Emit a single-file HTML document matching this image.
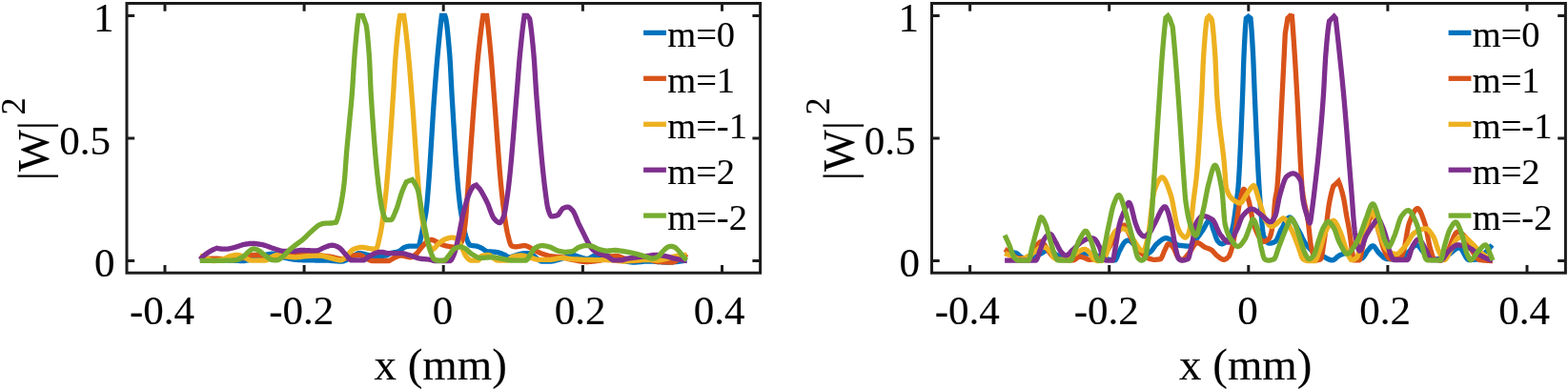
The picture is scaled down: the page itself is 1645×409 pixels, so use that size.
<!DOCTYPE html>
<html lang="en"><head><meta charset="utf-8"><title>|W|^2 vs x (mm)</title>
<style>html,body{margin:0;padding:0;background:#fff;overflow:hidden}svg{display:block}text{font-family:"Liberation Serif",serif}</style>
</head><body>
<svg width="1645" height="409" viewBox="0 0 1645 409">
<rect width="1645" height="409" fill="#fff"/>
<g fill="none" stroke-width="5.3" stroke-linejoin="miter" stroke-miterlimit="4" stroke-linecap="butt">
<path d="M209.8,272.0 L210.3,272.0 L210.8,272.0 L211.3,272.0 L211.8,272.0 L212.3,272.0 L212.8,272.1 L213.3,272.1 L213.8,272.1 L214.3,272.1 L214.8,272.1 L215.3,272.1 L215.8,272.1 L216.3,272.1 L216.8,272.1 L217.3,272.2 L217.8,272.2 L218.3,272.2 L218.8,272.2 L219.3,272.2 L219.8,272.2 L220.3,272.2 L220.8,272.2 L221.3,272.3 L221.8,272.3 L222.3,272.3 L222.8,272.3 L223.3,272.3 L223.8,272.3 L224.3,272.3 L224.8,272.3 L225.3,272.4 L225.8,272.4 L226.3,272.4 L226.8,272.4 L227.3,272.4 L227.8,272.4 L228.3,272.4 L228.8,272.5 L229.3,272.5 L229.8,272.5 L230.0,272.5 L230.3,272.5 L230.8,272.5 L231.3,272.5 L231.8,272.6 L232.3,272.6 L232.8,272.6 L233.3,272.6 L233.8,272.6 L234.3,272.7 L234.8,272.7 L235.3,272.7 L235.8,272.7 L236.3,272.8 L236.8,272.8 L237.3,272.8 L237.8,272.8 L238.3,272.9 L238.8,272.9 L239.3,272.9 L239.8,273.0 L240.3,273.0 L240.8,273.0 L241.3,273.0 L241.8,273.1 L242.3,273.1 L242.8,273.1 L243.3,273.1 L243.8,273.2 L244.3,273.2 L244.8,273.2 L245.3,273.2 L245.8,273.3 L246.3,273.3 L246.8,273.3 L247.3,273.3 L247.8,273.3 L248.3,273.4 L248.8,273.4 L249.3,273.4 L249.8,273.4 L250.3,273.4 L250.8,273.4 L251.3,273.5 L251.8,273.5 L252.3,273.5 L252.8,273.5 L253.3,273.5 L253.8,273.5 L254.3,273.5 L254.8,273.5 L255.0,273.5 L255.3,273.5 L255.8,273.5 L256.3,273.5 L256.8,273.4 L257.3,273.3 L257.8,273.3 L258.3,273.2 L258.8,273.1 L259.3,273.0 L259.8,272.9 L260.3,272.8 L260.8,272.7 L261.3,272.5 L261.8,272.4 L262.3,272.3 L262.8,272.1 L263.3,272.0 L263.8,271.8 L264.3,271.7 L264.8,271.5 L265.3,271.3 L265.8,271.2 L266.3,271.0 L266.8,270.9 L267.3,270.7 L267.8,270.6 L268.3,270.4 L268.8,270.3 L269.3,270.2 L269.8,270.0 L270.0,270.0 L270.3,269.9 L270.8,269.8 L271.3,269.7 L271.8,269.5 L272.3,269.4 L272.8,269.2 L273.3,269.1 L273.8,268.9 L274.3,268.8 L274.8,268.6 L275.3,268.4 L275.8,268.3 L276.3,268.1 L276.8,267.9 L277.3,267.8 L277.8,267.6 L278.3,267.5 L278.8,267.3 L279.3,267.2 L279.8,267.1 L280.3,266.9 L280.8,266.8 L281.3,266.7 L281.8,266.6 L282.3,266.5 L282.8,266.4 L283.3,266.4 L283.8,266.3 L284.3,266.3 L284.8,266.2 L285.3,266.2 L285.6,266.2 L285.8,266.2 L286.3,266.2 L286.8,266.3 L287.3,266.3 L287.8,266.4 L288.3,266.6 L288.8,266.7 L289.3,266.8 L289.8,267.0 L290.3,267.2 L290.8,267.3 L291.3,267.5 L291.8,267.7 L292.3,267.9 L292.8,268.1 L293.3,268.3 L293.8,268.6 L294.3,268.8 L294.8,269.0 L295.3,269.1 L295.8,269.3 L296.3,269.5 L296.8,269.7 L297.3,269.8 L297.8,270.0 L298.0,270.0 L298.3,270.1 L298.8,270.2 L299.3,270.3 L299.8,270.4 L300.3,270.5 L300.8,270.7 L301.3,270.8 L301.8,270.9 L302.3,271.0 L302.8,271.1 L303.3,271.2 L303.8,271.3 L304.3,271.4 L304.8,271.5 L305.3,271.6 L305.8,271.7 L306.3,271.8 L306.8,271.9 L307.3,272.0 L307.8,272.1 L308.3,272.1 L308.8,272.2 L309.3,272.2 L309.8,272.3 L310.0,272.3 L310.3,272.3 L310.8,272.4 L311.3,272.4 L311.8,272.4 L312.3,272.5 L312.8,272.5 L313.3,272.5 L313.8,272.6 L314.3,272.6 L314.8,272.6 L315.3,272.7 L315.8,272.7 L316.3,272.7 L316.8,272.7 L317.3,272.8 L317.8,272.8 L318.3,272.8 L318.8,272.8 L319.3,272.8 L319.8,272.9 L320.3,272.9 L320.8,272.9 L321.3,272.9 L321.8,272.9 L322.2,272.9 L322.3,272.9 L322.8,272.9 L323.3,272.9 L323.8,272.9 L324.3,272.9 L324.8,272.9 L325.3,272.9 L325.8,272.9 L326.3,272.9 L326.8,272.9 L327.3,272.9 L327.8,272.9 L328.3,272.9 L328.8,272.9 L329.3,272.9 L329.8,272.9 L330.3,272.9 L330.8,273.0 L331.3,273.0 L331.8,273.0 L332.3,273.0 L332.8,273.0 L333.3,273.0 L333.8,273.0 L334.3,273.0 L334.8,273.0 L335.3,273.0 L335.8,273.0 L336.3,273.0 L336.8,273.0 L337.3,273.0 L337.8,273.0 L338.3,273.0 L338.8,273.0 L339.3,273.0 L339.8,273.0 L340.0,273.0 L340.3,273.0 L340.8,273.0 L341.3,273.0 L341.8,273.0 L342.3,273.1 L342.8,273.1 L343.3,273.1 L343.8,273.1 L344.3,273.2 L344.8,273.2 L345.3,273.2 L345.8,273.3 L346.3,273.3 L346.8,273.4 L347.3,273.4 L347.8,273.4 L348.3,273.5 L348.8,273.5 L349.3,273.6 L349.8,273.6 L350.3,273.6 L350.8,273.7 L351.3,273.7 L351.8,273.8 L352.3,273.8 L352.8,273.8 L353.3,273.9 L353.8,273.9 L354.3,273.9 L354.8,274.0 L355.3,274.0 L355.8,274.0 L356.3,274.0 L356.8,274.1 L357.3,274.1 L357.8,274.1 L358.3,274.1 L358.8,274.1 L358.9,274.1 L359.3,274.1 L359.8,274.0 L360.3,273.9 L360.8,273.8 L361.3,273.6 L361.8,273.4 L362.3,273.2 L362.8,272.9 L363.3,272.7 L363.8,272.4 L364.3,272.1 L364.8,271.8 L365.3,271.5 L365.8,271.2 L366.3,270.9 L366.8,270.6 L367.3,270.3 L367.8,270.1 L368.0,270.0 L368.3,269.9 L368.8,269.6 L369.3,269.3 L369.8,269.0 L370.3,268.7 L370.8,268.4 L371.3,268.1 L371.8,267.8 L372.3,267.5 L372.8,267.2 L373.3,266.9 L373.8,266.6 L374.3,266.4 L374.8,266.2 L375.3,266.0 L375.8,265.8 L376.3,265.7 L376.8,265.6 L377.3,265.6 L377.8,265.6 L378.3,265.6 L378.8,265.7 L379.3,265.8 L379.8,265.9 L380.3,266.0 L380.8,266.1 L381.3,266.2 L381.8,266.3 L382.3,266.5 L382.8,266.6 L383.3,266.8 L383.8,266.9 L384.3,267.1 L384.8,267.2 L385.3,267.3 L385.8,267.5 L386.0,267.5 L386.3,267.6 L386.8,267.7 L387.3,267.8 L387.8,268.0 L388.3,268.1 L388.8,268.3 L389.3,268.5 L389.8,268.6 L390.3,268.8 L390.8,268.9 L391.3,269.1 L391.8,269.2 L392.3,269.3 L392.8,269.5 L393.3,269.6 L393.8,269.7 L394.3,269.7 L394.8,269.8 L395.3,269.8 L395.6,269.8 L395.8,269.8 L396.3,269.7 L396.8,269.6 L397.3,269.5 L397.8,269.3 L398.3,269.1 L398.8,268.9 L399.3,268.8 L399.8,268.6 L400.0,268.6 L400.3,268.6 L400.8,268.5 L401.3,268.4 L401.8,268.4 L402.3,268.3 L402.8,268.3 L403.3,268.2 L403.8,268.2 L404.3,268.1 L404.8,268.0 L404.9,268.0 L405.3,267.9 L405.8,267.7 L406.3,267.5 L406.8,267.2 L407.3,266.9 L407.8,266.6 L408.3,266.3 L408.8,266.0 L409.3,265.8 L409.8,265.6 L410.3,265.5 L410.8,265.3 L411.3,265.2 L411.8,265.1 L412.3,265.0 L412.8,264.9 L413.3,264.8 L413.8,264.7 L414.3,264.6 L414.8,264.6 L415.3,264.5 L415.8,264.4 L416.3,264.3 L416.8,264.1 L417.3,264.0 L417.8,263.9 L418.3,263.7 L418.8,263.5 L419.3,263.2 L419.8,262.8 L420.3,262.5 L420.8,262.0 L421.3,261.6 L421.8,261.2 L422.3,260.7 L422.8,260.3 L423.3,260.0 L423.8,259.7 L424.3,259.4 L424.4,259.4 L424.8,259.3 L425.3,259.1 L425.8,258.9 L426.3,258.7 L426.8,258.6 L427.3,258.5 L427.8,258.4 L428.3,258.3 L428.8,258.2 L429.3,258.2 L429.8,258.2 L430.3,258.2 L430.8,258.2 L431.3,258.2 L431.8,258.2 L432.3,258.2 L432.8,258.2 L433.3,258.2 L433.8,258.2 L434.3,258.2 L434.8,258.2 L435.3,258.2 L435.8,258.2 L436.3,258.2 L436.8,258.2 L437.3,258.2 L437.8,258.2 L438.3,258.2 L438.8,258.2 L439.1,258.2 L439.3,258.1 L439.8,257.1 L440.3,255.3 L440.8,252.9 L441.3,250.4 L441.8,247.9 L442.0,247.0 L442.3,245.7 L442.8,243.4 L443.3,241.0 L443.8,238.5 L444.3,236.0 L444.5,235.0 L444.8,233.5 L445.3,231.2 L445.8,228.9 L446.3,226.3 L446.8,223.4 L447.0,222.0 L447.3,219.7 L447.8,215.0 L448.3,209.5 L448.8,203.6 L449.1,200.0 L449.3,197.6 L449.8,191.0 L450.3,184.0 L450.8,176.6 L451.3,168.9 L451.8,161.0 L452.3,152.8 L452.8,144.6 L453.3,136.5 L453.8,128.4 L454.3,120.5 L454.8,112.8 L455.3,105.5 L455.7,100.0 L455.8,98.7 L456.3,92.0 L456.8,85.5 L457.3,79.2 L457.8,73.0 L458.3,67.0 L458.8,61.3 L459.1,58.0 L459.3,55.8 L459.8,50.5 L460.3,45.3 L460.8,40.2 L461.3,35.3 L461.8,30.5 L462.3,25.9 L462.8,21.5 L463.3,17.3 L463.4,16.5 L463.9,16.5 L464.4,16.5 L464.9,16.5 L465.4,16.5 L465.9,16.5 L466.4,16.5 L466.8,16.5 L467.3,17.7 L467.8,19.8 L468.3,22.8 L468.8,26.4 L469.3,30.7 L469.8,35.5 L470.3,40.7 L470.8,46.3 L471.3,52.1 L471.8,58.0 L472.3,65.3 L472.8,74.7 L473.3,84.8 L473.8,94.7 L474.1,100.0 L474.3,103.3 L474.8,111.6 L475.3,119.9 L475.8,128.2 L476.3,136.4 L476.8,144.4 L477.3,152.2 L477.8,159.9 L478.3,167.3 L478.8,174.4 L479.3,181.1 L479.8,187.5 L480.3,193.5 L480.8,199.0 L480.9,200.0 L481.3,204.0 L481.8,208.7 L482.3,213.1 L482.8,217.1 L483.3,220.7 L483.5,222.0 L483.8,223.9 L484.3,226.7 L484.8,229.2 L485.3,231.6 L485.8,234.0 L486.0,235.0 L486.3,236.5 L486.8,239.2 L487.3,241.8 L487.8,244.3 L488.3,246.3 L488.5,247.0 L488.8,247.9 L489.3,249.5 L489.8,251.0 L490.3,252.4 L490.8,253.7 L491.3,254.8 L491.8,255.8 L492.3,256.5 L492.8,256.9 L493.0,257.0 L493.3,257.1 L493.8,257.2 L494.3,257.3 L494.8,257.4 L495.3,257.5 L495.8,257.6 L496.3,257.7 L496.8,257.7 L497.3,257.8 L497.8,257.8 L498.3,257.9 L498.8,257.9 L499.3,258.0 L499.8,258.1 L500.2,258.2 L500.3,258.2 L500.8,258.4 L501.3,258.5 L501.8,258.7 L502.3,258.9 L502.8,259.1 L503.3,259.3 L503.8,259.5 L504.3,259.7 L504.8,260.0 L505.1,260.1 L505.3,260.2 L505.8,260.5 L506.3,260.8 L506.8,261.1 L507.3,261.5 L507.8,261.9 L508.3,262.3 L508.8,262.6 L509.3,262.9 L509.8,263.2 L510.3,263.5 L510.8,263.6 L511.2,263.7 L511.3,263.7 L511.8,263.8 L512.3,263.8 L512.8,263.9 L513.3,263.9 L513.8,263.9 L514.3,264.0 L514.8,264.0 L515.3,264.0 L515.8,264.0 L516.3,264.1 L516.8,264.1 L517.3,264.1 L517.8,264.1 L518.3,264.2 L518.8,264.2 L519.3,264.2 L519.8,264.3 L520.3,264.4 L520.8,264.4 L521.3,264.5 L521.8,264.6 L522.3,264.8 L522.8,264.9 L523.3,265.0 L523.8,265.2 L524.3,265.3 L524.8,265.5 L525.3,265.7 L525.8,265.8 L526.3,266.0 L526.8,266.2 L527.3,266.4 L527.8,266.6 L528.3,266.8 L528.4,266.8 L528.8,267.0 L529.3,267.2 L529.8,267.5 L530.3,267.8 L530.8,268.2 L531.3,268.5 L531.8,268.8 L532.3,269.1 L532.8,269.4 L533.3,269.6 L533.8,269.7 L534.3,269.8 L534.5,269.8 L534.8,269.8 L535.3,269.7 L535.8,269.7 L536.3,269.5 L536.8,269.4 L537.3,269.2 L537.8,269.0 L538.3,268.8 L538.8,268.6 L539.3,268.4 L539.8,268.3 L540.3,268.1 L540.6,268.0 L540.8,267.9 L541.3,267.8 L541.8,267.6 L542.3,267.4 L542.8,267.3 L543.3,267.1 L543.8,266.9 L544.3,266.8 L544.8,266.6 L545.3,266.5 L545.8,266.4 L546.3,266.3 L546.7,266.2 L546.8,266.2 L547.3,266.1 L547.8,266.0 L548.3,266.0 L548.8,265.9 L549.3,265.8 L549.8,265.8 L550.3,265.7 L550.8,265.7 L551.3,265.6 L551.8,265.6 L552.3,265.6 L552.8,265.6 L553.3,265.6 L553.8,265.7 L554.3,265.7 L554.8,265.9 L555.3,266.0 L555.8,266.1 L556.3,266.3 L556.8,266.5 L557.3,266.7 L557.8,266.9 L558.3,267.1 L558.8,267.4 L558.9,267.4 L559.3,267.6 L559.8,268.0 L560.3,268.4 L560.8,268.9 L561.3,269.4 L561.8,269.9 L562.3,270.4 L562.8,270.9 L563.3,271.3 L563.8,271.7 L564.3,272.0 L564.8,272.4 L565.3,272.7 L565.8,273.0 L566.3,273.3 L566.8,273.6 L567.3,273.8 L567.8,274.0 L568.3,274.1 L568.7,274.1 L568.8,274.1 L569.3,274.1 L569.8,274.1 L570.3,274.1 L570.8,274.1 L571.3,274.1 L571.8,274.1 L572.3,274.1 L572.8,274.1 L573.3,274.1 L573.8,274.1 L574.3,274.1 L574.8,274.1 L575.3,274.1 L575.8,274.1 L576.3,274.1 L576.8,274.1 L577.3,274.1 L577.8,274.1 L578.3,274.1 L578.8,274.0 L579.3,273.9 L579.8,273.9 L580.3,273.8 L580.8,273.7 L581.3,273.5 L581.8,273.4 L582.3,273.3 L582.8,273.1 L583.3,273.0 L583.8,272.8 L584.3,272.7 L584.8,272.6 L585.3,272.4 L585.8,272.3 L586.3,272.2 L586.8,272.0 L587.3,271.9 L587.8,271.7 L588.3,271.6 L588.8,271.4 L589.3,271.3 L589.8,271.1 L590.3,270.9 L590.8,270.8 L591.3,270.6 L591.8,270.5 L592.3,270.3 L592.8,270.1 L593.2,270.0 L593.3,270.0 L593.8,269.8 L594.3,269.6 L594.8,269.4 L595.3,269.2 L595.8,269.0 L596.3,268.8 L596.8,268.6 L597.3,268.4 L597.8,268.2 L598.3,268.0 L598.8,267.8 L599.3,267.7 L599.8,267.6 L600.3,267.5 L600.8,267.5 L601.0,267.5 L601.3,267.5 L601.8,267.6 L602.3,267.6 L602.8,267.7 L603.3,267.9 L603.8,268.0 L604.3,268.2 L604.8,268.4 L605.3,268.6 L605.8,268.7 L606.3,268.9 L606.8,269.1 L607.3,269.3 L607.8,269.4 L608.0,269.5 L608.3,269.6 L608.8,269.7 L609.3,269.9 L609.8,270.1 L610.3,270.2 L610.8,270.4 L611.3,270.6 L611.8,270.7 L612.3,270.9 L612.8,271.0 L613.3,271.2 L613.8,271.3 L614.3,271.4 L614.8,271.4 L615.3,271.5 L615.7,271.5 L615.8,271.5 L616.3,271.5 L616.8,271.4 L617.3,271.2 L617.8,271.1 L618.3,270.9 L618.8,270.6 L619.3,270.4 L619.8,270.1 L620.3,269.8 L620.8,269.5 L621.3,269.2 L621.8,269.0 L622.3,268.7 L622.8,268.4 L623.3,268.2 L623.8,268.0 L624.3,267.8 L624.8,267.7 L625.3,267.6 L625.8,267.5 L626.0,267.5 L626.3,267.5 L626.8,267.5 L627.3,267.5 L627.8,267.5 L628.3,267.5 L628.8,267.5 L629.3,267.6 L629.8,267.6 L630.3,267.6 L630.8,267.6 L631.3,267.7 L631.8,267.7 L632.3,267.7 L632.8,267.8 L633.3,267.8 L633.8,267.8 L634.3,267.9 L634.8,267.9 L635.3,267.9 L635.8,268.0 L636.0,268.0 L636.3,268.0 L636.8,268.1 L637.3,268.2 L637.8,268.3 L638.3,268.4 L638.8,268.6 L639.3,268.7 L639.8,268.9 L640.3,269.1 L640.8,269.3 L641.3,269.5 L641.8,269.7 L642.3,269.9 L642.8,270.1 L643.3,270.3 L643.8,270.5 L644.3,270.7 L644.8,270.9 L645.3,271.1 L645.8,271.3 L646.3,271.5 L646.8,271.7 L647.3,271.8 L647.8,272.0 L648.0,272.0 L648.3,272.1 L648.8,272.2 L649.3,272.3 L649.8,272.4 L650.3,272.6 L650.8,272.7 L651.3,272.8 L651.8,272.9 L652.3,273.0 L652.8,273.2 L653.3,273.3 L653.8,273.4 L654.3,273.5 L654.8,273.6 L655.3,273.7 L655.8,273.9 L656.3,274.0 L656.8,274.1 L657.3,274.2 L657.8,274.3 L658.3,274.3 L658.8,274.4 L659.3,274.5 L659.8,274.6 L660.3,274.7 L660.8,274.7 L661.3,274.8 L661.8,274.8 L662.3,274.9 L662.8,274.9 L663.3,275.0 L663.8,275.0 L664.3,275.0 L664.8,275.0 L665.0,275.0 L665.3,275.0 L665.8,275.0 L666.3,275.0 L666.8,275.0 L667.3,274.9 L667.8,274.9 L668.3,274.9 L668.8,274.8 L669.3,274.8 L669.8,274.8 L670.3,274.7 L670.8,274.7 L671.3,274.6 L671.8,274.6 L672.3,274.5 L672.8,274.5 L673.3,274.4 L673.8,274.4 L674.3,274.3 L674.8,274.3 L675.3,274.2 L675.8,274.2 L676.3,274.2 L676.8,274.1 L677.3,274.1 L677.8,274.1 L678.3,274.0 L678.8,274.0 L679.3,274.0 L679.8,274.0 L680.0,274.0 L680.3,274.0 L680.8,274.0 L681.3,274.0 L681.8,274.0 L682.3,274.0 L682.8,274.1 L683.3,274.1 L683.8,274.1 L684.3,274.1 L684.8,274.1 L685.3,274.2 L685.8,274.2 L686.3,274.2 L686.8,274.3 L687.3,274.3 L687.8,274.3 L688.3,274.4 L688.8,274.4 L689.3,274.4 L689.8,274.5 L690.3,274.5 L690.8,274.6 L691.3,274.6 L691.8,274.6 L692.3,274.7 L692.8,274.7 L693.3,274.7 L693.8,274.8 L694.3,274.8 L694.8,274.8 L695.3,274.9 L695.8,274.9 L696.3,274.9 L696.8,274.9 L697.3,275.0 L697.8,275.0 L698.3,275.0 L698.8,275.0 L699.3,275.0 L699.8,275.0 L700.0,275.0 L700.3,275.0 L700.8,275.0 L701.3,275.0 L701.8,275.0 L702.3,275.0 L702.8,275.0 L703.3,274.9 L703.8,274.9 L704.3,274.9 L704.8,274.9 L705.3,274.8 L705.8,274.8 L706.3,274.8 L706.8,274.7 L707.3,274.7 L707.8,274.7 L708.3,274.6 L708.8,274.6 L709.3,274.5 L709.8,274.5 L710.3,274.4 L710.8,274.4 L711.3,274.3 L711.8,274.3 L712.3,274.2 L712.8,274.1 L713.3,274.1 L713.8,274.0 L714.3,273.9 L714.8,273.9 L715.3,273.8 L715.8,273.7 L716.3,273.7 L716.8,273.6 L717.3,273.5 L717.8,273.4 L718.3,273.4 L718.8,273.3 L719.3,273.2 L719.8,273.1 L720.3,273.0 L720.4,273.0" stroke="#0072BD"/>
<path d="M209.8,271.1 L210.3,271.1 L210.8,271.1 L211.3,271.1 L211.8,271.1 L212.3,271.1 L212.8,271.1 L213.3,271.1 L213.8,271.1 L214.3,271.1 L214.8,271.1 L215.3,271.1 L215.8,271.1 L216.3,271.1 L216.8,271.1 L217.3,271.1 L217.8,271.1 L218.3,271.1 L218.8,271.1 L219.3,271.1 L219.8,271.1 L220.3,271.1 L220.8,271.1 L221.3,271.1 L221.8,271.1 L222.3,271.1 L222.8,271.1 L223.3,271.1 L223.8,271.1 L224.3,271.1 L224.4,271.1 L224.8,271.1 L225.3,271.1 L225.8,271.1 L226.3,271.1 L226.8,271.2 L227.3,271.2 L227.8,271.2 L228.3,271.2 L228.8,271.3 L229.3,271.3 L229.8,271.3 L230.3,271.4 L230.8,271.4 L231.3,271.5 L231.8,271.5 L232.3,271.5 L232.8,271.6 L233.3,271.6 L233.8,271.6 L234.3,271.6 L234.8,271.7 L235.3,271.7 L235.8,271.7 L236.3,271.7 L236.7,271.7 L236.8,271.7 L237.3,271.7 L237.8,271.7 L238.3,271.7 L238.8,271.7 L239.3,271.7 L239.8,271.7 L240.3,271.6 L240.8,271.6 L241.3,271.6 L241.8,271.6 L242.3,271.6 L242.8,271.5 L243.3,271.5 L243.8,271.5 L244.3,271.5 L244.8,271.4 L245.3,271.4 L245.8,271.4 L246.3,271.3 L246.8,271.3 L247.3,271.2 L247.8,271.2 L248.3,271.2 L248.8,271.1 L249.3,271.1 L249.8,271.0 L250.3,271.0 L250.8,270.9 L251.3,270.9 L251.8,270.8 L252.3,270.8 L252.8,270.7 L253.3,270.7 L253.8,270.6 L254.3,270.6 L254.8,270.5 L255.0,270.5 L255.3,270.5 L255.8,270.4 L256.3,270.3 L256.8,270.1 L257.3,270.0 L257.8,269.8 L258.3,269.6 L258.8,269.5 L259.3,269.3 L259.8,269.1 L260.3,268.9 L260.8,268.7 L261.3,268.5 L261.8,268.3 L262.3,268.1 L262.8,268.0 L263.3,267.8 L263.8,267.7 L264.3,267.6 L264.8,267.5 L265.3,267.4 L265.8,267.4 L266.0,267.4 L266.3,267.4 L266.8,267.4 L267.3,267.4 L267.8,267.5 L268.3,267.5 L268.8,267.5 L269.3,267.6 L269.8,267.6 L270.3,267.7 L270.8,267.7 L271.3,267.8 L271.8,267.8 L272.3,267.9 L272.8,267.9 L273.3,268.0 L273.8,268.1 L274.3,268.1 L274.8,268.2 L275.3,268.3 L275.8,268.4 L276.3,268.6 L276.8,268.7 L277.3,268.8 L277.8,269.0 L278.3,269.1 L278.8,269.2 L279.3,269.4 L279.8,269.5 L280.3,269.7 L280.8,269.8 L281.3,269.9 L281.8,270.0 L282.3,270.1 L282.8,270.2 L283.3,270.3 L283.8,270.4 L284.3,270.4 L284.8,270.5 L285.3,270.5 L285.6,270.5 L285.8,270.5 L286.3,270.5 L286.8,270.5 L287.3,270.5 L287.8,270.4 L288.3,270.4 L288.8,270.4 L289.3,270.3 L289.8,270.3 L290.3,270.2 L290.8,270.2 L291.3,270.1 L291.8,270.1 L292.3,270.0 L292.8,269.9 L293.3,269.9 L293.8,269.8 L294.3,269.7 L294.8,269.6 L295.3,269.5 L295.8,269.4 L296.3,269.4 L296.8,269.3 L297.3,269.2 L297.8,269.1 L298.3,269.0 L298.8,268.9 L299.3,268.8 L299.8,268.7 L300.3,268.7 L300.8,268.6 L301.3,268.5 L301.8,268.4 L302.3,268.3 L302.8,268.2 L303.3,268.1 L303.8,268.1 L304.3,268.0 L304.8,267.9 L305.3,267.9 L305.8,267.8 L306.3,267.7 L306.8,267.7 L307.3,267.6 L307.8,267.6 L308.3,267.5 L308.8,267.5 L309.3,267.4 L309.8,267.4 L310.0,267.4 L310.3,267.4 L310.8,267.4 L311.3,267.3 L311.8,267.3 L312.3,267.3 L312.8,267.3 L313.3,267.2 L313.8,267.2 L314.3,267.2 L314.8,267.2 L315.3,267.2 L315.8,267.1 L316.3,267.1 L316.8,267.1 L317.3,267.1 L317.8,267.1 L318.3,267.1 L318.8,267.0 L319.3,267.0 L319.8,267.0 L320.3,267.0 L320.8,267.0 L321.3,267.0 L321.8,267.0 L322.2,267.0 L322.3,267.0 L322.8,267.0 L323.3,267.0 L323.8,267.0 L324.3,267.0 L324.8,267.0 L325.3,267.1 L325.8,267.1 L326.3,267.1 L326.8,267.1 L327.3,267.1 L327.8,267.2 L328.3,267.2 L328.8,267.2 L329.3,267.3 L329.8,267.3 L330.3,267.3 L330.8,267.4 L331.3,267.4 L331.8,267.4 L332.3,267.5 L332.8,267.5 L333.3,267.6 L333.8,267.6 L334.3,267.7 L334.8,267.7 L335.3,267.8 L335.8,267.8 L336.3,267.9 L336.8,268.0 L337.3,268.0 L337.8,268.1 L338.3,268.1 L338.8,268.2 L339.3,268.2 L339.8,268.3 L340.3,268.4 L340.8,268.4 L341.3,268.5 L341.8,268.6 L342.3,268.6 L342.8,268.7 L343.3,268.8 L343.8,268.8 L344.3,268.9 L344.8,269.0 L345.3,269.0 L345.8,269.1 L346.3,269.1 L346.7,269.2 L346.8,269.2 L347.3,269.3 L347.8,269.4 L348.3,269.5 L348.8,269.6 L349.3,269.7 L349.8,269.8 L350.3,270.0 L350.8,270.1 L351.3,270.2 L351.8,270.4 L352.3,270.5 L352.8,270.6 L353.3,270.8 L353.8,270.9 L354.3,271.0 L354.8,271.2 L355.3,271.3 L355.8,271.4 L356.3,271.5 L356.8,271.5 L357.3,271.6 L357.8,271.7 L358.3,271.7 L358.8,271.7 L358.9,271.7 L359.3,271.7 L359.8,271.7 L360.3,271.6 L360.8,271.5 L361.3,271.4 L361.8,271.2 L362.3,271.1 L362.8,270.9 L363.3,270.7 L363.8,270.6 L364.3,270.4 L364.8,270.1 L365.3,269.9 L365.8,269.7 L366.3,269.5 L366.8,269.3 L367.3,269.1 L367.8,268.9 L368.3,268.7 L368.8,268.6 L369.3,268.4 L369.8,268.3 L370.3,268.1 L370.8,268.0 L371.1,268.0 L371.3,268.0 L371.8,267.9 L372.3,267.8 L372.8,267.8 L373.3,267.7 L373.8,267.6 L374.3,267.6 L374.8,267.5 L375.3,267.5 L375.8,267.5 L376.3,267.4 L376.8,267.4 L377.3,267.4 L377.8,267.4 L378.3,267.6 L378.8,267.7 L379.3,268.0 L379.8,268.3 L380.3,268.6 L380.8,268.9 L381.3,269.2 L381.8,269.6 L382.3,269.9 L382.8,270.2 L383.3,270.5 L383.4,270.5 L383.8,270.7 L384.3,270.9 L384.8,271.2 L385.3,271.5 L385.8,271.8 L386.3,272.0 L386.8,272.3 L387.3,272.5 L387.8,272.8 L388.3,273.0 L388.8,273.2 L389.3,273.3 L389.8,273.4 L390.3,273.5 L390.7,273.5 L390.8,273.5 L391.3,273.5 L391.8,273.5 L392.3,273.5 L392.8,273.5 L393.3,273.5 L393.8,273.5 L394.3,273.5 L394.8,273.5 L395.3,273.5 L395.8,273.5 L396.3,273.5 L396.8,273.5 L397.3,273.5 L397.8,273.5 L398.3,273.5 L398.8,273.5 L399.3,273.5 L399.8,273.5 L400.0,273.5 L400.3,273.5 L400.8,273.5 L401.3,273.5 L401.8,273.5 L402.3,273.5 L402.8,273.5 L403.3,273.5 L403.8,273.5 L404.3,273.5 L404.8,273.5 L405.3,273.5 L405.8,273.5 L406.3,273.5 L406.8,273.5 L407.3,273.5 L407.8,273.5 L408.3,273.3 L408.8,273.2 L409.3,272.9 L409.8,272.6 L410.3,272.3 L410.8,272.0 L411.3,271.7 L411.8,271.4 L412.3,271.1 L412.8,270.8 L413.3,270.5 L413.4,270.5 L413.8,270.3 L414.3,270.1 L414.8,269.9 L415.3,269.7 L415.8,269.4 L416.3,269.2 L416.8,269.0 L417.3,268.8 L417.8,268.6 L418.3,268.4 L418.8,268.3 L419.3,268.2 L419.8,268.1 L420.3,268.0 L420.8,268.0 L421.3,268.0 L421.8,268.1 L422.3,268.1 L422.8,268.2 L423.3,268.3 L423.8,268.4 L424.3,268.5 L424.8,268.7 L425.3,268.8 L425.8,268.9 L426.3,269.1 L426.8,269.2 L427.3,269.3 L427.8,269.4 L428.3,269.5 L428.8,269.6 L429.3,269.7 L429.8,269.8 L430.3,269.8 L430.6,269.8 L430.8,269.8 L431.3,269.7 L431.8,269.6 L432.3,269.4 L432.8,269.1 L433.3,268.8 L433.8,268.5 L434.3,268.1 L434.8,267.7 L435.3,267.3 L435.8,266.9 L436.3,266.5 L436.7,266.2 L436.8,266.1 L437.3,265.7 L437.8,265.2 L438.3,264.6 L438.8,264.0 L439.3,263.3 L439.8,262.7 L440.3,262.0 L440.8,261.3 L441.3,260.6 L441.8,260.0 L442.3,259.4 L442.8,258.8 L443.3,258.2 L443.8,257.7 L444.3,257.1 L444.8,256.5 L445.3,255.9 L445.8,255.3 L446.3,254.8 L446.8,254.3 L447.3,253.8 L447.8,253.4 L448.3,253.0 L448.8,252.7 L448.9,252.7 L449.3,252.5 L449.8,252.3 L450.3,252.1 L450.8,251.9 L451.3,251.7 L451.8,251.6 L452.3,251.5 L452.6,251.5 L452.8,251.5 L453.3,251.6 L453.8,251.7 L454.3,251.8 L454.8,252.0 L455.3,252.3 L455.8,252.5 L456.3,252.7 L456.8,253.0 L457.3,253.2 L457.5,253.3 L457.8,253.4 L458.3,253.7 L458.8,253.9 L459.3,254.2 L459.8,254.5 L460.3,254.8 L460.8,255.1 L461.3,255.3 L461.8,255.6 L462.3,255.9 L462.8,256.2 L463.3,256.4 L463.8,256.6 L464.3,256.8 L464.8,257.0 L465.3,257.1 L465.8,257.3 L466.3,257.4 L466.8,257.6 L467.3,257.7 L467.8,257.8 L468.3,257.9 L468.8,258.0 L469.3,258.1 L469.8,258.2 L470.3,258.3 L470.8,258.4 L471.3,258.5 L471.8,258.6 L472.3,258.7 L472.8,258.7 L473.3,258.8 L473.8,258.9 L474.3,258.9 L474.8,259.0 L475.3,259.1 L475.8,259.1 L476.3,259.2 L476.8,259.2 L477.3,259.3 L477.8,259.3 L478.3,259.4 L478.8,259.4 L479.3,259.4 L479.5,259.4 L479.8,259.4 L480.3,259.2 L480.8,258.9 L481.3,258.4 L481.8,257.8 L482.3,257.1 L482.8,256.3 L483.3,255.4 L483.8,254.5 L484.3,253.5 L484.4,253.3 L484.8,252.3 L485.3,250.7 L485.8,248.6 L486.3,246.0 L486.8,243.2 L487.3,240.0 L487.8,236.5 L488.0,235.0 L488.3,232.4 L488.8,226.9 L489.3,220.2 L489.8,212.9 L490.3,205.6 L490.7,200.0 L490.8,198.7 L491.3,191.9 L491.8,185.1 L492.3,178.1 L492.8,171.1 L493.3,164.0 L493.8,156.9 L494.3,149.8 L494.8,142.8 L495.3,135.7 L495.8,128.8 L496.3,122.0 L496.8,115.3 L497.3,108.8 L497.8,102.5 L498.0,100.0 L498.3,96.3 L498.8,90.2 L499.3,84.2 L499.8,78.3 L500.3,72.6 L500.8,67.1 L501.3,61.9 L501.7,58.0 L501.8,57.0 L502.3,52.3 L502.8,47.7 L503.3,43.3 L503.8,38.9 L504.3,34.7 L504.8,30.7 L505.3,26.9 L505.8,23.2 L506.3,19.7 L506.8,16.5 L507.3,16.5 L507.8,16.5 L508.3,16.5 L508.8,16.5 L509.3,16.5 L509.8,16.5 L510.3,16.5 L510.7,16.5 L511.2,20.6 L511.7,24.9 L512.2,29.4 L512.7,34.1 L513.2,39.0 L513.7,44.1 L514.2,49.3 L514.7,54.7 L515.0,58.0 L515.2,60.2 L515.7,66.2 L516.2,72.5 L516.7,79.0 L517.2,85.6 L517.7,92.2 L518.2,98.7 L518.3,100.0 L518.7,105.1 L519.2,111.7 L519.7,118.4 L520.2,125.2 L520.7,132.0 L521.2,138.8 L521.7,145.7 L522.2,152.4 L522.7,159.1 L523.2,165.6 L523.7,172.0 L524.2,178.2 L524.7,184.1 L525.2,189.7 L525.7,195.0 L526.2,200.0 L526.7,204.7 L527.2,209.2 L527.7,213.6 L528.2,217.8 L528.7,221.8 L529.2,225.6 L529.7,229.1 L530.2,232.5 L530.6,235.0 L530.7,235.6 L531.2,238.5 L531.7,241.3 L532.2,243.8 L532.7,246.0 L533.0,247.2 L533.2,248.0 L533.7,249.9 L534.2,251.9 L534.7,253.7 L535.2,255.2 L535.7,256.5 L536.2,257.3 L536.5,257.6 L536.7,257.7 L537.2,258.0 L537.7,258.2 L538.2,258.4 L538.7,258.5 L539.2,258.6 L539.7,258.7 L540.2,258.8 L540.6,258.8 L540.7,258.8 L541.2,258.8 L541.7,258.8 L542.2,258.7 L542.7,258.7 L543.2,258.6 L543.7,258.5 L544.2,258.4 L544.7,258.3 L545.2,258.3 L545.7,258.2 L546.2,258.1 L546.7,258.0 L547.2,257.9 L547.7,257.8 L548.2,257.8 L548.7,257.7 L549.2,257.6 L549.7,257.6 L550.2,257.6 L550.4,257.6 L550.7,257.6 L551.2,257.7 L551.7,257.8 L552.2,257.9 L552.7,258.1 L553.2,258.3 L553.7,258.5 L554.2,258.7 L554.7,259.0 L555.2,259.3 L555.7,259.5 L556.2,259.8 L556.7,260.1 L557.2,260.4 L557.7,260.7 L558.2,261.0 L558.7,261.2 L558.9,261.3 L559.2,261.4 L559.7,261.7 L560.2,261.9 L560.7,262.2 L561.2,262.5 L561.7,262.7 L562.2,263.0 L562.7,263.3 L563.2,263.5 L563.7,263.8 L564.2,264.1 L564.7,264.3 L565.2,264.6 L565.7,264.8 L566.2,265.1 L566.7,265.3 L567.2,265.5 L567.5,265.6 L567.7,265.7 L568.2,265.9 L568.7,266.1 L569.2,266.2 L569.7,266.4 L570.2,266.6 L570.7,266.8 L571.2,267.0 L571.7,267.1 L572.2,267.3 L572.7,267.5 L573.2,267.6 L573.7,267.8 L574.2,267.9 L574.7,268.1 L575.2,268.2 L575.7,268.3 L576.2,268.4 L576.7,268.5 L577.2,268.6 L577.3,268.6 L577.7,268.7 L578.2,268.7 L578.7,268.8 L579.2,268.8 L579.7,268.9 L580.2,269.0 L580.7,269.0 L581.2,269.0 L581.7,269.1 L582.2,269.1 L582.7,269.2 L583.2,269.2 L583.7,269.2 L584.2,269.3 L584.7,269.3 L585.2,269.4 L585.7,269.4 L586.2,269.4 L586.7,269.5 L587.2,269.5 L587.7,269.6 L588.2,269.6 L588.7,269.7 L589.2,269.8 L589.5,269.8 L589.7,269.8 L590.2,269.9 L590.7,270.0 L591.2,270.1 L591.7,270.2 L592.2,270.3 L592.7,270.4 L593.2,270.6 L593.7,270.7 L594.2,270.8 L594.7,271.0 L595.2,271.1 L595.7,271.3 L596.2,271.4 L596.7,271.5 L597.2,271.7 L597.7,271.8 L598.2,271.9 L598.7,272.0 L599.2,272.1 L599.7,272.2 L600.0,272.3 L600.2,272.3 L600.7,272.4 L601.2,272.5 L601.7,272.6 L602.2,272.7 L602.7,272.8 L603.2,272.9 L603.7,273.0 L604.2,273.1 L604.7,273.2 L605.2,273.3 L605.7,273.4 L606.2,273.5 L606.7,273.6 L607.2,273.7 L607.7,273.8 L608.2,273.9 L608.7,273.9 L609.2,274.0 L609.7,274.1 L610.2,274.2 L610.7,274.2 L611.2,274.3 L611.7,274.3 L612.2,274.4 L612.7,274.4 L613.2,274.4 L613.7,274.5 L614.2,274.5 L614.7,274.5 L615.0,274.5 L615.2,274.5 L615.7,274.5 L616.2,274.5 L616.7,274.5 L617.2,274.5 L617.7,274.4 L618.2,274.4 L618.7,274.4 L619.2,274.4 L619.7,274.3 L620.2,274.3 L620.7,274.2 L621.2,274.2 L621.7,274.1 L622.2,274.1 L622.7,274.0 L623.2,274.0 L623.7,273.9 L624.2,273.9 L624.7,273.8 L625.2,273.7 L625.7,273.7 L626.2,273.6 L626.7,273.5 L627.2,273.4 L627.7,273.4 L628.2,273.3 L628.7,273.2 L629.2,273.1 L629.7,273.0 L630.0,273.0 L630.2,273.0 L630.7,272.8 L631.2,272.7 L631.7,272.5 L632.2,272.3 L632.7,272.1 L633.2,271.9 L633.7,271.6 L634.2,271.4 L634.7,271.1 L635.2,270.8 L635.7,270.6 L636.2,270.3 L636.7,270.1 L637.2,269.8 L637.7,269.6 L638.2,269.4 L638.7,269.3 L639.2,269.1 L639.7,269.0 L640.0,269.0 L640.2,269.0 L640.7,268.9 L641.2,268.9 L641.7,268.8 L642.2,268.8 L642.7,268.7 L643.2,268.7 L643.7,268.6 L644.2,268.6 L644.7,268.6 L645.2,268.5 L645.7,268.5 L646.2,268.5 L646.7,268.5 L647.0,268.5 L647.2,268.5 L647.7,268.5 L648.2,268.6 L648.7,268.7 L649.2,268.8 L649.7,269.0 L650.2,269.2 L650.7,269.4 L651.2,269.6 L651.7,269.8 L652.2,270.0 L652.7,270.2 L653.2,270.4 L653.7,270.6 L654.2,270.7 L654.7,270.9 L655.0,271.0 L655.2,271.1 L655.7,271.2 L656.2,271.4 L656.7,271.5 L657.2,271.7 L657.7,271.8 L658.2,272.0 L658.7,272.2 L659.2,272.3 L659.7,272.5 L660.2,272.7 L660.7,272.8 L661.2,272.9 L661.7,273.1 L662.2,273.2 L662.7,273.3 L663.2,273.4 L663.7,273.4 L664.2,273.5 L664.7,273.5 L665.0,273.5 L665.2,273.5 L665.7,273.5 L666.2,273.5 L666.7,273.4 L667.2,273.4 L667.7,273.4 L668.2,273.3 L668.7,273.3 L669.2,273.2 L669.7,273.2 L670.2,273.1 L670.7,273.0 L671.2,272.9 L671.7,272.9 L672.2,272.8 L672.7,272.7 L673.2,272.6 L673.7,272.6 L674.2,272.5 L674.7,272.4 L675.2,272.4 L675.7,272.3 L676.2,272.2 L676.7,272.2 L677.2,272.1 L677.7,272.1 L678.2,272.1 L678.7,272.0 L679.2,272.0 L679.7,272.0 L680.0,272.0 L680.2,272.0 L680.7,272.0 L681.2,272.1 L681.7,272.2 L682.2,272.3 L682.7,272.4 L683.2,272.6 L683.7,272.7 L684.2,272.9 L684.7,273.1 L685.2,273.2 L685.7,273.4 L686.2,273.6 L686.7,273.8 L687.2,273.9 L687.7,274.1 L688.2,274.2 L688.7,274.3 L689.2,274.4 L689.7,274.5 L690.0,274.5 L690.2,274.5 L690.7,274.5 L691.2,274.6 L691.7,274.6 L692.2,274.6 L692.7,274.7 L693.2,274.7 L693.7,274.7 L694.2,274.7 L694.7,274.8 L695.2,274.8 L695.7,274.8 L696.2,274.8 L696.7,274.8 L697.2,274.9 L697.7,274.9 L698.2,274.9 L698.7,274.9 L699.2,274.9 L699.7,274.9 L700.2,274.9 L700.7,275.0 L701.2,275.0 L701.7,275.0 L702.2,275.0 L702.7,275.0 L703.2,275.0 L703.7,275.0 L704.2,275.0 L704.7,275.0 L705.0,275.0 L705.2,275.0 L705.7,275.0 L706.2,274.9 L706.7,274.8 L707.2,274.6 L707.7,274.4 L708.2,274.2 L708.7,274.0 L709.2,273.8 L709.7,273.5 L710.2,273.2 L710.7,272.9 L711.2,272.7 L711.7,272.4 L712.2,272.1 L712.7,271.8 L713.2,271.5 L713.7,271.2 L714.0,271.0 L714.2,270.9 L714.7,270.6 L715.2,270.3 L715.7,270.0 L716.2,269.7 L716.7,269.3 L717.2,269.0 L717.7,268.6 L718.2,268.2 L718.7,267.8 L719.2,267.5 L719.7,267.1 L720.2,266.7 L720.4,266.5" stroke="#D95319"/>
<path d="M209.8,268.0 L210.3,268.2 L210.8,268.4 L211.3,268.6 L211.8,268.9 L212.3,269.1 L212.8,269.3 L213.3,269.5 L213.8,269.7 L214.3,269.9 L214.8,270.1 L215.3,270.3 L215.8,270.5 L215.9,270.5 L216.3,270.7 L216.8,270.9 L217.3,271.1 L217.8,271.3 L218.3,271.6 L218.8,271.8 L219.3,272.0 L219.8,272.3 L220.3,272.5 L220.8,272.7 L221.3,272.9 L221.8,273.0 L222.3,273.2 L222.8,273.3 L223.3,273.4 L223.8,273.5 L224.3,273.5 L224.4,273.5 L224.8,273.5 L225.3,273.5 L225.8,273.4 L226.3,273.4 L226.8,273.3 L227.3,273.3 L227.8,273.2 L228.3,273.1 L228.8,273.0 L229.3,272.9 L229.8,272.8 L230.3,272.7 L230.8,272.6 L231.3,272.5 L231.8,272.3 L232.3,272.2 L232.8,272.1 L233.3,271.9 L233.8,271.8 L234.2,271.7 L234.3,271.7 L234.8,271.5 L235.3,271.3 L235.8,271.1 L236.3,270.9 L236.8,270.7 L237.3,270.4 L237.8,270.2 L238.3,269.9 L238.8,269.7 L239.3,269.4 L239.8,269.2 L240.3,269.0 L240.8,268.8 L241.3,268.7 L241.6,268.6 L241.8,268.6 L242.3,268.4 L242.8,268.3 L243.3,268.2 L243.8,268.1 L244.3,268.0 L244.8,267.9 L245.3,267.8 L245.8,267.7 L246.3,267.6 L246.8,267.5 L247.3,267.5 L247.8,267.4 L248.3,267.4 L248.8,267.4 L248.9,267.4 L249.3,267.4 L249.8,267.5 L250.3,267.6 L250.8,267.7 L251.3,267.8 L251.8,268.0 L252.3,268.2 L252.8,268.3 L253.3,268.5 L253.8,268.7 L254.3,268.9 L254.8,269.1 L255.0,269.2 L255.3,269.3 L255.8,269.5 L256.3,269.8 L256.8,270.0 L257.3,270.3 L257.8,270.6 L258.3,270.9 L258.8,271.2 L259.3,271.5 L259.8,271.8 L260.3,272.1 L260.8,272.3 L261.3,272.6 L261.8,272.8 L262.3,272.9 L262.8,273.0 L263.3,273.1 L263.6,273.1 L263.8,273.1 L264.3,273.1 L264.8,273.1 L265.3,273.1 L265.8,273.1 L266.3,273.1 L266.8,273.1 L267.3,273.1 L267.8,273.1 L268.3,273.1 L268.8,273.1 L269.3,273.1 L269.8,273.1 L270.3,273.1 L270.8,273.1 L271.3,273.1 L271.8,273.1 L272.3,273.1 L272.8,273.1 L273.3,273.1 L273.8,273.1 L274.3,273.1 L274.8,273.1 L275.3,273.1 L275.8,273.1 L276.3,273.1 L276.8,273.1 L277.3,273.1 L277.8,273.1 L278.2,273.1 L278.3,273.1 L278.8,273.0 L279.3,272.9 L279.8,272.7 L280.3,272.5 L280.8,272.2 L281.3,271.9 L281.8,271.6 L282.3,271.3 L282.8,270.9 L283.3,270.6 L283.8,270.2 L284.3,269.9 L284.8,269.6 L285.3,269.3 L285.6,269.2 L285.8,269.1 L286.3,268.9 L286.8,268.6 L287.3,268.4 L287.8,268.2 L288.3,267.9 L288.8,267.7 L289.3,267.6 L289.8,267.5 L290.3,267.4 L290.5,267.4 L290.8,267.4 L291.3,267.4 L291.8,267.5 L292.3,267.5 L292.8,267.6 L293.3,267.7 L293.8,267.8 L294.3,267.9 L294.8,268.0 L295.3,268.1 L295.8,268.2 L296.3,268.3 L296.8,268.4 L297.3,268.5 L297.8,268.6 L298.3,268.7 L298.8,268.7 L299.3,268.8 L299.8,268.9 L300.3,268.9 L300.8,269.0 L301.3,269.1 L301.8,269.1 L302.3,269.2 L302.8,269.3 L303.3,269.3 L303.8,269.4 L304.3,269.4 L304.8,269.5 L305.3,269.5 L305.8,269.6 L306.3,269.6 L306.8,269.7 L307.3,269.7 L307.8,269.7 L308.3,269.8 L308.8,269.8 L309.3,269.8 L309.8,269.8 L310.0,269.8 L310.3,269.8 L310.8,269.8 L311.3,269.8 L311.8,269.7 L312.3,269.7 L312.8,269.7 L313.3,269.6 L313.8,269.6 L314.3,269.5 L314.8,269.5 L315.3,269.4 L315.8,269.3 L316.3,269.3 L316.8,269.2 L317.3,269.1 L317.8,269.1 L318.3,269.0 L318.8,268.9 L319.3,268.9 L319.8,268.8 L320.3,268.8 L320.8,268.7 L321.3,268.7 L321.8,268.6 L322.2,268.6 L322.3,268.6 L322.8,268.6 L323.3,268.5 L323.8,268.5 L324.3,268.5 L324.8,268.4 L325.3,268.4 L325.8,268.4 L326.3,268.3 L326.8,268.3 L327.3,268.3 L327.8,268.2 L328.3,268.2 L328.8,268.2 L329.3,268.1 L329.8,268.1 L330.3,268.1 L330.8,268.1 L331.3,268.1 L331.8,268.0 L332.3,268.0 L332.8,268.0 L333.3,268.0 L333.8,268.0 L334.3,268.0 L334.5,268.0 L334.8,268.0 L335.3,268.0 L335.8,268.1 L336.3,268.1 L336.8,268.2 L337.3,268.2 L337.8,268.3 L338.3,268.4 L338.8,268.5 L339.3,268.6 L339.8,268.7 L340.3,268.9 L340.8,269.0 L341.3,269.1 L341.8,269.2 L342.3,269.4 L342.8,269.5 L343.3,269.7 L343.8,269.8 L344.3,269.9 L344.8,270.1 L345.3,270.2 L345.8,270.3 L346.3,270.4 L346.7,270.5 L346.8,270.5 L347.3,270.6 L347.8,270.8 L348.3,270.9 L348.8,271.0 L349.3,271.2 L349.8,271.3 L350.3,271.4 L350.8,271.6 L351.3,271.7 L351.8,271.9 L352.3,272.0 L352.8,272.2 L353.3,272.3 L353.8,272.4 L354.3,272.5 L354.8,272.6 L355.3,272.7 L355.8,272.8 L356.3,272.8 L356.8,272.9 L357.3,272.9 L357.7,272.9 L357.8,272.9 L358.3,272.8 L358.8,272.6 L359.3,272.3 L359.8,272.0 L360.3,271.5 L360.8,271.1 L361.3,270.5 L361.8,270.0 L362.3,269.5 L362.8,268.9 L363.3,268.5 L363.8,268.0 L364.3,267.6 L364.8,267.1 L365.3,266.5 L365.8,266.0 L366.3,265.5 L366.8,264.9 L367.3,264.4 L367.8,263.8 L368.3,263.3 L368.8,262.8 L369.3,262.4 L369.8,262.0 L370.3,261.7 L370.8,261.4 L371.1,261.3 L371.3,261.2 L371.8,261.1 L372.3,260.9 L372.8,260.7 L373.3,260.5 L373.8,260.4 L374.3,260.2 L374.8,260.1 L375.3,260.0 L375.8,259.9 L376.3,259.8 L376.8,259.7 L377.3,259.6 L377.8,259.5 L378.3,259.5 L378.8,259.4 L379.3,259.4 L379.7,259.4 L379.8,259.4 L380.3,259.4 L380.8,259.4 L381.3,259.5 L381.8,259.5 L382.3,259.6 L382.8,259.7 L383.3,259.8 L383.8,259.9 L384.3,260.0 L384.8,260.1 L385.3,260.2 L385.8,260.3 L386.3,260.4 L386.8,260.5 L387.3,260.6 L387.8,260.6 L388.3,260.7 L388.8,260.8 L389.3,260.8 L389.8,260.9 L390.3,261.0 L390.8,261.0 L391.3,261.1 L391.8,261.1 L392.3,261.2 L392.8,261.2 L393.3,261.3 L393.8,261.3 L394.3,261.3 L394.4,261.3 L394.8,261.1 L395.3,260.3 L395.8,259.0 L396.3,257.3 L396.8,255.3 L397.3,253.1 L397.8,250.8 L398.3,248.5 L398.6,247.2 L398.8,246.3 L399.3,243.9 L399.8,241.1 L400.3,238.2 L400.8,235.0 L401.3,231.5 L401.8,227.6 L402.2,224.4 L402.3,223.6 L402.8,219.7 L403.3,215.8 L403.8,211.7 L404.3,207.5 L404.8,202.9 L405.1,200.0 L405.3,198.0 L405.8,192.6 L406.3,186.9 L406.8,181.0 L407.3,174.7 L407.8,168.2 L408.3,161.5 L408.8,154.5 L409.3,147.4 L409.8,140.2 L410.3,132.9 L410.8,125.4 L411.3,118.0 L411.8,110.5 L412.3,103.0 L412.5,100.0 L412.8,95.3 L413.3,86.8 L413.8,78.0 L414.3,69.5 L414.8,61.9 L415.1,58.0 L415.3,55.6 L415.8,49.8 L416.3,44.2 L416.8,38.9 L417.3,33.9 L417.8,29.3 L418.3,25.2 L418.8,21.6 L419.3,18.5 L419.7,16.5 L420.2,16.5 L420.7,16.5 L421.2,16.5 L421.7,16.5 L422.2,16.5 L422.7,16.5 L423.2,16.5 L423.7,16.5 L424.2,20.0 L424.7,23.7 L425.2,27.6 L425.7,31.7 L426.2,36.1 L426.7,40.6 L427.2,45.2 L427.7,50.0 L428.2,55.0 L428.5,58.0 L428.7,60.1 L429.2,65.5 L429.7,71.3 L430.2,77.3 L430.7,83.5 L431.2,89.8 L431.7,96.2 L432.0,100.0 L432.2,102.5 L432.7,109.1 L433.2,115.9 L433.7,122.9 L434.2,130.0 L434.7,137.2 L435.2,144.4 L435.7,151.7 L436.2,158.8 L436.7,165.9 L437.2,172.8 L437.7,179.5 L438.2,185.9 L438.7,192.0 L439.2,197.8 L439.4,200.0 L439.7,203.2 L440.2,208.4 L440.7,213.3 L441.2,217.6 L441.5,220.0 L441.7,221.5 L442.2,224.9 L442.7,228.2 L443.2,231.2 L443.7,233.9 L444.2,236.5 L444.5,238.0 L444.7,239.0 L445.2,241.3 L445.7,243.6 L446.2,245.7 L446.7,247.7 L447.2,249.5 L447.7,251.1 L448.0,252.0 L448.2,252.6 L448.7,253.9 L449.2,255.1 L449.7,256.2 L450.2,257.2 L450.7,258.1 L451.0,258.5 L451.2,258.8 L451.7,259.5 L452.2,260.1 L452.7,260.7 L453.2,261.1 L453.7,261.3 L453.8,261.3 L454.2,261.3 L454.7,261.1 L455.2,260.8 L455.7,260.4 L456.2,260.0 L456.7,259.5 L457.2,258.9 L457.7,258.3 L458.2,257.7 L458.7,257.1 L459.2,256.5 L459.7,255.9 L460.2,255.4 L460.7,254.9 L461.1,254.6 L461.2,254.5 L461.7,254.2 L462.2,253.8 L462.7,253.5 L463.2,253.1 L463.7,252.8 L464.2,252.4 L464.7,252.1 L465.2,251.8 L465.7,251.5 L466.2,251.3 L466.7,251.0 L467.2,250.8 L467.7,250.6 L468.2,250.4 L468.5,250.3 L468.7,250.2 L469.2,250.1 L469.7,250.0 L470.2,249.8 L470.7,249.7 L471.2,249.6 L471.7,249.4 L472.2,249.3 L472.7,249.3 L473.2,249.2 L473.7,249.1 L474.2,249.1 L474.6,249.1 L474.7,249.1 L475.2,249.1 L475.7,249.2 L476.2,249.3 L476.7,249.5 L477.2,249.7 L477.7,249.9 L478.2,250.2 L478.7,250.4 L479.2,250.7 L479.5,250.9 L479.7,251.0 L480.2,251.5 L480.7,252.2 L481.2,253.0 L481.7,253.9 L482.2,254.9 L482.7,255.9 L483.2,257.0 L483.7,258.0 L484.2,259.0 L484.4,259.4 L484.7,260.0 L485.2,261.0 L485.7,262.2 L486.2,263.3 L486.7,264.5 L487.2,265.6 L487.7,266.7 L488.2,267.7 L488.7,268.5 L489.2,269.2 L489.7,269.8 L490.2,270.3 L490.7,270.9 L491.2,271.4 L491.7,271.9 L492.2,272.3 L492.7,272.7 L493.2,272.9 L493.7,273.1 L494.1,273.1 L494.2,273.1 L494.7,273.1 L495.2,273.1 L495.7,273.1 L496.2,273.1 L496.7,273.1 L497.2,273.1 L497.7,273.1 L498.2,273.1 L498.7,273.1 L499.2,273.1 L499.7,273.1 L500.2,273.1 L500.7,273.1 L501.2,273.1 L501.5,273.1 L501.7,273.1 L502.2,272.7 L502.7,272.0 L503.2,271.2 L503.7,270.3 L504.2,269.5 L504.7,268.9 L505.1,268.6 L505.2,268.6 L505.7,268.4 L506.2,268.3 L506.7,268.1 L507.2,268.0 L507.7,267.9 L508.2,267.8 L508.7,267.7 L509.2,267.6 L509.7,267.6 L510.2,267.5 L510.7,267.5 L511.2,267.4 L511.7,267.4 L512.2,267.4 L512.5,267.4 L512.7,267.4 L513.2,267.5 L513.7,267.7 L514.2,268.0 L514.7,268.4 L515.2,268.8 L515.7,269.2 L516.2,269.6 L516.7,270.0 L517.2,270.4 L517.4,270.5 L517.7,270.7 L518.2,271.0 L518.7,271.4 L519.2,271.7 L519.7,272.1 L520.2,272.4 L520.7,272.7 L521.2,272.9 L521.7,273.0 L522.2,273.1 L522.7,273.1 L523.2,273.1 L523.7,273.1 L524.2,273.1 L524.7,273.1 L525.2,273.1 L525.7,273.1 L526.2,273.1 L526.7,273.1 L527.2,273.1 L527.7,273.1 L528.2,273.1 L528.7,273.1 L529.2,273.1 L529.7,273.1 L530.2,273.1 L530.7,273.1 L531.2,273.1 L531.7,273.1 L532.0,273.1 L532.2,273.1 L532.7,273.0 L533.2,272.8 L533.7,272.4 L534.2,272.1 L534.7,271.6 L535.2,271.2 L535.7,270.7 L536.2,270.3 L536.7,269.9 L537.2,269.6 L537.7,269.3 L538.1,269.2 L538.2,269.2 L538.7,269.1 L539.2,268.9 L539.7,268.8 L540.2,268.7 L540.7,268.6 L541.2,268.5 L541.7,268.5 L542.2,268.4 L542.7,268.3 L543.2,268.2 L543.7,268.2 L544.2,268.1 L544.7,268.1 L545.2,268.0 L545.7,268.0 L546.2,268.0 L546.7,268.0 L547.2,268.0 L547.7,268.0 L548.2,268.1 L548.7,268.2 L549.2,268.2 L549.7,268.3 L550.2,268.5 L550.7,268.6 L551.2,268.7 L551.7,268.8 L552.2,269.0 L552.7,269.1 L553.2,269.3 L553.7,269.4 L554.2,269.5 L554.7,269.7 L555.2,269.8 L555.3,269.8 L555.7,269.9 L556.2,270.0 L556.7,270.2 L557.2,270.3 L557.7,270.5 L558.2,270.7 L558.7,270.8 L559.2,271.0 L559.7,271.2 L560.2,271.3 L560.7,271.5 L561.2,271.7 L561.7,271.8 L562.2,271.9 L562.7,272.0 L563.2,272.1 L563.7,272.2 L564.2,272.3 L564.7,272.3 L565.0,272.3 L565.2,272.3 L565.7,272.3 L566.2,272.3 L566.7,272.3 L567.2,272.3 L567.7,272.3 L568.2,272.3 L568.7,272.3 L569.2,272.3 L569.7,272.3 L570.2,272.3 L570.7,272.3 L571.2,272.3 L571.7,272.3 L572.2,272.3 L572.7,272.3 L573.2,272.3 L573.7,272.3 L574.2,272.3 L574.7,272.3 L575.2,272.3 L575.7,272.3 L576.2,272.3 L576.7,272.3 L577.2,272.3 L577.3,272.3 L577.7,272.3 L578.2,272.3 L578.7,272.2 L579.2,272.2 L579.7,272.1 L580.2,272.0 L580.7,272.0 L581.2,271.9 L581.7,271.8 L582.2,271.7 L582.7,271.6 L583.2,271.4 L583.7,271.3 L584.2,271.2 L584.7,271.1 L585.2,271.0 L585.7,270.9 L586.2,270.8 L586.7,270.7 L587.2,270.7 L587.7,270.6 L588.2,270.6 L588.7,270.5 L589.2,270.5 L589.5,270.5 L589.7,270.5 L590.2,270.5 L590.7,270.5 L591.2,270.6 L591.7,270.6 L592.2,270.7 L592.7,270.7 L593.2,270.8 L593.7,270.9 L594.2,270.9 L594.7,271.0 L595.2,271.1 L595.7,271.2 L596.2,271.2 L596.7,271.3 L597.2,271.4 L597.7,271.5 L598.2,271.5 L598.7,271.6 L599.2,271.6 L599.7,271.7 L600.0,271.7 L600.2,271.7 L600.7,271.7 L601.2,271.8 L601.7,271.8 L602.2,271.8 L602.7,271.9 L603.2,271.9 L603.7,271.9 L604.2,271.9 L604.7,272.0 L605.2,272.0 L605.7,272.0 L606.2,272.0 L606.7,272.1 L607.2,272.1 L607.7,272.1 L608.2,272.1 L608.7,272.1 L609.2,272.2 L609.7,272.2 L610.2,272.2 L610.7,272.2 L611.2,272.2 L611.7,272.3 L612.2,272.3 L612.7,272.3 L613.2,272.3 L613.7,272.3 L614.2,272.3 L614.7,272.4 L615.2,272.4 L615.7,272.4 L616.2,272.4 L616.7,272.4 L617.2,272.4 L617.7,272.4 L618.2,272.5 L618.7,272.5 L619.2,272.5 L619.7,272.5 L620.0,272.5 L620.2,272.5 L620.7,272.5 L621.2,272.5 L621.7,272.5 L622.2,272.5 L622.7,272.6 L623.2,272.6 L623.7,272.6 L624.2,272.6 L624.7,272.6 L625.2,272.6 L625.7,272.6 L626.2,272.6 L626.7,272.6 L627.2,272.6 L627.7,272.6 L628.2,272.6 L628.7,272.6 L629.2,272.6 L629.7,272.6 L630.2,272.6 L630.7,272.6 L631.2,272.7 L631.7,272.7 L632.2,272.7 L632.7,272.7 L633.2,272.7 L633.7,272.7 L634.2,272.7 L634.7,272.7 L635.2,272.7 L635.7,272.7 L636.2,272.7 L636.7,272.7 L637.2,272.7 L637.7,272.7 L638.2,272.8 L638.7,272.8 L639.2,272.8 L639.7,272.8 L640.0,272.8 L640.2,272.8 L640.7,272.8 L641.2,272.8 L641.7,272.9 L642.2,272.9 L642.7,273.0 L643.2,273.0 L643.7,273.0 L644.2,273.1 L644.7,273.1 L645.2,273.2 L645.7,273.2 L646.2,273.3 L646.7,273.4 L647.2,273.4 L647.7,273.5 L648.2,273.5 L648.7,273.6 L649.2,273.6 L649.7,273.7 L650.2,273.7 L650.7,273.8 L651.2,273.8 L651.7,273.9 L652.2,273.9 L652.7,273.9 L653.2,274.0 L653.7,274.0 L654.2,274.0 L654.7,274.0 L655.0,274.0 L655.2,274.0 L655.7,274.0 L656.2,274.0 L656.7,274.0 L657.2,273.9 L657.7,273.9 L658.2,273.9 L658.7,273.8 L659.2,273.8 L659.7,273.8 L660.2,273.7 L660.7,273.7 L661.2,273.6 L661.7,273.6 L662.2,273.5 L662.7,273.5 L663.2,273.4 L663.7,273.4 L664.2,273.3 L664.7,273.3 L665.2,273.2 L665.7,273.2 L666.2,273.1 L666.7,273.1 L667.2,273.0 L667.7,273.0 L668.0,273.0 L668.2,273.0 L668.7,273.0 L669.2,272.9 L669.7,272.9 L670.2,272.9 L670.7,272.8 L671.2,272.8 L671.7,272.8 L672.2,272.8 L672.7,272.7 L673.2,272.7 L673.7,272.7 L674.2,272.7 L674.7,272.6 L675.2,272.6 L675.7,272.6 L676.2,272.6 L676.7,272.6 L677.2,272.5 L677.7,272.5 L678.2,272.5 L678.7,272.5 L679.2,272.5 L679.7,272.5 L680.0,272.5 L680.2,272.5 L680.7,272.5 L681.2,272.5 L681.7,272.5 L682.2,272.6 L682.7,272.6 L683.2,272.6 L683.7,272.7 L684.2,272.7 L684.7,272.7 L685.2,272.8 L685.7,272.8 L686.2,272.8 L686.7,272.9 L687.2,272.9 L687.7,272.9 L688.2,273.0 L688.7,273.0 L689.2,273.0 L689.7,273.0 L690.0,273.0 L690.2,273.0 L690.7,273.0 L691.2,272.9 L691.7,272.9 L692.2,272.8 L692.7,272.8 L693.2,272.7 L693.7,272.6 L694.2,272.5 L694.7,272.4 L695.2,272.2 L695.7,272.1 L696.2,272.0 L696.7,271.8 L697.2,271.7 L697.7,271.6 L698.2,271.4 L698.7,271.3 L699.2,271.2 L699.7,271.1 L700.0,271.0 L700.2,271.0 L700.7,270.8 L701.2,270.7 L701.7,270.6 L702.2,270.4 L702.7,270.3 L703.2,270.2 L703.7,270.0 L704.2,269.9 L704.7,269.7 L705.2,269.6 L705.7,269.4 L706.2,269.3 L706.7,269.2 L707.2,269.1 L707.7,268.9 L708.2,268.8 L708.7,268.7 L709.2,268.6 L709.7,268.5 L710.0,268.5 L710.2,268.5 L710.7,268.4 L711.2,268.3 L711.7,268.3 L712.2,268.2 L712.7,268.1 L713.2,268.1 L713.7,268.0 L714.2,268.0 L714.7,267.9 L715.2,267.8 L715.7,267.8 L716.2,267.7 L716.7,267.7 L717.2,267.7 L717.7,267.6 L718.2,267.6 L718.7,267.6 L719.2,267.5 L719.7,267.5 L720.2,267.5 L720.4,267.5" stroke="#EDB120"/>
<path d="M209.8,272.0 L210.3,271.5 L210.8,271.0 L211.3,270.5 L211.8,270.0 L212.3,269.5 L212.8,269.1 L213.3,268.6 L213.8,268.2 L214.3,267.8 L214.8,267.4 L215.0,267.2 L215.3,267.0 L215.8,266.6 L216.3,266.2 L216.8,265.9 L217.3,265.5 L217.8,265.2 L218.3,264.8 L218.8,264.5 L219.3,264.2 L219.8,263.9 L220.3,263.6 L220.8,263.3 L221.0,263.2 L221.3,263.0 L221.8,262.8 L222.3,262.5 L222.8,262.3 L223.3,262.0 L223.8,261.8 L224.3,261.6 L224.8,261.3 L225.3,261.1 L225.8,260.9 L226.3,260.7 L226.8,260.5 L227.3,260.4 L227.5,260.3 L228.0,260.4 L228.5,260.5 L229.0,260.6 L229.5,260.7 L230.0,260.8 L230.5,260.8 L231.0,260.9 L231.5,261.0 L232.0,261.0 L232.5,261.1 L233.0,261.1 L233.5,261.1 L234.0,261.1 L234.5,261.2 L235.0,261.2 L235.5,261.2 L236.0,261.2 L236.5,261.2 L237.0,261.2 L237.5,261.2 L238.0,261.2 L238.5,261.1 L239.0,261.1 L239.5,261.0 L240.0,260.9 L240.5,260.8 L241.0,260.7 L241.5,260.6 L242.0,260.5 L242.5,260.4 L243.0,260.2 L243.5,260.1 L244.0,260.0 L244.5,259.9 L245.0,259.7 L245.5,259.6 L246.0,259.5 L246.5,259.3 L247.0,259.2 L247.5,259.1 L248.0,258.9 L248.5,258.8 L249.0,258.6 L249.5,258.5 L250.0,258.3 L250.5,258.1 L251.0,257.9 L251.5,257.8 L252.0,257.6 L252.5,257.4 L253.0,257.2 L253.5,257.1 L254.0,256.9 L254.5,256.8 L255.0,256.6 L255.5,256.5 L256.0,256.4 L256.5,256.3 L257.0,256.2 L257.5,256.1 L258.0,256.0 L258.5,256.0 L259.0,255.9 L259.5,255.8 L260.0,255.8 L260.5,255.7 L261.0,255.6 L261.5,255.6 L262.0,255.5 L262.5,255.5 L263.0,255.4 L263.5,255.4 L264.0,255.4 L264.5,255.4 L265.0,255.4 L265.5,255.4 L266.0,255.4 L266.5,255.5 L267.0,255.5 L267.5,255.5 L268.0,255.6 L268.5,255.6 L269.0,255.7 L269.5,255.7 L270.0,255.8 L270.5,255.9 L271.0,256.0 L271.5,256.0 L272.0,256.1 L272.5,256.2 L273.0,256.3 L273.5,256.3 L274.0,256.4 L274.5,256.5 L275.0,256.6 L275.5,256.7 L276.0,256.8 L276.5,256.9 L277.0,257.1 L277.5,257.2 L278.0,257.4 L278.5,257.5 L279.0,257.7 L279.5,257.9 L280.0,258.1 L280.5,258.3 L281.0,258.4 L281.5,258.6 L282.0,258.8 L282.5,259.0 L283.0,259.2 L283.5,259.4 L284.0,259.6 L284.5,259.7 L285.0,259.9 L285.5,260.1 L285.6,260.1 L286.0,260.2 L286.5,260.4 L287.0,260.5 L287.5,260.7 L288.0,260.9 L288.5,261.1 L289.0,261.3 L289.5,261.4 L290.0,261.6 L290.5,261.8 L291.0,262.0 L291.5,262.1 L292.0,262.3 L292.5,262.5 L293.0,262.6 L293.5,262.8 L294.0,262.9 L294.5,263.0 L295.0,263.1 L295.5,263.2 L296.0,263.3 L296.5,263.3 L297.0,263.4 L297.5,263.4 L297.8,263.4 L298.0,263.4 L298.5,263.4 L299.0,263.4 L299.5,263.4 L300.0,263.4 L300.5,263.4 L301.0,263.4 L301.5,263.4 L302.0,263.4 L302.5,263.4 L303.0,263.4 L303.5,263.4 L304.0,263.4 L304.5,263.4 L305.0,263.4 L305.5,263.4 L306.0,263.4 L306.5,263.4 L307.0,263.4 L307.5,263.4 L307.6,263.4 L308.0,263.4 L308.5,263.4 L309.0,263.3 L309.5,263.3 L310.0,263.2 L310.5,263.2 L311.0,263.1 L311.5,263.0 L312.0,262.9 L312.5,262.8 L313.0,262.8 L313.5,262.7 L314.0,262.6 L314.5,262.6 L315.0,262.5 L315.5,262.5 L316.0,262.5 L316.1,262.5 L316.5,262.5 L317.0,262.5 L317.5,262.5 L318.0,262.5 L318.5,262.5 L319.0,262.5 L319.5,262.5 L320.0,262.6 L320.5,262.6 L321.0,262.6 L321.5,262.6 L322.0,262.6 L322.5,262.6 L323.0,262.7 L323.5,262.7 L324.0,262.7 L324.5,262.7 L325.0,262.7 L325.5,262.8 L326.0,262.8 L326.5,262.8 L327.0,262.8 L327.5,262.8 L328.0,262.8 L328.5,262.9 L329.0,262.9 L329.5,262.9 L330.0,262.9 L330.5,262.9 L331.0,262.9 L331.5,262.9 L332.0,262.9 L332.5,262.9 L333.0,262.8 L333.5,262.7 L334.0,262.5 L334.5,262.4 L335.0,262.1 L335.5,261.9 L336.0,261.7 L336.5,261.4 L337.0,261.1 L337.5,260.9 L338.0,260.6 L338.5,260.3 L339.0,260.1 L339.5,259.8 L340.0,259.6 L340.5,259.4 L340.6,259.4 L341.0,259.3 L341.5,259.1 L342.0,258.9 L342.5,258.7 L343.0,258.5 L343.5,258.3 L344.0,258.2 L344.5,258.0 L345.0,257.8 L345.5,257.7 L346.0,257.5 L346.5,257.4 L347.0,257.3 L347.5,257.3 L348.0,257.2 L348.5,257.2 L349.0,257.2 L349.5,257.3 L350.0,257.3 L350.5,257.5 L351.0,257.6 L351.5,257.7 L352.0,257.9 L352.5,258.1 L353.0,258.3 L353.5,258.5 L354.0,258.8 L354.5,259.0 L355.0,259.3 L355.3,259.4 L355.5,259.5 L356.0,259.8 L356.5,260.2 L357.0,260.6 L357.5,261.1 L358.0,261.6 L358.5,262.1 L359.0,262.7 L359.5,263.3 L360.0,263.9 L360.5,264.5 L361.0,265.0 L361.5,265.6 L362.0,266.2 L362.5,266.7 L362.6,266.8 L363.0,267.2 L363.5,267.8 L364.0,268.5 L364.5,269.1 L365.0,269.8 L365.5,270.4 L366.0,271.0 L366.5,271.6 L367.0,272.1 L367.5,272.5 L368.0,272.7 L368.5,272.9 L368.7,272.9 L369.0,272.9 L369.5,272.9 L370.0,272.9 L370.5,272.9 L371.0,272.9 L371.5,272.9 L372.0,272.9 L372.5,272.9 L373.0,272.9 L373.5,272.9 L374.0,272.9 L374.5,272.9 L375.0,272.9 L375.5,272.9 L376.0,272.9 L376.5,272.9 L377.0,272.9 L377.5,272.9 L378.0,272.9 L378.5,272.9 L379.0,272.9 L379.5,272.9 L380.0,272.9 L380.5,272.9 L380.9,272.9 L381.0,272.9 L381.5,272.8 L382.0,272.7 L382.5,272.4 L383.0,272.1 L383.5,271.8 L384.0,271.4 L384.5,271.0 L385.0,270.6 L385.5,270.2 L386.0,269.9 L386.5,269.5 L387.0,269.2 L387.5,268.9 L388.0,268.6 L388.5,268.3 L389.0,268.0 L389.5,267.7 L390.0,267.4 L390.5,267.1 L391.0,266.8 L391.5,266.6 L392.0,266.3 L392.5,266.0 L393.0,265.8 L393.5,265.6 L394.0,265.4 L394.5,265.2 L395.0,265.0 L395.5,264.9 L395.6,264.9 L396.0,264.8 L396.5,264.7 L397.0,264.6 L397.5,264.5 L398.0,264.5 L398.5,264.4 L399.0,264.3 L399.5,264.3 L400.0,264.3 L400.5,264.3 L401.0,264.4 L401.5,264.4 L402.0,264.5 L402.5,264.7 L403.0,264.8 L403.5,264.9 L404.0,265.0 L404.5,265.2 L405.0,265.3 L405.5,265.4 L406.0,265.5 L406.5,265.6 L407.0,265.6 L407.3,265.6 L407.5,265.6 L408.0,265.6 L408.5,265.6 L409.0,265.6 L409.5,265.6 L410.0,265.6 L410.5,265.6 L411.0,265.6 L411.5,265.6 L412.0,265.6 L412.5,265.6 L413.0,265.6 L413.5,265.6 L414.0,265.6 L414.5,265.6 L415.0,265.6 L415.5,265.6 L416.0,265.6 L416.5,265.6 L417.0,265.6 L417.5,265.6 L418.0,265.6 L418.5,265.6 L419.0,265.6 L419.5,265.6 L420.0,265.6 L420.5,265.6 L420.8,265.6 L421.0,265.6 L421.5,265.6 L422.0,265.7 L422.5,265.7 L423.0,265.8 L423.5,265.9 L424.0,266.0 L424.5,266.1 L425.0,266.3 L425.5,266.4 L426.0,266.6 L426.5,266.7 L427.0,266.9 L427.5,267.0 L428.0,267.2 L428.5,267.4 L429.0,267.5 L429.5,267.7 L430.0,267.8 L430.5,268.0 L430.6,268.0 L431.0,268.1 L431.5,268.3 L432.0,268.4 L432.5,268.6 L433.0,268.8 L433.5,269.0 L434.0,269.1 L434.5,269.3 L435.0,269.5 L435.5,269.7 L436.0,269.9 L436.5,270.1 L437.0,270.2 L437.5,270.4 L438.0,270.6 L438.5,270.7 L439.0,270.8 L439.5,270.9 L440.0,271.0 L440.3,271.1 L440.5,271.1 L441.0,271.2 L441.5,271.3 L442.0,271.3 L442.5,271.4 L443.0,271.5 L443.5,271.5 L444.0,271.6 L444.5,271.6 L445.0,271.6 L445.5,271.7 L446.0,271.7 L446.5,271.8 L447.0,271.8 L447.5,271.9 L448.0,271.9 L448.5,271.9 L449.0,272.0 L449.5,272.1 L450.0,272.1 L450.5,272.2 L451.0,272.3 L451.3,272.3 L451.5,272.3 L452.0,272.4 L452.5,272.6 L453.0,272.7 L453.5,272.9 L454.0,273.1 L454.5,273.2 L455.0,273.4 L455.5,273.4 L456.0,273.5 L456.2,273.5 L456.5,273.5 L457.0,273.5 L457.5,273.5 L458.0,273.5 L458.5,273.5 L459.0,273.5 L459.5,273.5 L460.0,273.5 L460.5,273.5 L461.0,273.5 L461.5,273.5 L462.0,273.5 L462.5,273.5 L463.0,273.5 L463.5,273.5 L464.0,273.5 L464.5,273.5 L465.0,273.5 L465.5,273.5 L466.0,273.5 L466.5,273.5 L467.0,273.5 L467.5,273.5 L468.0,273.5 L468.5,273.5 L469.0,273.5 L469.5,273.5 L470.0,273.5 L470.5,273.5 L471.0,273.5 L471.5,273.5 L472.0,273.5 L472.1,273.5 L472.5,273.4 L473.0,273.0 L473.5,272.5 L474.0,271.7 L474.5,270.8 L475.0,269.7 L475.5,268.6 L476.0,267.5 L476.3,266.8 L476.5,266.3 L477.0,265.0 L477.5,263.3 L478.0,261.5 L478.5,259.6 L479.0,257.5 L479.5,255.4 L480.0,253.3 L480.5,251.1 L481.0,248.8 L481.5,246.3 L482.0,243.8 L482.5,241.2 L483.0,238.6 L483.5,236.0 L483.7,235.0 L484.0,233.5 L484.5,230.8 L485.0,228.1 L485.5,225.7 L485.8,224.4 L486.0,223.6 L486.5,221.6 L487.0,219.7 L487.5,217.8 L488.0,216.0 L488.5,214.2 L489.0,212.5 L489.5,210.9 L490.0,209.3 L490.5,207.8 L491.0,206.4 L491.5,205.0 L492.0,203.8 L492.5,202.6 L493.0,201.4 L493.2,201.0 L493.5,200.4 L494.0,199.4 L494.5,198.5 L495.0,197.6 L495.5,196.8 L496.0,196.1 L496.5,195.4 L496.6,195.3 L497.1,195.1 L497.6,194.9 L498.1,194.7 L498.6,194.5 L499.1,194.3 L499.6,194.1 L500.1,194.7 L500.6,195.2 L501.1,195.8 L501.6,196.3 L502.1,196.8 L502.6,197.4 L503.1,197.9 L503.6,198.5 L504.1,199.3 L504.6,200.1 L505.1,201.0 L505.6,201.8 L506.1,202.7 L506.6,203.6 L507.1,204.5 L507.6,205.4 L508.1,206.4 L508.6,207.3 L509.1,208.3 L509.6,209.3 L510.1,210.3 L510.6,211.3 L511.1,212.3 L511.6,213.4 L512.1,214.6 L512.6,215.8 L513.1,217.2 L513.6,218.5 L514.1,219.9 L514.6,221.3 L515.1,222.6 L515.6,223.9 L516.1,225.2 L516.6,226.3 L517.1,227.4 L517.6,228.3 L518.1,229.0 L518.5,229.5 L518.6,229.6 L519.1,230.1 L519.6,230.7 L520.1,231.2 L520.6,231.6 L521.1,232.1 L521.6,232.5 L522.1,232.8 L522.6,233.1 L523.1,233.4 L523.6,233.5 L524.1,233.6 L524.3,233.6 L524.6,233.6 L525.1,233.3 L525.6,232.7 L526.1,232.0 L526.6,231.1 L527.1,230.0 L527.6,228.9 L528.1,227.6 L528.6,226.3 L528.7,226.0 L529.1,224.7 L529.6,222.4 L530.1,219.7 L530.6,216.6 L531.1,213.4 L531.6,210.1 L531.7,209.4 L532.1,206.7 L532.6,203.1 L533.1,199.3 L533.6,195.2 L534.1,190.9 L534.2,190.0 L534.6,186.3 L535.1,181.5 L535.6,176.4 L536.1,171.0 L536.6,165.5 L537.1,159.8 L537.6,153.9 L538.1,147.9 L538.6,141.9 L539.1,135.7 L539.6,129.5 L540.1,123.3 L540.6,117.1 L541.1,110.9 L541.6,104.8 L542.0,100.0 L542.1,98.8 L542.6,92.6 L543.1,86.1 L543.6,79.6 L544.1,73.2 L544.6,67.0 L545.1,61.2 L545.4,58.0 L545.6,55.9 L546.1,50.8 L546.6,45.9 L547.1,41.1 L547.6,36.5 L548.1,32.0 L548.6,27.8 L549.1,23.8 L549.6,20.0 L550.1,16.5 L550.6,16.5 L551.1,16.4 L551.6,16.4 L552.1,16.4 L552.6,16.3 L553.1,16.3 L553.6,16.9 L554.1,17.6 L554.6,18.2 L555.1,18.9 L555.6,19.5 L556.1,22.2 L556.6,25.5 L557.1,29.3 L557.6,33.5 L558.1,38.0 L558.6,42.9 L559.1,48.1 L559.6,53.5 L560.0,58.0 L560.1,59.2 L560.6,65.8 L561.1,73.5 L561.6,81.7 L562.1,89.8 L562.6,97.3 L562.8,100.0 L563.1,103.9 L563.6,110.3 L564.1,116.7 L564.6,122.9 L565.1,129.1 L565.6,135.2 L566.1,141.2 L566.6,147.0 L567.1,152.7 L567.6,158.3 L568.1,163.8 L568.6,169.0 L569.1,174.2 L569.6,179.1 L570.1,183.8 L570.6,188.4 L571.1,192.7 L571.6,196.9 L572.0,200.0 L572.1,200.8 L572.6,204.6 L573.1,208.4 L573.6,211.9 L574.1,215.0 L574.6,217.7 L575.1,219.6 L575.6,221.1 L576.1,222.6 L576.6,223.9 L577.1,225.1 L577.6,226.0 L578.1,226.6 L578.6,226.9 L578.7,226.9 L579.1,226.9 L579.6,226.9 L580.1,226.8 L580.6,226.8 L581.1,226.7 L581.6,226.6 L582.1,226.5 L582.6,226.4 L583.1,226.2 L583.6,226.1 L584.1,225.9 L584.6,225.8 L584.8,225.7 L585.1,225.6 L585.6,225.2 L586.1,224.7 L586.6,224.0 L587.1,223.3 L587.6,222.5 L588.1,221.7 L588.6,220.9 L589.1,220.2 L589.6,219.5 L590.1,218.9 L590.6,218.5 L591.0,218.3 L591.1,218.3 L591.6,218.1 L592.1,217.9 L592.6,217.7 L593.1,217.5 L593.6,217.4 L594.1,217.3 L594.6,217.2 L595.1,217.1 L595.6,217.1 L595.8,217.1 L596.1,217.1 L596.6,217.2 L597.1,217.5 L597.6,217.8 L598.1,218.2 L598.6,218.6 L599.1,219.1 L599.6,219.6 L600.1,220.1 L600.6,220.7 L600.7,220.8 L601.1,221.3 L601.6,222.0 L602.1,222.9 L602.6,223.9 L603.1,225.0 L603.6,226.1 L604.1,227.3 L604.6,228.6 L605.1,229.8 L605.6,231.1 L606.1,232.3 L606.6,233.5 L607.1,234.6 L607.3,235.0 L607.6,235.6 L608.1,236.6 L608.6,237.6 L609.1,238.6 L609.6,239.6 L610.1,240.6 L610.6,241.6 L611.1,242.6 L611.6,243.6 L612.1,244.6 L612.2,244.8 L612.6,245.6 L613.1,246.6 L613.6,247.7 L614.1,248.7 L614.6,249.8 L615.1,250.8 L615.6,251.8 L616.1,252.8 L616.6,253.7 L617.1,254.6 L617.6,255.5 L618.1,256.3 L618.6,257.2 L619.1,258.0 L619.6,258.8 L620.1,259.6 L620.6,260.3 L621.1,261.0 L621.6,261.5 L622.0,261.9 L622.1,262.0 L622.6,262.4 L623.1,262.8 L623.6,263.2 L624.1,263.5 L624.6,263.8 L625.1,264.1 L625.6,264.4 L626.1,264.7 L626.6,265.0 L627.1,265.2 L627.6,265.5 L628.1,265.7 L628.6,265.9 L629.1,266.1 L629.3,266.2 L629.6,266.3 L630.1,266.5 L630.6,266.7 L631.1,266.8 L631.6,267.0 L632.1,267.1 L632.6,267.3 L633.1,267.4 L633.6,267.6 L634.1,267.7 L634.6,267.9 L635.1,268.0 L635.6,268.2 L636.1,268.4 L636.6,268.6 L636.7,268.6 L637.1,268.8 L637.6,269.1 L638.1,269.4 L638.6,269.8 L639.1,270.1 L639.6,270.5 L640.1,270.9 L640.6,271.3 L641.1,271.7 L641.6,272.0 L642.1,272.3 L642.6,272.6 L643.1,272.8 L643.6,272.9 L644.0,272.9 L644.1,272.9 L644.6,272.9 L645.1,272.9 L645.6,272.9 L646.1,272.9 L646.6,272.9 L647.1,272.9 L647.6,272.9 L648.1,272.9 L648.6,272.9 L649.1,272.9 L649.6,272.9 L650.1,272.9 L650.6,272.9 L651.1,272.9 L651.3,272.9 L651.6,272.9 L652.1,272.9 L652.6,272.8 L653.1,272.7 L653.6,272.6 L654.1,272.4 L654.6,272.3 L655.1,272.1 L655.6,272.0 L656.1,271.8 L656.6,271.6 L657.1,271.5 L657.6,271.3 L658.1,271.2 L658.6,271.1 L658.7,271.1 L659.1,271.0 L659.6,270.9 L660.1,270.9 L660.6,270.8 L661.1,270.7 L661.6,270.7 L662.1,270.6 L662.6,270.5 L663.1,270.5 L663.6,270.4 L664.1,270.3 L664.6,270.3 L665.1,270.2 L665.6,270.2 L666.1,270.1 L666.6,270.0 L667.1,270.0 L667.6,269.9 L668.1,269.9 L668.5,269.8 L668.6,269.8 L669.1,269.7 L669.6,269.7 L670.1,269.6 L670.6,269.5 L671.1,269.5 L671.6,269.4 L672.1,269.3 L672.6,269.3 L673.1,269.2 L673.6,269.2 L674.1,269.1 L674.6,269.0 L675.1,269.0 L675.6,268.9 L676.1,268.9 L676.6,268.8 L677.1,268.7 L677.6,268.7 L678.1,268.6 L678.2,268.6 L678.6,268.5 L679.1,268.5 L679.6,268.4 L680.1,268.3 L680.6,268.3 L681.1,268.2 L681.6,268.1 L682.1,268.0 L682.6,267.9 L683.1,267.8 L683.6,267.8 L684.1,267.7 L684.6,267.6 L685.1,267.6 L685.6,267.5 L686.1,267.5 L686.6,267.4 L687.1,267.4 L687.6,267.4 L688.0,267.4 L688.1,267.4 L688.6,267.4 L689.1,267.4 L689.6,267.4 L690.1,267.5 L690.6,267.5 L691.1,267.6 L691.6,267.6 L692.1,267.7 L692.6,267.8 L693.1,267.8 L693.6,267.9 L694.1,268.0 L694.6,268.1 L695.1,268.1 L695.6,268.2 L696.1,268.3 L696.6,268.4 L697.1,268.5 L697.6,268.6 L697.8,268.6 L698.1,268.7 L698.6,268.7 L699.1,268.8 L699.6,269.0 L700.1,269.1 L700.6,269.2 L701.1,269.3 L701.6,269.5 L702.1,269.6 L702.6,269.8 L703.1,269.9 L703.6,270.0 L704.1,270.2 L704.6,270.3 L705.1,270.5 L705.6,270.6 L706.1,270.7 L706.6,270.9 L707.1,271.0 L707.6,271.1 L708.1,271.2 L708.6,271.3 L709.1,271.4 L709.6,271.5 L710.1,271.6 L710.6,271.7 L711.1,271.8 L711.6,271.9 L712.1,272.0 L712.6,272.1 L713.1,272.2 L713.6,272.3 L714.1,272.4 L714.6,272.5 L715.1,272.6 L715.6,272.7 L716.1,272.8 L716.6,272.9 L717.1,273.0 L717.6,273.1 L718.1,273.1 L718.6,273.2 L719.1,273.3 L719.6,273.4 L720.1,273.5 L720.4,273.5" stroke="#7E2F8E"/>
<path d="M209.8,273.3 L210.3,273.3 L210.8,273.3 L211.3,273.3 L211.8,273.3 L212.3,273.3 L212.8,273.3 L213.3,273.3 L213.8,273.3 L214.3,273.3 L214.8,273.3 L215.3,273.3 L215.8,273.3 L216.3,273.3 L216.8,273.3 L217.3,273.3 L217.8,273.3 L218.3,273.3 L218.8,273.3 L219.3,273.3 L219.8,273.3 L220.3,273.3 L220.8,273.3 L221.3,273.3 L221.8,273.3 L222.3,273.3 L222.8,273.3 L223.3,273.3 L223.8,273.3 L224.3,273.3 L224.4,273.3 L224.8,273.3 L225.3,273.3 L225.8,273.3 L226.3,273.3 L226.8,273.3 L227.3,273.3 L227.8,273.3 L228.3,273.3 L228.8,273.3 L229.3,273.3 L229.8,273.3 L230.3,273.3 L230.8,273.3 L231.3,273.3 L231.8,273.3 L232.3,273.3 L232.8,273.3 L233.3,273.3 L233.8,273.3 L234.3,273.3 L234.8,273.3 L235.3,273.3 L235.8,273.2 L236.3,273.2 L236.8,273.2 L237.3,273.2 L237.8,273.2 L238.3,273.2 L238.8,273.2 L239.3,273.2 L239.8,273.2 L240.3,273.2 L240.8,273.2 L241.3,273.2 L241.8,273.2 L242.3,273.2 L242.8,273.1 L243.3,273.1 L243.8,273.1 L244.3,273.1 L244.8,273.1 L245.2,273.1 L245.3,273.1 L245.8,273.1 L246.3,273.0 L246.8,272.9 L247.3,272.8 L247.8,272.7 L248.3,272.5 L248.8,272.4 L249.3,272.2 L249.8,272.0 L250.3,271.7 L250.8,271.5 L251.3,271.2 L251.8,271.0 L252.3,270.7 L252.8,270.4 L253.3,270.2 L253.8,269.9 L254.3,269.6 L254.8,269.3 L255.0,269.2 L255.3,269.0 L255.8,268.7 L256.3,268.3 L256.8,267.8 L257.3,267.3 L257.8,266.8 L258.3,266.3 L258.8,265.8 L259.3,265.3 L259.8,264.8 L260.3,264.3 L260.8,263.9 L261.1,263.7 L261.3,263.6 L261.8,263.2 L262.3,262.8 L262.8,262.4 L263.3,262.1 L263.8,261.7 L264.3,261.4 L264.8,261.2 L265.3,261.0 L265.8,260.9 L266.0,260.9 L266.3,260.9 L266.8,261.0 L267.3,261.1 L267.8,261.2 L268.3,261.4 L268.8,261.6 L269.3,261.8 L269.8,262.0 L270.3,262.2 L270.8,262.5 L270.9,262.5 L271.3,262.7 L271.8,263.0 L272.3,263.3 L272.8,263.6 L273.3,264.0 L273.8,264.4 L274.3,264.8 L274.8,265.2 L275.3,265.7 L275.8,266.1 L276.3,266.5 L276.8,266.9 L277.3,267.3 L277.8,267.7 L278.2,268.0 L278.3,268.1 L278.8,268.4 L279.3,268.8 L279.8,269.2 L280.3,269.6 L280.8,270.0 L281.3,270.4 L281.8,270.8 L282.3,271.1 L282.8,271.5 L283.3,271.8 L283.8,272.0 L284.3,272.3 L284.8,272.4 L285.3,272.6 L285.6,272.6 L285.8,272.6 L286.3,272.7 L286.8,272.7 L287.3,272.8 L287.8,272.8 L288.3,272.8 L288.8,272.9 L289.3,272.9 L289.8,272.9 L290.3,272.9 L290.5,272.9 L290.8,272.9 L291.3,272.8 L291.8,272.6 L292.3,272.4 L292.8,272.1 L293.3,271.8 L293.8,271.4 L294.3,271.1 L294.8,270.6 L295.3,270.2 L295.8,269.8 L296.3,269.4 L296.6,269.2 L296.8,269.0 L297.3,268.6 L297.8,268.2 L298.3,267.7 L298.8,267.2 L299.3,266.7 L299.8,266.2 L300.3,265.6 L300.8,265.1 L301.3,264.5 L301.8,264.0 L302.3,263.5 L302.8,262.9 L303.3,262.5 L303.8,262.0 L303.9,261.9 L304.3,261.5 L304.8,261.1 L305.3,260.7 L305.8,260.3 L306.3,259.9 L306.8,259.5 L307.3,259.1 L307.8,258.7 L308.3,258.3 L308.8,257.9 L309.3,257.5 L309.8,257.2 L310.0,257.0 L310.3,256.8 L310.8,256.4 L311.3,256.0 L311.8,255.7 L312.3,255.3 L312.8,254.9 L313.3,254.6 L313.8,254.2 L314.3,253.9 L314.8,253.5 L315.3,253.1 L315.8,252.8 L316.3,252.4 L316.8,252.0 L317.3,251.6 L317.4,251.5 L317.8,251.2 L318.3,250.7 L318.8,250.3 L319.3,249.8 L319.8,249.3 L320.3,248.9 L320.8,248.4 L321.3,247.9 L321.8,247.4 L322.3,246.9 L322.8,246.4 L323.3,245.9 L323.8,245.4 L324.3,244.9 L324.8,244.4 L325.3,243.9 L325.8,243.5 L326.3,243.0 L326.8,242.6 L327.1,242.3 L327.3,242.1 L327.8,241.7 L328.3,241.2 L328.8,240.8 L329.3,240.3 L329.8,239.9 L330.3,239.4 L330.8,239.0 L331.3,238.6 L331.8,238.1 L332.3,237.7 L332.8,237.3 L333.3,237.0 L333.8,236.6 L334.3,236.3 L334.8,236.0 L335.3,235.8 L335.7,235.6 L335.8,235.6 L336.3,235.4 L336.8,235.2 L337.3,235.0 L337.8,234.8 L338.3,234.6 L338.8,234.5 L339.3,234.4 L339.8,234.3 L340.0,234.3 L340.3,234.3 L340.8,234.2 L341.3,234.2 L341.8,234.2 L342.3,234.2 L342.8,234.2 L343.3,234.1 L343.8,234.1 L344.3,234.1 L344.8,234.1 L345.3,234.1 L345.8,234.1 L346.3,234.0 L346.8,234.0 L347.0,234.0 L347.3,234.0 L347.8,233.9 L348.3,233.9 L348.8,233.8 L349.3,233.8 L349.8,233.7 L350.3,233.6 L350.8,233.5 L351.3,233.4 L351.8,233.3 L352.3,233.3 L352.6,233.2 L353.1,232.1 L353.6,230.7 L354.1,229.3 L354.6,227.6 L355.1,225.9 L355.6,224.0 L356.1,222.1 L356.2,221.7 L356.6,220.0 L357.1,217.7 L357.6,215.2 L358.1,212.5 L358.6,209.6 L359.1,206.6 L359.2,206.0 L359.6,203.4 L360.1,200.0 L360.6,196.2 L361.1,191.9 L361.2,191.0 L361.6,186.7 L362.1,180.4 L362.6,173.4 L363.1,166.4 L363.6,160.0 L364.1,154.3 L364.6,148.9 L365.1,143.6 L365.6,138.4 L366.1,133.2 L366.4,130.0 L366.6,127.9 L367.1,122.7 L367.6,117.7 L368.1,112.5 L368.6,107.1 L369.1,101.2 L369.2,100.0 L369.6,94.6 L370.1,87.0 L370.6,78.9 L371.1,70.8 L371.6,63.3 L372.0,58.0 L372.1,56.8 L372.6,50.9 L373.1,45.2 L373.6,39.7 L374.1,34.5 L374.6,29.6 L375.1,25.1 L375.6,20.9 L376.1,17.2 L376.2,16.5 L376.7,16.5 L377.2,16.5 L377.7,16.4 L378.2,16.4 L378.7,16.4 L379.2,16.4 L379.7,16.3 L380.2,16.3 L380.5,16.3 L381.0,17.7 L381.5,19.0 L382.0,20.4 L382.5,21.8 L383.0,23.1 L383.5,24.5 L384.0,25.7 L384.5,28.2 L385.0,31.8 L385.5,36.5 L386.0,41.9 L386.5,47.8 L387.0,54.1 L387.3,58.0 L387.5,61.0 L388.0,71.1 L388.5,83.1 L389.0,94.5 L389.3,100.0 L389.5,103.2 L390.0,111.0 L390.5,118.5 L391.0,125.8 L391.5,132.8 L392.0,139.6 L392.5,146.1 L393.0,152.4 L393.5,158.4 L394.0,164.2 L394.5,169.7 L395.0,175.0 L395.5,180.0 L396.0,184.8 L396.5,189.3 L397.0,193.6 L397.5,197.7 L397.8,200.0 L398.0,201.5 L398.5,205.2 L399.0,208.7 L399.5,212.0 L400.0,215.0 L400.5,217.7 L401.0,220.1 L401.5,222.0 L402.0,223.7 L402.5,225.4 L403.0,227.0 L403.5,228.4 L404.0,229.5 L404.5,230.2 L405.0,230.6 L405.1,230.6 L405.5,230.6 L406.0,230.6 L406.5,230.6 L407.0,230.6 L407.5,230.6 L408.0,230.6 L408.5,230.6 L409.0,230.6 L409.5,230.6 L410.0,230.6 L410.5,230.4 L411.0,230.0 L411.5,229.4 L412.0,228.5 L412.5,227.5 L413.0,226.4 L413.5,225.3 L414.0,224.1 L414.5,222.9 L414.9,222.0 L415.0,221.8 L415.5,220.6 L416.0,219.3 L416.5,217.9 L417.0,216.3 L417.5,214.8 L418.0,213.1 L418.5,211.5 L419.0,209.8 L419.5,208.1 L420.0,206.5 L420.5,204.9 L421.0,203.3 L421.5,201.9 L422.0,200.5 L422.2,200.0 L422.5,199.3 L423.0,198.0 L423.5,196.9 L424.0,195.7 L424.5,194.6 L425.0,193.6 L425.5,192.5 L426.0,191.6 L426.5,190.6 L427.0,190.4 L427.5,190.2 L428.0,190.1 L428.5,189.9 L429.0,189.7 L429.5,189.5 L430.0,189.3 L430.5,189.1 L431.0,188.9 L431.5,188.8 L432.0,188.6 L432.5,188.4 L433.0,189.0 L433.5,189.7 L434.0,190.5 L434.5,191.3 L435.0,192.1 L435.5,193.0 L436.0,193.9 L436.5,194.8 L437.0,195.8 L437.5,196.9 L438.0,198.2 L438.1,198.5 L438.5,199.8 L439.0,201.7 L439.5,204.1 L440.0,206.6 L440.5,209.4 L441.0,212.4 L441.5,215.5 L442.0,218.6 L442.5,221.7 L443.0,224.7 L443.5,227.6 L444.0,230.3 L444.3,231.8 L444.5,232.8 L445.0,235.2 L445.5,237.7 L446.0,240.2 L446.5,242.7 L447.0,245.2 L447.5,247.6 L448.0,250.0 L448.5,252.3 L449.0,254.5 L449.5,256.5 L450.0,258.5 L450.5,260.3 L451.0,261.9 L451.5,263.3 L451.6,263.6 L452.0,264.6 L452.5,265.9 L453.0,267.2 L453.5,268.4 L454.0,269.5 L454.5,270.4 L455.0,271.2 L455.5,271.9 L456.0,272.3 L456.2,272.4 L456.5,272.5 L457.0,272.7 L457.5,272.9 L458.0,273.0 L458.5,273.1 L459.0,273.2 L459.5,273.3 L460.0,273.3 L460.5,273.3 L461.0,273.3 L461.5,273.3 L462.0,273.3 L462.5,273.3 L463.0,273.3 L463.5,273.3 L464.0,273.3 L464.5,273.2 L465.0,273.2 L465.5,273.2 L466.0,273.2 L466.5,273.1 L467.0,272.8 L467.5,272.4 L468.0,271.8 L468.5,271.2 L469.0,270.5 L469.5,269.8 L470.0,269.1 L470.5,268.5 L470.9,268.0 L471.0,267.9 L471.5,267.3 L472.0,266.6 L472.5,265.9 L473.0,265.2 L473.5,264.5 L474.0,263.8 L474.5,263.1 L475.0,262.5 L475.5,261.9 L476.0,261.4 L476.5,261.0 L477.0,260.7 L477.5,260.5 L478.0,260.2 L478.5,260.0 L479.0,259.8 L479.5,259.6 L480.0,259.4 L480.5,259.2 L481.0,259.1 L481.5,259.0 L482.0,258.9 L482.5,258.8 L483.0,258.8 L483.1,258.8 L483.5,258.8 L484.0,258.9 L484.5,259.0 L485.0,259.2 L485.5,259.4 L486.0,259.6 L486.5,259.9 L487.0,260.2 L487.5,260.4 L488.0,260.7 L488.5,261.0 L489.0,261.3 L489.5,261.7 L490.0,262.1 L490.5,262.6 L491.0,263.0 L491.5,263.5 L492.0,264.0 L492.5,264.5 L493.0,264.9 L493.5,265.4 L494.0,265.8 L494.5,266.2 L495.0,266.6 L495.4,266.8 L495.5,266.9 L496.0,267.2 L496.5,267.4 L497.0,267.7 L497.5,268.0 L498.0,268.3 L498.5,268.6 L499.0,268.9 L499.5,269.2 L500.0,269.4 L500.5,269.7 L501.0,269.9 L501.5,270.1 L502.0,270.2 L502.5,270.3 L503.0,270.4 L503.5,270.5 L503.9,270.5 L504.0,270.5 L504.5,270.5 L505.0,270.5 L505.5,270.5 L506.0,270.4 L506.5,270.4 L507.0,270.4 L507.5,270.4 L508.0,270.3 L508.5,270.3 L509.0,270.2 L509.5,270.2 L510.0,270.2 L510.5,270.1 L511.0,270.1 L511.5,270.0 L512.0,270.0 L512.5,269.9 L513.0,269.9 L513.5,269.9 L514.0,269.9 L514.5,269.8 L515.0,269.8 L515.5,269.8 L516.0,269.8 L516.1,269.8 L516.5,269.8 L517.0,269.8 L517.5,269.8 L518.0,269.9 L518.5,269.9 L519.0,270.0 L519.5,270.0 L520.0,270.1 L520.5,270.2 L521.0,270.3 L521.5,270.4 L522.0,270.5 L522.5,270.6 L523.0,270.7 L523.5,270.8 L524.0,270.9 L524.5,271.0 L525.0,271.1 L525.5,271.2 L526.0,271.3 L526.5,271.4 L527.0,271.5 L527.5,271.5 L528.0,271.6 L528.4,271.7 L528.5,271.7 L529.0,271.8 L529.5,271.9 L530.0,272.0 L530.5,272.1 L531.0,272.2 L531.5,272.3 L532.0,272.4 L532.5,272.5 L533.0,272.6 L533.5,272.7 L534.0,272.8 L534.5,272.9 L535.0,273.0 L535.5,273.0 L536.0,273.1 L536.5,273.1 L536.9,273.1 L537.0,273.1 L537.5,273.1 L538.0,273.1 L538.5,273.1 L539.0,273.1 L539.5,273.1 L540.0,273.1 L540.5,273.1 L541.0,273.1 L541.5,273.1 L542.0,273.1 L542.5,273.1 L543.0,273.1 L543.5,273.1 L544.0,273.1 L544.5,273.1 L545.0,273.1 L545.5,273.1 L546.0,273.1 L546.5,273.1 L547.0,273.1 L547.5,273.1 L548.0,273.1 L548.5,273.1 L549.0,273.1 L549.5,273.1 L550.0,273.1 L550.5,273.1 L551.0,273.1 L551.5,273.1 L551.6,273.1 L552.0,273.0 L552.5,272.7 L553.0,272.2 L553.5,271.6 L554.0,270.8 L554.5,270.0 L555.0,269.2 L555.5,268.3 L556.0,267.5 L556.5,266.8 L557.0,266.1 L557.5,265.3 L558.0,264.5 L558.5,263.7 L559.0,262.9 L559.5,262.1 L560.0,261.5 L560.5,260.9 L561.0,260.4 L561.4,260.1 L561.5,260.0 L562.0,259.8 L562.5,259.5 L563.0,259.2 L563.5,259.0 L564.0,258.8 L564.5,258.5 L565.0,258.3 L565.5,258.2 L566.0,258.0 L566.5,257.9 L567.0,257.8 L567.5,257.7 L568.0,257.6 L568.5,257.6 L568.7,257.6 L569.0,257.6 L569.5,257.6 L570.0,257.7 L570.5,257.7 L571.0,257.8 L571.5,257.8 L572.0,257.9 L572.5,258.0 L573.0,258.1 L573.5,258.2 L574.0,258.3 L574.5,258.4 L575.0,258.6 L575.5,258.7 L576.0,258.8 L576.5,258.9 L577.0,259.1 L577.5,259.3 L578.0,259.5 L578.5,259.7 L579.0,260.0 L579.5,260.2 L580.0,260.5 L580.5,260.7 L581.0,261.0 L581.5,261.3 L582.0,261.5 L582.5,261.8 L583.0,262.1 L583.5,262.3 L584.0,262.5 L584.5,262.7 L585.0,262.9 L585.5,263.0 L585.8,263.1 L586.0,263.1 L586.5,263.3 L587.0,263.4 L587.5,263.5 L588.0,263.6 L588.5,263.7 L589.0,263.8 L589.5,263.9 L590.0,264.0 L590.5,264.1 L591.0,264.2 L591.5,264.2 L592.0,264.3 L592.5,264.3 L593.0,264.3 L593.2,264.3 L593.5,264.3 L594.0,264.3 L594.5,264.3 L595.0,264.2 L595.5,264.2 L596.0,264.2 L596.5,264.1 L597.0,264.1 L597.5,264.0 L598.0,264.0 L598.5,263.9 L599.0,263.8 L599.5,263.8 L600.0,263.7 L600.5,263.6 L601.0,263.4 L601.5,263.2 L602.0,262.9 L602.5,262.6 L603.0,262.2 L603.5,261.8 L604.0,261.5 L604.5,261.1 L605.0,260.7 L605.5,260.4 L606.0,260.0 L606.5,259.8 L607.0,259.5 L607.3,259.4 L607.5,259.3 L608.0,259.2 L608.5,259.0 L609.0,258.8 L609.5,258.6 L610.0,258.5 L610.5,258.3 L611.0,258.2 L611.5,258.0 L612.0,257.9 L612.5,257.8 L613.0,257.7 L613.5,257.7 L614.0,257.6 L614.5,257.6 L614.7,257.6 L615.0,257.6 L615.5,257.6 L616.0,257.6 L616.5,257.7 L617.0,257.7 L617.5,257.8 L618.0,257.8 L618.5,257.9 L619.0,257.9 L619.5,258.0 L620.0,258.1 L620.5,258.2 L620.8,258.2 L621.0,258.2 L621.5,258.4 L622.0,258.5 L622.5,258.7 L623.0,258.9 L623.5,259.1 L624.0,259.4 L624.5,259.7 L625.0,259.9 L625.5,260.2 L626.0,260.4 L626.5,260.7 L627.0,260.9 L627.5,261.1 L628.0,261.3 L628.1,261.3 L628.5,261.4 L629.0,261.6 L629.5,261.7 L630.0,261.9 L630.5,262.0 L631.0,262.1 L631.5,262.3 L632.0,262.4 L632.5,262.5 L633.0,262.6 L633.5,262.7 L634.0,262.8 L634.5,262.9 L635.0,263.0 L635.5,263.0 L636.0,263.1 L636.5,263.1 L636.7,263.1 L637.0,263.1 L637.5,263.1 L638.0,263.1 L638.5,263.0 L639.0,263.0 L639.5,262.9 L640.0,262.9 L640.5,262.8 L641.0,262.8 L641.5,262.7 L642.0,262.7 L642.5,262.6 L643.0,262.6 L643.5,262.6 L644.0,262.5 L644.5,262.5 L645.0,262.5 L645.2,262.5 L645.5,262.5 L646.0,262.5 L646.5,262.5 L647.0,262.6 L647.5,262.6 L648.0,262.7 L648.5,262.7 L649.0,262.8 L649.5,262.8 L650.0,262.9 L650.5,263.0 L651.0,263.1 L651.5,263.1 L652.0,263.2 L652.5,263.3 L653.0,263.4 L653.5,263.5 L654.0,263.5 L654.5,263.6 L655.0,263.7 L655.5,263.8 L656.0,263.9 L656.5,263.9 L657.0,264.0 L657.5,264.1 L658.0,264.2 L658.5,264.3 L659.0,264.4 L659.5,264.5 L660.0,264.6 L660.5,264.7 L661.0,264.8 L661.5,264.9 L662.0,265.0 L662.5,265.1 L663.0,265.2 L663.5,265.3 L664.0,265.5 L664.5,265.6 L665.0,265.7 L665.5,265.8 L666.0,265.9 L666.5,266.0 L667.0,266.2 L667.2,266.2 L667.5,266.3 L668.0,266.4 L668.5,266.5 L669.0,266.7 L669.5,266.8 L670.0,266.9 L670.5,267.1 L671.0,267.2 L671.5,267.4 L672.0,267.5 L672.5,267.6 L673.0,267.8 L673.5,267.9 L674.0,268.1 L674.5,268.2 L675.0,268.4 L675.5,268.5 L675.8,268.6 L676.0,268.7 L676.5,268.8 L677.0,269.0 L677.5,269.2 L678.0,269.4 L678.5,269.5 L679.0,269.7 L679.5,269.9 L680.0,270.1 L680.5,270.3 L681.0,270.5 L681.5,270.6 L682.0,270.8 L682.5,270.9 L683.0,271.0 L683.5,271.0 L684.0,271.1 L684.4,271.1 L684.5,271.1 L685.0,271.1 L685.5,271.0 L686.0,270.9 L686.5,270.8 L687.0,270.6 L687.5,270.5 L688.0,270.3 L688.5,270.1 L689.0,269.9 L689.2,269.8 L689.5,269.7 L690.0,269.4 L690.5,269.0 L691.0,268.6 L691.5,268.1 L692.0,267.6 L692.5,267.0 L693.0,266.4 L693.5,265.8 L694.0,265.2 L694.5,264.6 L695.0,264.0 L695.5,263.5 L696.0,263.0 L696.5,262.5 L697.0,262.0 L697.5,261.6 L698.0,261.1 L698.5,260.6 L699.0,260.2 L699.5,259.8 L700.0,259.4 L700.5,259.2 L701.0,259.0 L701.5,258.8 L702.0,258.6 L702.5,258.5 L703.0,258.4 L703.5,258.3 L703.9,258.3 L704.0,258.3 L704.5,258.3 L705.0,258.4 L705.5,258.5 L706.0,258.7 L706.5,258.8 L707.0,259.0 L707.5,259.2 L708.0,259.4 L708.5,259.7 L709.0,260.1 L709.5,260.6 L710.0,261.0 L710.5,261.5 L711.0,262.0 L711.5,262.5 L712.0,263.0 L712.5,263.6 L713.0,264.2 L713.5,264.8 L714.0,265.5 L714.5,266.1 L715.0,266.8 L715.5,267.4 L716.0,268.1 L716.5,268.7 L717.0,269.3 L717.4,269.8 L717.5,269.9 L718.0,270.5 L718.5,271.0 L719.0,271.5 L719.5,272.0 L720.0,272.5 L720.4,272.9" stroke="#77AC30"/>
</g>
<g stroke="#1c1c1c" stroke-width="3.0" fill="none" stroke-linecap="butt">
<rect x="133.0" y="3.5" width="664.6" height="282.7"/>
<path d="M173.0,286.2 v-8.2 M173.0,3.5 v8.2"/>
<path d="M319.1,286.2 v-8.2 M319.1,3.5 v8.2"/>
<path d="M465.2,286.2 v-8.2 M465.2,3.5 v8.2"/>
<path d="M611.4,286.2 v-8.2 M611.4,3.5 v8.2"/>
<path d="M757.5,286.2 v-8.2 M757.5,3.5 v8.2"/>
<path d="M133.0,273.4 h8.2 M797.6,273.4 h-8.2"/>
<path d="M133.0,144.9 h8.2 M797.6,144.9 h-8.2"/>
<path d="M133.0,16.4 h8.2 M797.6,16.4 h-8.2"/>
</g>
<g font-family="'Liberation Serif', serif" fill="#000" stroke="#000" stroke-width="0.12">
<text x="170.1" y="340.3" font-size="43" text-anchor="middle">-0.4</text>
<text x="316.2" y="340.3" font-size="43" text-anchor="middle">-0.2</text>
<text x="464.6" y="340.3" font-size="43" text-anchor="middle">0</text>
<text x="608.5" y="340.3" font-size="43" text-anchor="middle">0.2</text>
<text x="754.6" y="340.3" font-size="43" text-anchor="middle">0.4</text>
<text x="120.4" y="290.0" font-size="43" text-anchor="end">0</text>
<text x="116.0" y="161.5" font-size="43" text-anchor="end">0.5</text>
<text x="119.5" y="33.0" font-size="43" text-anchor="end">1</text>
 <text x="462.2" y="398.4" font-size="46.9" text-anchor="middle">x (mm)</text>
<text transform="translate(51.0,189.3) rotate(-90)" font-size="46.4" text-anchor="start">|W|<tspan font-size="36.5" dx="6.5" dy="-25.2">2</tspan></text>
<path d="M675.1,34.4 H698.9" stroke="#0072BD" stroke-width="5.3" fill="none"/>
<text x="700.2" y="49.0" font-size="38.5">m=0</text>
<path d="M675.1,82.3 H698.9" stroke="#D95319" stroke-width="5.3" fill="none"/>
<text x="700.2" y="96.9" font-size="38.5">m=1</text>
<path d="M675.1,130.3 H698.9" stroke="#EDB120" stroke-width="5.3" fill="none"/>
<text x="700.2" y="144.9" font-size="38.5">m=-1</text>
<path d="M675.1,178.2 H698.9" stroke="#7E2F8E" stroke-width="5.3" fill="none"/>
<text x="700.2" y="192.8" font-size="38.5">m=2</text>
<path d="M675.1,226.1 H698.9" stroke="#77AC30" stroke-width="5.3" fill="none"/>
<text x="700.2" y="240.7" font-size="38.5">m=-2</text>
</g>
<g fill="none" stroke-width="5.3" stroke-linejoin="miter" stroke-miterlimit="4" stroke-linecap="butt">
<path d="M1054.1,264.0 L1054.6,264.0 L1055.1,264.0 L1055.6,264.0 L1056.1,264.0 L1056.6,264.1 L1057.1,264.1 L1057.6,264.1 L1058.1,264.2 L1058.6,264.2 L1059.1,264.2 L1059.6,264.3 L1060.0,264.3 L1060.1,264.3 L1060.6,264.4 L1061.1,264.4 L1061.6,264.5 L1062.1,264.6 L1062.6,264.6 L1063.1,264.7 L1063.6,264.9 L1064.1,265.0 L1064.6,265.1 L1065.1,265.2 L1065.6,265.4 L1066.0,265.5 L1066.1,265.5 L1066.6,265.8 L1067.1,266.1 L1067.6,266.4 L1068.1,266.9 L1068.6,267.3 L1069.1,267.8 L1069.6,268.3 L1070.1,268.7 L1070.6,269.1 L1071.1,269.5 L1071.6,269.8 L1072.0,270.0 L1072.1,270.0 L1072.6,270.2 L1073.1,270.4 L1073.6,270.6 L1074.1,270.8 L1074.6,271.0 L1075.1,271.1 L1075.6,271.3 L1076.1,271.4 L1076.6,271.5 L1077.1,271.7 L1077.6,271.8 L1078.1,271.8 L1078.6,271.9 L1079.1,272.0 L1079.6,272.0 L1080.0,272.0 L1080.1,272.0 L1080.6,272.0 L1081.1,271.9 L1081.6,271.8 L1082.1,271.7 L1082.6,271.5 L1083.1,271.3 L1083.6,271.1 L1084.1,270.8 L1084.6,270.6 L1085.1,270.3 L1085.6,270.0 L1086.1,269.7 L1086.6,269.4 L1087.1,269.0 L1087.6,268.7 L1088.1,268.4 L1088.6,268.0 L1089.1,267.7 L1089.6,267.4 L1090.1,267.1 L1090.6,266.8 L1091.1,266.5 L1091.6,266.2 L1092.0,266.0 L1092.1,265.9 L1092.6,265.7 L1093.1,265.4 L1093.6,265.1 L1094.1,264.7 L1094.6,264.4 L1095.1,264.1 L1095.6,263.8 L1096.1,263.4 L1096.6,263.1 L1097.1,262.9 L1097.6,262.6 L1098.1,262.4 L1098.6,262.2 L1099.1,262.1 L1099.6,262.0 L1100.0,262.0 L1100.1,262.0 L1100.6,262.1 L1101.1,262.2 L1101.6,262.4 L1102.1,262.6 L1102.6,262.9 L1103.1,263.2 L1103.6,263.6 L1104.1,263.9 L1104.6,264.3 L1105.1,264.8 L1105.6,265.2 L1106.1,265.6 L1106.6,266.0 L1107.1,266.4 L1107.6,266.8 L1108.1,267.1 L1108.6,267.4 L1109.1,267.7 L1109.6,267.9 L1110.0,268.0 L1110.1,268.0 L1110.6,268.2 L1111.1,268.3 L1111.6,268.4 L1112.1,268.5 L1112.6,268.7 L1113.1,268.8 L1113.6,268.9 L1114.1,269.0 L1114.6,269.1 L1115.1,269.2 L1115.6,269.3 L1116.1,269.4 L1116.6,269.5 L1117.1,269.6 L1117.6,269.7 L1118.1,269.7 L1118.6,269.8 L1119.1,269.8 L1119.6,269.9 L1120.1,269.9 L1120.6,270.0 L1121.1,270.0 L1121.6,270.0 L1122.0,270.0 L1122.1,270.0 L1122.6,270.0 L1123.1,269.9 L1123.6,269.9 L1124.1,269.8 L1124.6,269.6 L1125.1,269.5 L1125.6,269.4 L1126.1,269.2 L1126.6,269.0 L1127.1,268.8 L1127.6,268.6 L1128.1,268.4 L1128.6,268.2 L1129.1,268.0 L1129.6,267.8 L1130.1,267.6 L1130.6,267.4 L1131.1,267.2 L1131.6,267.0 L1132.1,266.8 L1132.6,266.7 L1133.1,266.6 L1133.6,266.4 L1134.1,266.3 L1134.6,266.3 L1135.1,266.2 L1135.4,266.2 L1135.6,266.2 L1136.1,266.2 L1136.6,266.2 L1137.1,266.1 L1137.6,266.1 L1138.1,266.1 L1138.6,266.1 L1139.1,266.1 L1139.6,266.1 L1140.1,266.1 L1140.6,266.0 L1141.1,266.0 L1141.6,266.0 L1142.1,266.0 L1142.6,266.0 L1143.1,266.0 L1143.6,266.0 L1144.1,266.0 L1144.6,266.0 L1145.0,266.0 L1145.1,266.0 L1145.6,266.0 L1146.1,266.1 L1146.6,266.2 L1147.1,266.4 L1147.6,266.5 L1148.1,266.7 L1148.6,267.0 L1149.1,267.2 L1149.6,267.5 L1150.1,267.7 L1150.6,268.0 L1151.1,268.3 L1151.6,268.5 L1152.1,268.8 L1152.6,269.0 L1153.1,269.3 L1153.6,269.5 L1154.1,269.7 L1154.6,269.9 L1155.0,270.0 L1155.1,270.0 L1155.6,270.2 L1156.1,270.3 L1156.6,270.4 L1157.1,270.6 L1157.6,270.7 L1158.1,270.9 L1158.6,271.0 L1159.1,271.1 L1159.6,271.3 L1160.1,271.4 L1160.6,271.5 L1161.1,271.7 L1161.6,271.8 L1162.1,271.9 L1162.6,272.0 L1163.1,272.1 L1163.6,272.2 L1164.1,272.3 L1164.6,272.4 L1165.1,272.5 L1165.6,272.6 L1166.1,272.7 L1166.6,272.7 L1167.1,272.8 L1167.6,272.8 L1168.1,272.9 L1168.6,272.9 L1169.1,272.9 L1169.6,272.9 L1170.1,272.7 L1170.6,272.1 L1171.1,271.3 L1171.6,270.2 L1172.1,269.0 L1172.6,267.7 L1173.1,266.3 L1173.6,265.0 L1174.1,263.9 L1174.5,263.1 L1174.6,262.9 L1175.1,262.0 L1175.6,261.0 L1176.1,260.1 L1176.6,259.1 L1177.1,258.1 L1177.6,257.2 L1178.1,256.3 L1178.6,255.5 L1179.1,254.8 L1179.6,254.2 L1180.1,253.7 L1180.6,253.3 L1181.1,253.0 L1181.6,252.7 L1182.1,252.5 L1182.6,252.3 L1183.1,252.1 L1183.6,252.1 L1184.1,252.1 L1184.6,252.3 L1185.1,252.5 L1185.6,252.8 L1186.1,253.1 L1186.6,253.5 L1187.1,253.9 L1187.6,254.4 L1188.1,254.9 L1188.6,255.3 L1189.1,255.8 L1189.6,256.3 L1190.1,256.7 L1190.4,257.0 L1190.6,257.2 L1191.1,257.6 L1191.6,258.1 L1192.1,258.6 L1192.6,259.1 L1193.1,259.7 L1193.6,260.2 L1194.1,260.7 L1194.6,261.3 L1195.1,261.8 L1195.6,262.3 L1196.1,262.7 L1196.5,263.1 L1196.6,263.2 L1197.1,263.6 L1197.6,264.1 L1198.1,264.6 L1198.6,265.1 L1199.1,265.6 L1199.6,266.0 L1200.1,266.4 L1200.6,266.6 L1201.1,266.8 L1201.4,266.8 L1201.6,266.8 L1202.1,266.7 L1202.6,266.6 L1203.1,266.4 L1203.6,266.2 L1204.1,266.0 L1204.6,265.7 L1205.1,265.3 L1205.6,265.0 L1206.1,264.6 L1206.6,264.3 L1207.0,264.0 L1207.1,263.9 L1207.6,263.5 L1208.1,263.0 L1208.6,262.4 L1209.1,261.7 L1209.6,261.0 L1210.1,260.3 L1210.6,259.6 L1211.1,258.8 L1211.6,258.1 L1212.1,257.5 L1212.6,256.8 L1213.1,256.3 L1213.6,255.8 L1214.1,255.4 L1214.6,254.9 L1215.1,254.5 L1215.6,254.1 L1216.1,253.6 L1216.6,253.2 L1217.1,252.8 L1217.6,252.4 L1218.1,252.0 L1218.6,251.6 L1219.1,251.3 L1219.6,251.0 L1220.1,250.7 L1220.6,250.4 L1221.1,250.2 L1221.6,250.0 L1222.1,249.9 L1222.6,249.8 L1223.1,249.7 L1223.4,249.7 L1223.6,249.7 L1224.1,249.8 L1224.6,249.9 L1225.1,250.0 L1225.6,250.2 L1226.1,250.4 L1226.6,250.7 L1227.1,251.0 L1227.6,251.3 L1228.1,251.6 L1228.6,251.9 L1229.1,252.3 L1229.6,252.6 L1230.1,252.9 L1230.6,253.2 L1230.7,253.3 L1231.1,253.6 L1231.6,254.0 L1232.1,254.4 L1232.6,254.9 L1233.1,255.3 L1233.6,255.8 L1234.1,256.2 L1234.6,256.6 L1235.1,256.8 L1235.6,257.0 L1236.1,257.1 L1236.6,257.2 L1237.1,257.3 L1237.6,257.3 L1238.1,257.4 L1238.6,257.5 L1239.1,257.5 L1239.6,257.6 L1240.0,257.6 L1240.1,257.6 L1240.6,257.7 L1241.1,257.7 L1241.6,257.8 L1242.1,257.8 L1242.6,257.9 L1243.1,257.9 L1243.6,258.0 L1244.1,258.0 L1244.6,258.1 L1245.1,258.1 L1245.6,258.1 L1246.1,258.2 L1246.6,258.2 L1247.1,258.2 L1247.3,258.2 L1247.6,258.2 L1248.1,258.1 L1248.6,257.9 L1249.1,257.6 L1249.6,257.2 L1250.1,256.8 L1250.6,256.3 L1251.1,255.8 L1251.6,255.2 L1252.1,254.6 L1252.6,254.0 L1253.1,253.3 L1253.6,252.6 L1254.1,252.0 L1254.6,251.3 L1255.1,250.7 L1255.6,250.1 L1255.9,249.7 L1256.1,249.5 L1256.6,248.8 L1257.1,248.2 L1257.6,247.5 L1258.1,246.8 L1258.6,246.1 L1259.1,245.4 L1259.6,244.6 L1260.1,243.9 L1260.6,243.1 L1261.1,242.4 L1261.6,241.7 L1262.0,241.1 L1262.1,241.0 L1262.6,240.2 L1263.1,239.3 L1263.6,238.4 L1264.1,237.4 L1264.6,236.5 L1265.1,235.5 L1265.6,234.6 L1266.1,233.7 L1266.6,232.9 L1267.1,232.1 L1267.6,231.5 L1268.1,231.0 L1268.6,230.7 L1269.1,230.5 L1269.3,230.5 L1269.6,230.6 L1270.1,231.4 L1270.6,232.7 L1271.1,234.4 L1271.6,236.2 L1272.1,238.1 L1272.6,239.9 L1273.0,241.1 L1273.1,241.4 L1273.6,242.8 L1274.1,244.2 L1274.6,245.7 L1275.1,247.2 L1275.6,248.6 L1276.1,249.9 L1276.6,251.1 L1277.1,252.1 L1277.6,252.9 L1277.9,253.3 L1278.1,253.5 L1278.6,254.0 L1279.1,254.5 L1279.6,254.9 L1280.1,255.3 L1280.6,255.6 L1281.1,255.7 L1281.6,255.8 L1282.1,255.8 L1282.6,255.7 L1283.1,255.5 L1283.6,255.3 L1284.1,255.1 L1284.6,254.9 L1285.1,254.6 L1285.6,254.3 L1286.0,254.0 L1286.1,253.9 L1286.6,253.5 L1287.1,253.0 L1287.6,252.4 L1288.1,251.7 L1288.6,250.9 L1289.1,250.0 L1289.6,248.9 L1290.1,247.8 L1290.6,246.7 L1291.1,245.4 L1291.6,244.0 L1292.1,242.6 L1292.6,241.1 L1293.1,239.3 L1293.6,236.9 L1294.1,234.1 L1294.6,230.9 L1295.1,227.4 L1295.6,223.8 L1296.1,220.0 L1296.6,216.1 L1297.1,212.3 L1297.5,209.4 L1297.6,208.7 L1298.1,205.2 L1298.6,201.0 L1298.7,200.0 L1299.1,195.4 L1299.6,188.3 L1300.1,180.0 L1300.6,170.5 L1301.1,160.1 L1301.6,149.0 L1302.1,137.3 L1302.6,125.1 L1303.1,112.6 L1303.6,100.0 L1304.1,85.0 L1304.6,68.7 L1305.0,58.0 L1305.1,55.9 L1305.6,45.5 L1306.1,36.1 L1306.6,28.1 L1307.1,21.9 L1307.4,19.2 L1307.9,18.8 L1308.4,18.4 L1308.9,18.0 L1309.4,17.5 L1309.7,17.3 L1310.2,17.7 L1310.7,18.1 L1311.2,18.5 L1311.7,19.0 L1312.0,19.2 L1312.5,24.4 L1313.0,30.9 L1313.5,38.5 L1314.0,47.0 L1314.5,56.1 L1314.6,58.0 L1315.0,66.7 L1315.5,79.5 L1316.0,92.7 L1316.3,100.0 L1316.5,104.5 L1317.0,115.9 L1317.5,127.1 L1318.0,138.2 L1318.5,149.1 L1319.0,159.6 L1319.5,169.7 L1320.0,179.4 L1320.5,188.4 L1321.0,196.8 L1321.2,200.0 L1321.5,204.5 L1322.0,211.6 L1322.5,218.1 L1323.0,223.9 L1323.1,225.0 L1323.5,229.4 L1324.0,235.0 L1324.5,240.1 L1325.0,244.3 L1325.5,246.9 L1325.6,247.2 L1326.0,248.2 L1326.5,249.3 L1327.0,250.4 L1327.5,251.3 L1328.0,252.2 L1328.5,252.9 L1329.0,253.6 L1329.5,254.1 L1330.0,254.6 L1330.5,254.9 L1331.0,255.1 L1331.5,255.2 L1331.7,255.2 L1332.0,255.2 L1332.5,255.2 L1333.0,255.1 L1333.5,255.0 L1334.0,254.9 L1334.5,254.7 L1335.0,254.6 L1335.5,254.4 L1336.0,254.2 L1336.5,254.0 L1337.0,253.7 L1337.5,253.5 L1337.8,253.3 L1338.0,253.2 L1338.5,252.7 L1339.0,252.0 L1339.5,251.1 L1340.0,250.1 L1340.5,248.9 L1341.0,247.7 L1341.5,246.5 L1342.0,245.2 L1342.5,244.0 L1343.0,242.9 L1343.5,241.8 L1343.9,241.1 L1344.0,240.9 L1344.5,240.1 L1345.0,239.1 L1345.5,238.2 L1346.0,237.2 L1346.5,236.3 L1347.0,235.3 L1347.5,234.3 L1348.0,233.4 L1348.5,232.5 L1349.0,231.7 L1349.5,230.9 L1350.0,230.2 L1350.5,229.6 L1351.0,229.0 L1351.5,228.6 L1352.0,228.3 L1352.5,228.1 L1353.0,228.0 L1353.5,228.1 L1354.0,228.3 L1354.5,228.6 L1355.0,229.1 L1355.5,229.6 L1356.0,230.3 L1356.5,231.0 L1357.0,231.8 L1357.5,232.7 L1358.0,233.6 L1358.5,234.5 L1359.0,235.4 L1359.5,236.4 L1360.0,237.4 L1360.5,238.3 L1361.0,239.3 L1361.5,240.2 L1362.0,241.0 L1362.5,241.8 L1363.0,242.8 L1363.5,243.7 L1364.0,244.7 L1364.5,245.7 L1365.0,246.7 L1365.5,247.8 L1366.0,248.8 L1366.5,249.9 L1367.0,250.9 L1367.5,251.9 L1368.0,252.8 L1368.5,253.7 L1369.0,254.5 L1369.5,255.3 L1370.0,256.0 L1370.5,256.6 L1371.0,257.3 L1371.5,257.9 L1372.0,258.5 L1372.5,259.1 L1373.0,259.6 L1373.5,260.2 L1374.0,260.7 L1374.5,261.2 L1375.0,261.6 L1375.5,262.1 L1376.0,262.5 L1376.5,262.9 L1377.0,263.3 L1377.5,263.7 L1378.0,264.0 L1378.5,264.3 L1379.0,264.6 L1379.5,264.9 L1380.0,265.1 L1380.5,265.4 L1381.0,265.6 L1381.5,265.8 L1382.0,266.0 L1382.5,266.3 L1383.0,266.5 L1383.5,266.7 L1384.0,266.9 L1384.5,267.1 L1385.0,267.3 L1385.5,267.5 L1386.0,267.7 L1386.5,267.9 L1386.7,268.0 L1387.0,268.1 L1387.5,268.4 L1388.0,268.6 L1388.5,268.9 L1389.0,269.2 L1389.5,269.5 L1390.0,269.8 L1390.5,270.1 L1391.0,270.4 L1391.5,270.7 L1392.0,271.0 L1392.5,271.2 L1393.0,271.5 L1393.5,271.8 L1394.0,272.0 L1394.5,272.2 L1395.0,272.4 L1395.5,272.5 L1396.0,272.7 L1396.5,272.8 L1397.0,272.9 L1397.5,272.9 L1397.7,272.9 L1398.0,272.9 L1398.5,272.8 L1399.0,272.6 L1399.5,272.3 L1400.0,272.0 L1400.5,271.6 L1401.0,271.2 L1401.5,270.7 L1402.0,270.3 L1402.5,269.8 L1403.0,269.4 L1403.5,269.0 L1404.0,268.6 L1404.5,268.3 L1405.0,268.0 L1405.5,267.8 L1406.0,267.5 L1406.5,267.3 L1407.0,267.1 L1407.5,266.9 L1408.0,266.7 L1408.5,266.5 L1409.0,266.3 L1409.5,266.1 L1410.0,266.0 L1410.5,265.9 L1411.0,265.8 L1411.5,265.7 L1412.0,265.7 L1412.5,265.7 L1413.0,265.9 L1413.5,266.1 L1414.0,266.3 L1414.5,266.6 L1415.0,266.9 L1415.5,267.3 L1416.0,267.7 L1416.5,268.0 L1417.0,268.4 L1417.5,268.8 L1418.0,269.1 L1418.5,269.4 L1419.0,269.7 L1419.5,269.9 L1420.0,270.0 L1420.5,270.1 L1421.0,270.2 L1421.5,270.3 L1422.0,270.4 L1422.5,270.5 L1423.0,270.5 L1423.5,270.6 L1424.0,270.7 L1424.5,270.7 L1425.0,270.8 L1425.5,270.9 L1426.0,270.9 L1426.5,270.9 L1427.0,271.0 L1427.5,271.0 L1428.0,271.0 L1428.3,271.0 L1428.5,271.0 L1429.0,270.8 L1429.5,270.5 L1430.0,270.1 L1430.5,269.5 L1431.0,268.8 L1431.5,268.1 L1432.0,267.3 L1432.5,266.5 L1433.0,265.7 L1433.5,264.8 L1434.0,264.0 L1434.5,263.3 L1435.0,262.6 L1435.5,262.0 L1435.6,261.9 L1436.0,261.5 L1436.5,260.9 L1437.0,260.3 L1437.5,259.7 L1438.0,259.1 L1438.5,258.6 L1439.0,258.2 L1439.5,257.9 L1440.0,257.8 L1440.1,257.8 L1440.5,257.9 L1441.0,258.1 L1441.5,258.4 L1442.0,258.9 L1442.5,259.5 L1443.0,260.2 L1443.5,260.9 L1444.0,261.7 L1444.5,262.4 L1445.0,263.2 L1445.5,263.9 L1446.0,264.6 L1446.5,265.2 L1447.0,265.7 L1447.5,266.2 L1448.0,266.6 L1448.5,267.1 L1449.0,267.6 L1449.5,268.1 L1450.0,268.6 L1450.5,269.0 L1451.0,269.5 L1451.5,269.9 L1452.0,270.3 L1452.5,270.6 L1453.0,270.9 L1453.5,271.1 L1454.0,271.3 L1454.5,271.5 L1454.8,271.5 L1455.0,271.5 L1455.5,271.6 L1456.0,271.6 L1456.5,271.7 L1457.0,271.7 L1457.5,271.7 L1458.0,271.8 L1458.5,271.8 L1459.0,271.8 L1459.5,271.9 L1460.0,271.9 L1460.5,271.9 L1461.0,271.9 L1461.5,271.9 L1462.0,272.0 L1462.5,272.0 L1463.0,272.0 L1463.5,272.0 L1464.0,272.0 L1464.5,272.0 L1465.0,272.0 L1465.5,272.0 L1466.0,271.9 L1466.5,271.8 L1467.0,271.7 L1467.5,271.5 L1468.0,271.3 L1468.5,271.1 L1469.0,270.8 L1469.5,270.6 L1470.0,270.3 L1470.5,269.9 L1471.0,269.6 L1471.5,269.3 L1472.0,268.9 L1472.5,268.5 L1473.0,268.2 L1473.5,267.8 L1474.0,267.4 L1474.5,267.1 L1475.0,266.7 L1475.5,266.3 L1476.0,266.0 L1476.5,265.6 L1477.0,265.2 L1477.5,264.7 L1478.0,264.2 L1478.5,263.6 L1479.0,263.1 L1479.5,262.5 L1480.0,261.9 L1480.5,261.2 L1481.0,260.6 L1481.5,260.1 L1482.0,259.5 L1482.5,259.0 L1483.0,258.5 L1483.5,258.1 L1484.0,257.7 L1484.5,257.4 L1485.0,257.1 L1485.5,257.0 L1486.0,256.9 L1486.1,256.9 L1486.5,256.9 L1487.0,257.1 L1487.5,257.4 L1488.0,257.8 L1488.5,258.3 L1489.0,258.8 L1489.5,259.4 L1490.0,260.1 L1490.5,260.8 L1491.0,261.5 L1491.5,262.2 L1492.0,262.8 L1492.5,263.5 L1493.0,264.0 L1493.5,264.6 L1494.0,265.0 L1494.5,265.4 L1495.0,265.8 L1495.5,266.2 L1496.0,266.7 L1496.5,267.1 L1497.0,267.5 L1497.5,268.0 L1498.0,268.4 L1498.5,268.8 L1499.0,269.2 L1499.5,269.6 L1500.0,270.0 L1500.5,270.3 L1501.0,270.6 L1501.5,270.9 L1502.0,271.2 L1502.5,271.4 L1503.0,271.6 L1503.5,271.8 L1504.0,271.9 L1504.5,272.0 L1505.0,272.0 L1505.5,272.0 L1506.0,272.0 L1506.5,271.9 L1507.0,271.9 L1507.5,271.8 L1508.0,271.7 L1508.5,271.6 L1509.0,271.4 L1509.5,271.3 L1510.0,271.2 L1510.5,271.0 L1511.0,270.8 L1511.5,270.7 L1512.0,270.5 L1512.5,270.3 L1513.0,270.1 L1513.5,269.9 L1514.0,269.7 L1514.5,269.5 L1515.0,269.3 L1515.5,269.1 L1516.0,268.8 L1516.5,268.6 L1517.0,268.4 L1517.5,268.2 L1518.0,268.0 L1518.5,267.8 L1519.0,267.5 L1519.5,267.2 L1520.0,266.9 L1520.5,266.5 L1521.0,266.2 L1521.5,265.8 L1522.0,265.4 L1522.5,265.0 L1523.0,264.5 L1523.5,264.1 L1524.0,263.7 L1524.5,263.3 L1525.0,262.9 L1525.5,262.4 L1526.0,262.1 L1526.5,261.7 L1527.0,261.3 L1527.5,261.0 L1528.0,260.7 L1528.5,260.5 L1529.0,260.2 L1529.5,260.1 L1530.0,259.9 L1530.5,259.8 L1531.0,259.8 L1531.1,259.8 L1531.5,259.9 L1532.0,260.1 L1532.5,260.5 L1533.0,261.0 L1533.5,261.7 L1534.0,262.5 L1534.5,263.3 L1535.0,264.2 L1535.5,265.2 L1536.0,266.1 L1536.5,267.1 L1537.0,268.1 L1537.5,269.0 L1538.0,269.8 L1538.5,270.6 L1539.0,271.3 L1539.5,271.8 L1540.0,272.2 L1540.5,272.4 L1540.9,272.5 L1541.0,272.5 L1541.5,272.5 L1542.0,272.5 L1542.5,272.5 L1543.0,272.5 L1543.5,272.5 L1544.0,272.4 L1544.5,272.4 L1545.0,272.4 L1545.5,272.4 L1546.0,272.3 L1546.5,272.3 L1547.0,272.3 L1547.5,272.2 L1548.0,272.2 L1548.5,272.1 L1549.0,272.1 L1549.5,272.1 L1550.0,272.0 L1550.5,271.9 L1551.0,271.7 L1551.5,271.5 L1552.0,271.2 L1552.5,270.8 L1553.0,270.3 L1553.5,269.9 L1554.0,269.4 L1554.5,268.8 L1555.0,268.3 L1555.5,267.7 L1556.0,267.1 L1556.5,266.6 L1557.0,266.0 L1557.5,265.5 L1558.0,265.0 L1558.5,264.5 L1559.0,264.0 L1559.5,263.5 L1560.0,263.0 L1560.5,262.5 L1561.0,261.9 L1561.5,261.4 L1562.0,260.8 L1562.5,260.3 L1563.0,259.7 L1563.5,259.1 L1564.0,258.6 L1564.5,258.0 L1565.0,257.4 L1565.4,256.9" stroke="#0072BD"/>
<path d="M1054.1,261.3 L1054.6,261.6 L1055.1,261.9 L1055.6,262.2 L1056.1,262.5 L1056.6,262.8 L1057.1,263.1 L1057.6,263.5 L1058.1,263.8 L1058.6,264.1 L1059.1,264.4 L1059.6,264.8 L1060.1,265.1 L1060.6,265.5 L1060.8,265.6 L1061.1,265.8 L1061.6,266.2 L1062.1,266.7 L1062.6,267.1 L1063.1,267.6 L1063.6,268.1 L1064.1,268.6 L1064.6,269.1 L1065.1,269.6 L1065.6,270.0 L1066.1,270.3 L1066.6,270.6 L1067.1,270.8 L1067.6,271.0 L1068.0,271.0 L1068.1,271.0 L1068.6,271.0 L1069.1,271.0 L1069.6,271.0 L1070.1,271.0 L1070.6,271.0 L1071.1,271.0 L1071.6,271.0 L1072.1,271.0 L1072.6,271.0 L1073.1,271.0 L1073.6,271.0 L1074.1,271.0 L1074.6,271.0 L1075.1,271.0 L1075.6,271.0 L1076.1,271.0 L1076.6,271.0 L1077.1,271.0 L1077.6,271.0 L1078.0,271.0 L1078.1,271.0 L1078.6,270.9 L1079.1,270.7 L1079.6,270.3 L1080.1,269.8 L1080.6,269.2 L1081.1,268.6 L1081.6,267.8 L1082.1,267.0 L1082.6,266.1 L1083.1,265.2 L1083.6,264.3 L1084.1,263.3 L1084.6,262.4 L1085.1,261.4 L1085.6,260.5 L1086.1,259.6 L1086.6,258.8 L1087.1,258.0 L1087.6,257.3 L1088.1,256.6 L1088.6,256.1 L1088.9,255.8 L1089.1,255.6 L1089.6,255.2 L1090.1,254.7 L1090.6,254.3 L1091.1,253.9 L1091.6,253.6 L1092.1,253.4 L1092.6,253.3 L1093.1,253.4 L1093.6,253.7 L1094.1,254.2 L1094.6,254.9 L1095.1,255.6 L1095.6,256.4 L1096.1,257.2 L1096.6,258.1 L1097.1,258.8 L1097.5,259.4 L1097.6,259.5 L1098.1,260.2 L1098.6,261.0 L1099.1,261.7 L1099.6,262.5 L1100.1,263.3 L1100.6,264.1 L1101.1,264.9 L1101.6,265.6 L1102.1,266.3 L1102.6,267.0 L1103.1,267.5 L1103.6,268.0 L1104.1,268.4 L1104.6,268.9 L1105.1,269.3 L1105.6,269.7 L1106.1,270.1 L1106.6,270.5 L1107.1,270.8 L1107.6,271.1 L1108.1,271.4 L1108.6,271.6 L1109.1,271.8 L1109.6,271.9 L1110.0,272.0 L1110.1,272.0 L1110.6,272.1 L1111.1,272.1 L1111.6,272.2 L1112.1,272.2 L1112.6,272.3 L1113.1,272.3 L1113.6,272.4 L1114.1,272.4 L1114.6,272.5 L1115.1,272.5 L1115.6,272.5 L1116.1,272.6 L1116.6,272.6 L1117.1,272.6 L1117.6,272.7 L1118.1,272.7 L1118.6,272.7 L1119.1,272.8 L1119.6,272.8 L1120.1,272.8 L1120.6,272.8 L1121.1,272.8 L1121.6,272.8 L1122.1,272.9 L1122.6,272.9 L1123.1,272.9 L1123.6,272.9 L1124.1,272.9 L1124.6,272.9 L1125.1,272.9 L1125.6,272.9 L1126.1,272.9 L1126.6,272.7 L1127.1,272.5 L1127.6,272.2 L1128.1,271.9 L1128.6,271.5 L1129.1,271.2 L1129.6,270.8 L1130.1,270.4 L1130.6,270.1 L1131.1,269.8 L1131.6,269.5 L1132.1,269.3 L1132.6,269.2 L1132.9,269.2 L1133.1,269.2 L1133.6,269.2 L1134.1,269.3 L1134.6,269.4 L1135.1,269.6 L1135.6,269.7 L1136.1,269.9 L1136.6,270.1 L1137.1,270.3 L1137.6,270.4 L1137.8,270.5 L1138.1,270.6 L1138.6,270.8 L1139.1,271.0 L1139.6,271.3 L1140.1,271.5 L1140.6,271.7 L1141.1,272.0 L1141.6,272.1 L1142.1,272.2 L1142.6,272.3 L1142.7,272.3 L1143.1,272.3 L1143.6,272.3 L1144.1,272.3 L1144.6,272.2 L1145.1,272.2 L1145.6,272.1 L1146.1,272.1 L1146.6,272.0 L1147.1,272.0 L1147.6,271.9 L1148.1,271.8 L1148.6,271.7 L1149.1,271.6 L1149.6,271.5 L1150.1,271.4 L1150.6,271.3 L1151.1,271.2 L1151.6,271.1 L1152.0,271.0 L1152.1,271.0 L1152.6,270.8 L1153.1,270.6 L1153.6,270.4 L1154.1,270.1 L1154.6,269.8 L1155.1,269.4 L1155.6,269.0 L1156.1,268.6 L1156.6,268.1 L1157.1,267.6 L1157.6,267.1 L1158.1,266.6 L1158.6,266.0 L1159.1,265.5 L1159.6,264.9 L1160.1,264.3 L1160.6,263.7 L1161.1,263.1 L1161.6,262.5 L1162.0,262.0 L1162.1,261.9 L1162.6,261.2 L1163.1,260.4 L1163.6,259.6 L1164.1,258.8 L1164.6,257.9 L1165.1,256.9 L1165.6,256.0 L1166.1,255.1 L1166.6,254.2 L1167.1,253.3 L1167.6,252.4 L1168.1,251.6 L1168.6,250.7 L1169.1,249.8 L1169.6,248.9 L1170.1,248.0 L1170.6,247.1 L1171.1,246.3 L1171.6,245.4 L1172.1,244.6 L1172.6,243.8 L1173.1,243.0 L1173.6,242.3 L1174.1,241.6 L1174.5,241.1 L1174.6,241.0 L1175.1,240.3 L1175.6,239.7 L1176.1,239.0 L1176.6,238.3 L1177.1,237.7 L1177.6,237.2 L1178.1,236.7 L1178.6,236.4 L1179.1,236.2 L1179.4,236.2 L1179.6,236.2 L1180.1,236.5 L1180.6,237.1 L1181.1,237.9 L1181.6,238.8 L1182.1,239.9 L1182.6,241.1 L1183.1,242.2 L1183.6,243.4 L1184.1,244.4 L1184.3,244.8 L1184.6,245.4 L1185.1,246.4 L1185.6,247.4 L1186.1,248.5 L1186.6,249.5 L1187.1,250.6 L1187.6,251.7 L1188.1,252.8 L1188.6,253.8 L1189.1,254.8 L1189.6,255.7 L1190.1,256.5 L1190.4,257.0 L1190.6,257.3 L1191.1,258.0 L1191.6,258.7 L1192.1,259.4 L1192.6,260.1 L1193.1,260.7 L1193.6,261.3 L1194.1,261.9 L1194.6,262.5 L1195.1,263.0 L1195.6,263.6 L1196.1,264.1 L1196.6,264.6 L1197.0,265.0 L1197.1,265.1 L1197.6,265.6 L1198.1,266.1 L1198.6,266.6 L1199.1,267.1 L1199.6,267.5 L1200.1,268.0 L1200.6,268.4 L1201.1,268.8 L1201.6,269.2 L1202.1,269.6 L1202.6,269.9 L1203.1,270.2 L1203.6,270.4 L1203.8,270.5 L1204.1,270.6 L1204.6,270.8 L1205.1,271.0 L1205.6,271.2 L1206.1,271.3 L1206.6,271.5 L1207.1,271.6 L1207.6,271.8 L1208.1,271.9 L1208.6,272.0 L1209.1,272.1 L1209.6,272.2 L1210.1,272.3 L1210.6,272.3 L1211.1,272.3 L1211.6,272.3 L1212.1,272.3 L1212.6,272.3 L1213.1,272.2 L1213.6,272.2 L1214.1,272.2 L1214.6,272.1 L1215.1,272.0 L1215.6,272.0 L1216.1,271.9 L1216.6,271.8 L1217.1,271.7 L1217.3,271.7 L1217.6,271.6 L1218.1,271.1 L1218.6,270.3 L1219.1,269.3 L1219.6,268.2 L1220.1,266.9 L1220.6,265.6 L1221.1,264.3 L1221.6,263.1 L1222.1,262.1 L1222.2,261.9 L1222.6,261.1 L1223.1,260.0 L1223.6,258.9 L1224.1,257.8 L1224.6,256.9 L1225.1,256.2 L1225.6,255.8 L1225.8,255.8 L1226.1,255.8 L1226.6,255.9 L1227.1,256.2 L1227.6,256.5 L1228.1,256.8 L1228.6,257.2 L1229.1,257.7 L1229.6,258.2 L1230.1,258.8 L1230.6,259.3 L1230.7,259.4 L1231.1,259.9 L1231.6,260.8 L1232.1,261.8 L1232.6,263.0 L1233.1,264.2 L1233.6,265.4 L1234.1,266.6 L1234.6,267.6 L1235.1,268.5 L1235.6,269.2 L1236.1,269.7 L1236.6,270.3 L1237.1,270.8 L1237.6,271.3 L1238.1,271.7 L1238.6,272.0 L1239.1,272.3 L1239.6,272.5 L1240.0,272.5 L1240.1,272.5 L1240.6,272.4 L1241.1,272.2 L1241.6,271.9 L1242.1,271.6 L1242.6,271.1 L1243.1,270.6 L1243.6,270.1 L1244.1,269.5 L1244.6,268.9 L1245.1,268.3 L1245.6,267.6 L1246.1,267.0 L1246.6,266.4 L1247.1,265.8 L1247.3,265.6 L1247.6,265.3 L1248.1,264.6 L1248.6,263.9 L1249.1,263.1 L1249.6,262.3 L1250.1,261.5 L1250.6,260.6 L1251.1,259.8 L1251.6,258.9 L1252.1,258.1 L1252.6,257.4 L1253.1,256.7 L1253.6,256.1 L1254.1,255.5 L1254.6,255.1 L1255.1,254.8 L1255.6,254.6 L1255.9,254.6 L1256.1,254.6 L1256.6,254.7 L1257.1,254.8 L1257.6,255.0 L1258.1,255.2 L1258.6,255.5 L1259.1,255.8 L1259.6,256.1 L1260.1,256.5 L1260.6,256.8 L1261.1,257.2 L1261.6,257.6 L1262.1,258.0 L1262.6,258.3 L1263.1,258.7 L1263.6,259.0 L1264.1,259.3 L1264.4,259.4 L1264.6,259.5 L1265.1,259.7 L1265.6,259.9 L1266.1,260.1 L1266.6,260.3 L1267.1,260.4 L1267.6,260.6 L1268.1,260.8 L1268.6,261.0 L1269.1,261.2 L1269.6,261.4 L1270.1,261.6 L1270.6,261.9 L1271.1,262.2 L1271.6,262.6 L1272.1,263.1 L1272.6,263.6 L1273.1,264.2 L1273.6,264.8 L1274.1,265.3 L1274.6,265.9 L1275.1,266.5 L1275.6,267.0 L1276.1,267.5 L1276.6,267.9 L1276.7,268.0 L1277.1,268.3 L1277.6,268.7 L1278.1,269.1 L1278.6,269.5 L1279.1,269.9 L1279.6,270.3 L1280.1,270.7 L1280.6,271.0 L1281.1,271.3 L1281.6,271.6 L1282.1,271.9 L1282.6,272.0 L1283.1,272.2 L1283.6,272.3 L1284.0,272.3 L1284.1,272.3 L1284.6,272.2 L1285.1,272.1 L1285.6,271.9 L1286.1,271.6 L1286.6,271.3 L1287.1,270.9 L1287.6,270.5 L1288.1,270.0 L1288.6,269.5 L1288.9,269.2 L1289.1,269.0 L1289.6,268.2 L1290.1,267.1 L1290.6,265.8 L1291.1,264.4 L1291.6,262.8 L1292.1,261.1 L1292.6,259.4 L1293.1,257.5 L1293.6,255.3 L1294.1,252.8 L1294.6,250.1 L1295.1,247.4 L1295.6,244.5 L1296.1,241.7 L1296.2,241.1 L1296.6,238.7 L1297.1,235.4 L1297.6,231.9 L1298.1,228.3 L1298.6,224.6 L1299.1,221.0 L1299.6,217.6 L1300.1,214.4 L1300.6,211.7 L1301.1,209.4 L1301.6,207.4 L1302.1,205.3 L1302.6,203.3 L1303.1,201.5 L1303.6,200.1 L1304.1,199.0 L1304.6,198.5 L1304.8,198.4 L1305.1,198.5 L1305.6,198.9 L1306.1,199.6 L1306.6,200.5 L1307.1,201.7 L1307.6,203.0 L1308.1,204.5 L1308.6,206.0 L1309.1,207.6 L1309.6,209.1 L1309.7,209.4 L1310.1,210.7 L1310.6,212.7 L1311.1,214.9 L1311.6,217.4 L1312.1,220.0 L1312.6,222.7 L1313.1,225.4 L1313.6,228.1 L1314.1,230.5 L1314.6,232.8 L1315.1,234.8 L1315.6,236.5 L1315.8,237.0 L1316.1,237.8 L1316.6,239.0 L1317.1,240.3 L1317.6,241.5 L1318.1,242.7 L1318.6,243.8 L1319.1,245.0 L1319.6,246.0 L1320.1,247.1 L1320.6,248.1 L1321.1,249.0 L1321.6,249.8 L1322.1,250.6 L1322.6,251.3 L1323.1,251.9 L1323.6,252.4 L1324.1,252.8 L1324.6,253.1 L1325.1,253.2 L1325.6,253.3 L1326.1,253.3 L1326.6,253.2 L1327.1,253.1 L1327.6,252.9 L1328.1,252.6 L1328.6,252.4 L1329.1,252.0 L1329.6,251.7 L1330.1,251.3 L1330.6,250.8 L1331.1,250.3 L1331.6,249.8 L1331.7,249.7 L1332.1,249.1 L1332.6,247.9 L1333.1,246.4 L1333.6,244.4 L1334.1,242.1 L1334.6,239.6 L1335.1,236.8 L1335.4,235.0 L1335.6,233.6 L1336.1,228.7 L1336.6,222.6 L1337.1,216.3 L1337.6,211.0 L1337.8,209.4 L1338.1,207.5 L1338.6,205.0 L1339.1,202.6 L1339.5,200.0 L1339.6,199.2 L1340.1,194.2 L1340.6,187.8 L1341.1,180.1 L1341.6,171.4 L1342.1,161.9 L1342.6,151.8 L1343.1,141.3 L1343.6,130.7 L1344.1,120.1 L1344.6,109.8 L1345.1,100.0 L1345.6,90.3 L1346.1,80.4 L1346.6,70.2 L1347.1,60.0 L1347.2,58.0 L1347.6,49.8 L1348.1,39.4 L1348.3,35.2 L1348.8,32.1 L1349.3,29.0 L1349.8,25.9 L1350.3,22.8 L1350.8,19.7 L1350.9,19.1 L1351.4,18.6 L1351.9,18.1 L1352.4,17.6 L1352.9,17.1 L1353.4,16.6 L1353.5,16.5 L1354.0,16.6 L1354.5,16.7 L1355.0,16.8 L1355.4,16.9 L1355.9,23.4 L1356.4,30.2 L1356.9,37.2 L1357.4,44.4 L1357.9,51.9 L1358.3,58.0 L1358.4,59.5 L1358.9,67.5 L1359.4,75.9 L1359.9,84.4 L1360.4,93.1 L1360.8,100.0 L1360.9,101.7 L1361.4,111.0 L1361.9,120.9 L1362.4,131.2 L1362.9,141.7 L1363.4,152.2 L1363.9,162.3 L1364.4,172.0 L1364.9,180.8 L1365.4,188.5 L1365.9,195.0 L1366.4,200.0 L1366.9,203.8 L1367.4,207.1 L1367.9,210.0 L1368.4,212.6 L1368.9,214.9 L1369.4,217.1 L1369.9,219.2 L1370.4,221.4 L1370.9,223.8 L1371.4,226.4 L1371.9,229.4 L1372.0,230.0 L1372.4,232.9 L1372.9,237.0 L1373.4,241.6 L1373.9,246.2 L1374.4,250.7 L1374.9,254.7 L1375.4,257.9 L1375.7,259.4 L1375.9,260.2 L1376.4,262.3 L1376.9,264.3 L1377.4,266.2 L1377.9,267.9 L1378.4,269.5 L1378.9,270.8 L1379.4,271.8 L1379.9,272.5 L1380.4,272.9 L1380.6,272.9 L1380.9,272.9 L1381.4,272.9 L1381.9,272.8 L1382.4,272.7 L1382.9,272.6 L1383.4,272.5 L1383.9,272.4 L1384.4,272.2 L1384.9,272.0 L1385.4,271.7 L1385.5,271.7 L1385.9,271.2 L1386.4,269.6 L1386.9,267.3 L1387.4,264.4 L1387.9,261.2 L1388.4,257.8 L1388.9,254.5 L1389.1,253.3 L1389.4,251.4 L1389.9,247.9 L1390.4,244.2 L1390.9,240.4 L1391.4,236.5 L1391.6,235.0 L1391.9,232.7 L1392.4,228.6 L1392.9,224.5 L1393.4,220.6 L1393.9,216.9 L1394.2,215.0 L1394.4,213.8 L1394.9,211.0 L1395.4,208.5 L1395.9,206.1 L1396.4,203.9 L1396.5,203.5 L1396.9,201.9 L1397.4,199.9 L1397.9,198.1 L1398.4,196.5 L1398.8,195.3 L1399.3,194.8 L1399.8,194.4 L1400.3,193.9 L1400.8,193.4 L1401.3,193.0 L1401.8,192.5 L1402.3,192.1 L1402.8,191.6 L1403.3,191.1 L1403.8,190.7 L1404.3,190.2 L1404.8,191.4 L1405.3,192.7 L1405.8,194.1 L1406.3,195.6 L1406.8,197.2 L1407.2,198.5 L1407.3,198.8 L1407.8,200.6 L1408.3,202.5 L1408.8,204.5 L1409.3,206.7 L1409.8,209.0 L1409.9,209.5 L1410.3,211.6 L1410.8,214.5 L1411.3,217.6 L1411.8,220.8 L1412.3,223.8 L1412.5,225.0 L1412.8,226.7 L1413.3,229.4 L1413.8,232.0 L1414.3,234.6 L1414.8,237.3 L1415.3,240.0 L1415.8,243.1 L1416.3,246.5 L1416.8,250.3 L1417.3,254.2 L1417.8,258.1 L1418.3,261.8 L1418.8,265.2 L1419.3,268.2 L1419.8,270.6 L1420.3,272.2 L1420.8,272.9 L1420.9,272.9 L1421.3,272.9 L1421.8,272.9 L1422.3,272.9 L1422.8,272.9 L1423.3,272.9 L1423.8,272.9 L1424.3,272.9 L1424.8,272.9 L1425.3,272.9 L1425.8,272.9 L1426.3,272.5 L1426.8,271.3 L1427.3,269.5 L1427.8,267.4 L1428.3,265.0 L1428.8,262.6 L1429.3,260.3 L1429.5,259.4 L1429.8,258.1 L1430.3,255.7 L1430.8,253.0 L1431.3,250.3 L1431.8,247.7 L1432.3,245.1 L1432.8,242.9 L1433.3,241.0 L1433.8,239.3 L1434.3,237.6 L1434.8,236.0 L1435.3,234.3 L1435.8,232.7 L1436.3,231.2 L1436.8,229.8 L1437.3,228.6 L1437.8,227.4 L1438.3,226.5 L1438.8,225.8 L1439.3,225.3 L1439.8,225.0 L1440.0,225.0 L1440.3,225.1 L1440.8,225.5 L1441.3,226.2 L1441.8,227.2 L1442.3,228.5 L1442.8,229.9 L1443.3,231.6 L1443.8,233.3 L1444.3,235.2 L1444.8,237.1 L1445.3,239.0 L1445.8,240.9 L1446.3,242.7 L1446.8,244.4 L1447.0,245.0 L1447.3,246.0 L1447.8,247.7 L1448.3,249.6 L1448.8,251.5 L1449.3,253.4 L1449.8,255.3 L1450.3,257.1 L1450.8,258.8 L1451.3,260.3 L1451.8,261.6 L1452.0,262.0 L1452.3,262.6 L1452.8,263.6 L1453.3,264.7 L1453.8,265.7 L1454.3,266.6 L1454.8,267.5 L1455.3,268.4 L1455.8,269.2 L1456.3,269.8 L1456.8,270.4 L1457.3,270.9 L1457.8,271.2 L1458.3,271.4 L1458.7,271.5 L1458.8,271.5 L1459.3,271.5 L1459.8,271.5 L1460.3,271.5 L1460.8,271.5 L1461.3,271.5 L1461.8,271.5 L1462.3,271.5 L1462.8,271.5 L1463.3,271.5 L1463.8,271.5 L1464.3,271.5 L1464.8,271.5 L1465.3,271.5 L1465.8,271.5 L1466.3,271.5 L1466.8,271.5 L1467.3,271.5 L1467.8,271.5 L1468.3,271.5 L1468.5,271.5 L1468.8,271.4 L1469.3,271.0 L1469.8,270.3 L1470.3,269.3 L1470.8,268.1 L1471.3,266.8 L1471.8,265.4 L1472.3,264.0 L1472.4,263.7 L1472.8,262.4 L1473.3,260.4 L1473.8,258.0 L1474.3,255.2 L1474.8,252.3 L1475.3,249.3 L1475.8,246.3 L1476.3,243.3 L1476.8,240.6 L1477.3,238.1 L1477.8,236.0 L1478.3,234.4 L1478.8,233.0 L1479.3,231.7 L1479.8,230.4 L1480.3,229.1 L1480.8,227.8 L1481.3,226.6 L1481.8,225.5 L1482.3,224.4 L1482.8,223.4 L1483.3,222.4 L1483.8,221.6 L1484.3,220.8 L1484.8,220.2 L1485.3,219.6 L1485.8,219.2 L1486.3,218.9 L1486.8,218.7 L1487.1,218.7 L1487.3,218.7 L1487.8,218.9 L1488.3,219.3 L1488.8,219.8 L1489.3,220.5 L1489.8,221.4 L1490.3,222.3 L1490.8,223.4 L1491.3,224.6 L1491.8,225.9 L1492.3,227.2 L1492.8,228.6 L1493.3,230.0 L1493.8,231.5 L1494.3,232.9 L1494.8,234.4 L1495.3,236.0 L1495.8,238.0 L1496.3,240.3 L1496.8,242.8 L1497.3,245.4 L1497.8,248.1 L1498.3,250.7 L1498.8,253.3 L1499.3,255.7 L1499.8,257.9 L1500.3,259.8 L1500.8,261.6 L1501.3,263.4 L1501.8,265.2 L1502.3,266.9 L1502.8,268.5 L1503.3,269.8 L1503.8,270.8 L1504.3,271.4 L1504.5,271.5 L1504.8,271.6 L1505.3,271.8 L1505.8,272.0 L1506.3,272.1 L1506.8,272.3 L1507.3,272.4 L1507.8,272.5 L1508.3,272.6 L1508.8,272.7 L1509.3,272.8 L1509.8,272.9 L1510.3,272.9 L1510.8,273.0 L1511.3,273.0 L1511.8,273.0 L1512.0,273.0 L1512.3,273.0 L1512.8,272.8 L1513.3,272.4 L1513.8,271.9 L1514.3,271.2 L1514.8,270.5 L1515.3,269.7 L1515.8,268.8 L1516.3,267.9 L1516.8,267.0 L1517.3,266.1 L1517.8,265.3 L1518.0,265.0 L1518.3,264.5 L1518.8,263.6 L1519.3,262.6 L1519.8,261.5 L1520.3,260.4 L1520.8,259.1 L1521.3,257.9 L1521.8,256.6 L1522.3,255.3 L1522.8,254.0 L1523.3,252.7 L1523.8,251.4 L1524.3,250.2 L1524.8,249.0 L1525.3,247.9 L1525.8,246.9 L1526.3,246.0 L1526.8,245.1 L1527.3,244.5 L1527.8,243.9 L1528.3,243.5 L1528.8,243.3 L1529.2,243.2 L1529.3,243.2 L1529.8,243.2 L1530.3,243.3 L1530.8,243.5 L1531.3,243.7 L1531.8,243.9 L1532.3,244.2 L1532.8,244.5 L1533.3,244.9 L1533.8,245.2 L1534.3,245.6 L1534.8,246.1 L1535.3,246.5 L1535.8,247.0 L1536.3,247.4 L1536.8,247.9 L1537.0,248.1 L1537.3,248.4 L1537.8,249.1 L1538.3,249.9 L1538.8,250.8 L1539.3,251.8 L1539.8,252.9 L1540.3,254.0 L1540.8,255.2 L1541.3,256.4 L1541.8,257.6 L1542.3,258.8 L1542.8,259.9 L1543.3,261.0 L1543.8,262.0 L1544.3,262.9 L1544.8,263.7 L1545.3,264.4 L1545.8,265.2 L1546.3,265.9 L1546.8,266.7 L1547.3,267.4 L1547.8,268.1 L1548.3,268.8 L1548.8,269.5 L1549.3,270.1 L1549.8,270.7 L1550.3,271.2 L1550.8,271.6 L1551.3,272.0 L1551.8,272.2 L1552.3,272.4 L1552.6,272.5 L1552.8,272.5 L1553.3,272.6 L1553.8,272.7 L1554.3,272.7 L1554.8,272.8 L1555.3,272.9 L1555.8,272.9 L1556.3,273.0 L1556.8,273.0 L1557.3,273.1 L1557.8,273.1 L1558.3,273.2 L1558.8,273.2 L1559.3,273.3 L1559.8,273.3 L1560.3,273.3 L1560.8,273.4 L1561.3,273.4 L1561.8,273.4 L1562.3,273.4 L1562.8,273.4 L1563.3,273.5 L1563.8,273.5 L1564.3,273.5 L1564.8,273.5 L1565.3,273.5 L1565.8,273.5 L1565.9,273.5" stroke="#D95319"/>
<path d="M1054.1,265.6 L1054.6,265.8 L1055.1,266.0 L1055.6,266.2 L1056.1,266.4 L1056.6,266.6 L1057.1,266.8 L1057.6,267.0 L1058.1,267.2 L1058.6,267.4 L1059.1,267.6 L1059.6,267.8 L1060.0,268.0 L1060.1,268.0 L1060.6,268.3 L1061.1,268.5 L1061.6,268.7 L1062.1,269.0 L1062.6,269.2 L1063.1,269.5 L1063.6,269.8 L1064.1,270.0 L1064.6,270.3 L1065.1,270.6 L1065.6,270.8 L1066.1,271.0 L1066.6,271.2 L1067.1,271.4 L1067.6,271.6 L1068.1,271.7 L1068.6,271.9 L1069.1,271.9 L1069.6,272.0 L1070.0,272.0 L1070.1,272.0 L1070.6,272.0 L1071.1,271.9 L1071.6,271.8 L1072.1,271.7 L1072.6,271.6 L1073.1,271.4 L1073.6,271.3 L1074.1,271.1 L1074.6,270.8 L1075.1,270.6 L1075.6,270.4 L1076.1,270.1 L1076.6,269.9 L1077.1,269.6 L1077.6,269.3 L1078.1,269.0 L1078.6,268.8 L1079.1,268.5 L1079.6,268.2 L1080.0,268.0 L1080.1,267.9 L1080.6,267.7 L1081.1,267.3 L1081.6,267.0 L1082.1,266.6 L1082.6,266.2 L1083.1,265.8 L1083.6,265.4 L1084.1,265.0 L1084.6,264.6 L1085.1,264.2 L1085.6,263.8 L1086.1,263.4 L1086.5,263.1 L1086.6,263.0 L1087.1,262.7 L1087.6,262.2 L1088.1,261.8 L1088.6,261.4 L1089.1,261.0 L1089.6,260.6 L1090.1,260.2 L1090.6,259.9 L1091.1,259.7 L1091.6,259.6 L1092.0,259.5 L1092.1,259.5 L1092.6,259.5 L1093.1,259.5 L1093.6,259.4 L1094.1,259.4 L1094.6,259.4 L1095.1,259.4 L1095.6,259.4 L1096.1,259.4 L1096.2,259.4 L1096.6,259.4 L1097.1,259.6 L1097.6,259.8 L1098.1,260.2 L1098.6,260.6 L1099.1,261.0 L1099.6,261.5 L1100.1,262.1 L1100.6,262.6 L1101.1,263.1 L1101.6,263.7 L1102.1,264.4 L1102.6,265.3 L1103.1,266.2 L1103.6,267.2 L1104.1,268.1 L1104.6,268.9 L1105.1,269.6 L1105.6,270.2 L1106.0,270.5 L1106.1,270.6 L1106.6,270.8 L1107.1,271.1 L1107.6,271.3 L1108.1,271.6 L1108.6,271.8 L1109.1,272.0 L1109.6,272.1 L1110.1,272.3 L1110.6,272.4 L1111.1,272.4 L1111.6,272.5 L1112.0,272.5 L1112.1,272.5 L1112.6,272.5 L1113.1,272.5 L1113.6,272.4 L1114.1,272.3 L1114.6,272.3 L1115.1,272.2 L1115.6,272.1 L1116.1,271.9 L1116.6,271.8 L1117.1,271.7 L1117.6,271.5 L1118.1,271.4 L1118.6,271.2 L1119.1,271.0 L1119.6,270.9 L1120.1,270.7 L1120.6,270.5 L1121.1,270.3 L1121.6,270.1 L1122.0,270.0 L1122.1,270.0 L1122.6,269.8 L1123.1,269.5 L1123.6,269.3 L1124.1,269.0 L1124.6,268.7 L1125.1,268.4 L1125.6,268.0 L1126.1,267.7 L1126.6,267.3 L1127.1,266.9 L1127.6,266.6 L1128.1,266.2 L1128.6,265.8 L1129.1,265.4 L1129.6,265.1 L1130.1,264.7 L1130.6,264.4 L1131.1,264.1 L1131.6,263.8 L1132.1,263.5 L1132.6,263.2 L1132.9,263.1 L1133.1,263.0 L1133.6,262.8 L1134.1,262.5 L1134.6,262.3 L1135.1,262.0 L1135.6,261.8 L1136.1,261.6 L1136.6,261.5 L1137.1,261.4 L1137.6,261.3 L1137.8,261.3 L1138.1,261.3 L1138.6,261.4 L1139.1,261.6 L1139.6,261.9 L1140.1,262.2 L1140.6,262.5 L1141.1,262.9 L1141.6,263.3 L1142.1,263.8 L1142.6,264.2 L1142.7,264.3 L1143.1,264.7 L1143.6,265.4 L1144.1,266.2 L1144.6,267.1 L1145.1,268.0 L1145.6,268.9 L1146.1,269.8 L1146.6,270.6 L1147.1,271.2 L1147.6,271.7 L1148.1,272.1 L1148.6,272.4 L1149.1,272.8 L1149.6,273.0 L1150.1,273.3 L1150.6,273.4 L1151.1,273.5 L1151.2,273.5 L1151.6,273.5 L1152.1,273.5 L1152.6,273.5 L1153.1,273.4 L1153.6,273.4 L1154.1,273.4 L1154.6,273.3 L1155.1,273.3 L1155.6,273.2 L1156.1,273.1 L1156.6,273.1 L1157.0,273.0 L1157.1,273.0 L1157.6,272.7 L1158.1,272.1 L1158.6,271.3 L1159.1,270.2 L1159.6,269.0 L1160.1,267.7 L1160.6,266.4 L1161.1,264.9 L1161.6,263.5 L1162.1,262.2 L1162.2,261.9 L1162.6,260.7 L1163.1,259.1 L1163.6,257.2 L1164.1,255.3 L1164.6,253.5 L1165.1,251.8 L1165.6,250.4 L1165.9,249.7 L1166.1,249.3 L1166.6,248.3 L1167.1,247.3 L1167.6,246.4 L1168.1,245.5 L1168.6,244.7 L1169.1,243.9 L1169.6,243.2 L1170.1,242.6 L1170.6,242.1 L1171.1,241.6 L1171.6,241.3 L1172.0,241.1 L1172.1,241.1 L1172.6,240.9 L1173.1,240.7 L1173.6,240.6 L1174.1,240.4 L1174.6,240.3 L1175.1,240.2 L1175.6,240.1 L1176.1,240.0 L1176.6,239.9 L1177.1,239.8 L1177.6,239.8 L1178.1,239.8 L1178.6,239.8 L1179.1,240.0 L1179.6,240.1 L1180.1,240.4 L1180.6,240.6 L1181.1,240.9 L1181.6,241.3 L1182.1,241.6 L1182.6,242.0 L1183.0,242.3 L1183.1,242.4 L1183.6,242.8 L1184.1,243.3 L1184.6,244.0 L1185.1,244.6 L1185.6,245.4 L1186.1,246.2 L1186.6,247.0 L1187.1,247.8 L1187.6,248.7 L1188.1,249.6 L1188.6,250.4 L1189.1,251.3 L1189.6,252.1 L1190.1,252.9 L1190.4,253.3 L1190.6,253.6 L1191.1,254.4 L1191.6,255.2 L1192.1,256.0 L1192.6,256.9 L1193.1,257.7 L1193.6,258.5 L1194.1,259.3 L1194.6,260.0 L1195.1,260.7 L1195.6,261.2 L1196.1,261.6 L1196.5,261.9 L1196.6,262.0 L1197.1,262.2 L1197.6,262.5 L1198.1,262.7 L1198.6,262.9 L1199.1,263.0 L1199.5,263.0 L1199.6,263.0 L1200.1,262.6 L1200.6,261.9 L1201.1,260.7 L1201.6,259.2 L1202.1,257.5 L1202.6,255.6 L1203.1,253.6 L1203.6,251.6 L1204.0,250.0 L1204.1,249.6 L1204.6,247.1 L1205.1,244.0 L1205.6,240.4 L1206.1,236.5 L1206.6,232.2 L1207.1,227.8 L1207.6,223.3 L1208.1,218.9 L1208.6,214.7 L1209.1,210.7 L1209.6,207.1 L1210.1,204.0 L1210.6,201.5 L1211.1,199.7 L1211.6,198.3 L1212.1,197.0 L1212.6,195.7 L1213.1,194.5 L1213.6,193.3 L1214.1,192.2 L1214.6,191.1 L1215.1,190.1 L1215.6,189.3 L1216.1,188.5 L1216.6,187.8 L1217.1,187.2 L1217.6,186.7 L1218.1,186.3 L1218.6,186.1 L1219.1,186.0 L1219.2,186.0 L1219.6,186.1 L1220.1,186.3 L1220.6,186.7 L1221.1,187.2 L1221.6,187.9 L1222.1,188.6 L1222.6,189.6 L1223.1,190.6 L1223.6,191.7 L1224.1,192.9 L1224.6,194.1 L1225.1,195.4 L1225.6,196.8 L1226.1,198.2 L1226.6,199.6 L1227.1,201.1 L1227.6,202.6 L1228.1,204.0 L1228.3,204.6 L1228.6,205.5 L1229.1,207.4 L1229.6,209.5 L1230.1,211.9 L1230.6,214.5 L1231.1,217.2 L1231.6,220.0 L1232.1,222.9 L1232.6,225.7 L1233.1,228.4 L1233.6,231.0 L1234.1,233.4 L1234.6,235.5 L1235.1,237.3 L1235.6,238.8 L1236.1,240.0 L1236.6,241.2 L1237.1,242.2 L1237.6,243.2 L1238.1,244.1 L1238.6,244.9 L1239.1,245.5 L1239.5,246.0 L1239.6,246.1 L1240.1,246.6 L1240.6,247.2 L1241.1,247.7 L1241.6,248.1 L1242.1,248.5 L1242.6,248.8 L1243.1,249.0 L1243.5,249.0 L1243.6,249.0 L1244.1,248.8 L1244.6,248.5 L1245.1,248.0 L1245.6,247.4 L1246.1,246.6 L1246.5,246.0 L1246.6,245.8 L1247.1,244.6 L1247.6,242.8 L1248.1,240.7 L1248.6,238.2 L1249.1,235.5 L1249.2,235.0 L1249.6,232.5 L1250.1,228.6 L1250.6,224.1 L1251.1,219.4 L1251.6,214.7 L1252.1,210.2 L1252.2,209.4 L1252.6,206.3 L1253.1,202.6 L1253.6,199.0 L1254.1,195.4 L1254.6,191.4 L1255.1,187.0 L1255.3,185.0 L1255.6,181.8 L1256.1,176.1 L1256.6,169.7 L1257.1,162.8 L1257.6,155.4 L1258.1,147.6 L1258.6,139.4 L1259.1,130.9 L1259.6,122.0 L1260.1,113.0 L1260.6,103.7 L1260.8,100.0 L1261.1,93.8 L1261.6,81.7 L1262.1,69.5 L1262.6,59.5 L1262.7,58.0 L1263.1,52.3 L1263.6,45.4 L1264.1,38.9 L1264.6,33.0 L1265.1,27.9 L1265.6,23.7 L1266.1,20.6 L1266.6,18.8 L1266.7,18.6 L1267.2,18.2 L1267.7,17.7 L1268.2,17.3 L1268.5,17.0 L1269.0,17.5 L1269.5,18.0 L1270.0,18.6 L1270.5,19.1 L1270.6,19.2 L1271.1,20.1 L1271.6,22.5 L1272.1,26.0 L1272.6,30.6 L1273.1,36.0 L1273.6,42.0 L1274.1,48.5 L1274.6,55.3 L1274.8,58.0 L1275.1,63.2 L1275.6,75.0 L1276.1,87.8 L1276.6,98.4 L1276.7,100.0 L1277.1,105.5 L1277.6,111.8 L1278.1,117.6 L1278.6,122.8 L1279.1,127.6 L1279.6,132.0 L1280.1,136.2 L1280.6,140.1 L1281.1,144.0 L1281.6,147.8 L1282.1,151.7 L1282.6,155.7 L1283.1,159.9 L1283.6,164.3 L1284.1,169.1 L1284.5,173.3 L1284.6,174.4 L1285.1,181.2 L1285.6,188.5 L1286.1,194.5 L1286.5,197.2 L1286.6,197.5 L1287.1,199.1 L1287.6,200.6 L1288.1,201.8 L1288.6,203.0 L1289.1,204.0 L1289.6,204.9 L1290.1,205.6 L1290.6,206.3 L1291.1,206.9 L1291.6,207.5 L1292.1,208.0 L1292.6,208.4 L1293.1,208.8 L1293.6,209.2 L1293.8,209.4 L1294.1,209.6 L1294.6,210.0 L1295.1,210.4 L1295.6,210.8 L1296.1,211.1 L1296.6,211.4 L1297.1,211.8 L1297.6,212.0 L1298.1,212.3 L1298.6,212.5 L1299.1,212.7 L1299.6,212.9 L1300.1,213.0 L1300.6,213.1 L1301.1,213.1 L1301.6,213.0 L1302.1,212.7 L1302.6,212.2 L1303.1,211.6 L1303.6,210.8 L1304.1,210.0 L1304.6,209.1 L1305.1,208.2 L1305.6,207.3 L1306.1,206.4 L1306.6,205.6 L1307.0,205.0 L1307.1,204.9 L1307.6,204.1 L1308.1,203.4 L1308.6,202.6 L1309.1,201.8 L1309.6,201.0 L1310.1,200.3 L1310.6,199.5 L1311.1,198.8 L1311.6,198.1 L1312.1,197.4 L1312.6,196.8 L1313.1,196.2 L1313.3,196.0 L1313.6,195.7 L1314.1,195.1 L1314.6,194.7 L1315.1,194.5 L1315.6,194.7 L1316.1,195.3 L1316.6,196.3 L1317.1,197.5 L1317.6,199.0 L1318.1,200.6 L1318.6,202.4 L1319.1,204.1 L1319.6,205.9 L1320.1,207.6 L1320.6,209.1 L1320.7,209.4 L1321.1,210.6 L1321.6,212.1 L1322.1,213.8 L1322.6,215.5 L1323.1,217.3 L1323.6,219.0 L1324.1,220.8 L1324.6,222.5 L1325.1,224.2 L1325.6,225.8 L1326.1,227.3 L1326.6,228.6 L1327.1,229.8 L1327.6,230.8 L1328.0,231.5 L1328.1,231.6 L1328.6,232.4 L1329.1,233.1 L1329.6,233.8 L1330.1,234.5 L1330.6,235.1 L1331.1,235.7 L1331.6,236.3 L1332.1,236.7 L1332.6,237.1 L1333.1,237.4 L1333.6,237.5 L1334.1,237.6 L1334.6,237.6 L1335.1,237.4 L1335.6,237.3 L1336.1,237.0 L1336.6,236.7 L1337.1,236.4 L1337.6,236.0 L1338.1,235.6 L1338.6,235.1 L1339.1,234.7 L1339.6,234.2 L1340.1,233.7 L1340.6,233.3 L1341.1,232.8 L1341.6,232.4 L1342.1,231.9 L1342.6,231.6 L1342.7,231.5 L1343.1,231.2 L1343.6,230.8 L1344.1,230.3 L1344.6,229.8 L1345.1,229.5 L1345.6,229.2 L1346.1,229.0 L1346.3,229.0 L1346.6,229.0 L1347.1,229.2 L1347.6,229.5 L1348.1,229.8 L1348.6,230.3 L1349.1,230.9 L1349.6,231.6 L1350.1,232.3 L1350.6,233.2 L1351.1,234.0 L1351.6,234.9 L1352.1,235.9 L1352.6,236.8 L1353.1,237.8 L1353.6,238.8 L1354.1,239.7 L1354.6,240.7 L1354.9,241.2 L1355.1,241.6 L1355.6,242.5 L1356.1,243.6 L1356.6,244.7 L1357.1,245.8 L1357.6,247.1 L1358.1,248.3 L1358.6,249.6 L1359.1,250.9 L1359.6,252.2 L1360.1,253.5 L1360.6,254.8 L1361.1,256.2 L1361.6,257.5 L1362.1,258.7 L1362.2,259.0 L1362.6,260.1 L1363.1,261.6 L1363.6,263.1 L1364.1,264.8 L1364.6,266.3 L1365.1,267.8 L1365.6,269.2 L1366.1,270.3 L1366.6,271.2 L1367.1,271.7 L1367.6,272.0 L1368.1,272.3 L1368.6,272.6 L1369.1,272.8 L1369.6,273.0 L1370.1,273.2 L1370.6,273.3 L1371.1,273.4 L1371.6,273.5 L1372.0,273.5 L1372.1,273.5 L1372.6,273.5 L1373.1,273.5 L1373.6,273.5 L1374.1,273.5 L1374.6,273.5 L1375.1,273.5 L1375.6,273.5 L1376.1,273.5 L1376.6,273.5 L1377.1,273.5 L1377.6,273.5 L1378.1,273.5 L1378.6,273.5 L1379.1,273.5 L1379.4,273.5 L1379.6,273.5 L1380.1,273.1 L1380.6,272.5 L1381.1,271.6 L1381.6,270.5 L1382.1,269.2 L1382.6,267.9 L1383.1,266.4 L1383.6,265.0 L1384.1,263.6 L1384.3,263.1 L1384.6,262.3 L1385.1,260.8 L1385.6,259.1 L1386.1,257.4 L1386.6,255.6 L1387.1,253.8 L1387.6,252.0 L1388.1,250.2 L1388.6,248.6 L1389.1,247.2 L1389.6,245.9 L1390.1,244.6 L1390.6,243.3 L1391.1,242.1 L1391.6,241.0 L1392.1,239.9 L1392.6,239.0 L1392.8,238.7 L1393.1,238.2 L1393.6,237.4 L1394.1,236.6 L1394.6,235.8 L1395.1,235.0 L1395.6,234.2 L1396.1,233.5 L1396.6,232.9 L1397.1,232.4 L1397.6,232.0 L1398.1,231.7 L1398.6,231.5 L1398.9,231.5 L1399.1,231.5 L1399.6,231.7 L1400.1,232.0 L1400.6,232.5 L1401.1,233.1 L1401.6,233.9 L1402.1,234.7 L1402.6,235.7 L1403.1,236.7 L1403.6,237.7 L1404.1,238.8 L1404.6,239.9 L1405.1,241.0 L1405.6,242.1 L1406.0,243.0 L1406.1,243.2 L1406.6,244.4 L1407.1,245.7 L1407.6,247.1 L1408.1,248.6 L1408.6,250.2 L1409.1,251.8 L1409.6,253.4 L1410.1,255.0 L1410.6,256.5 L1411.1,258.0 L1411.6,259.4 L1412.1,260.9 L1412.6,262.4 L1413.1,263.9 L1413.6,265.2 L1414.1,266.5 L1414.6,267.6 L1414.8,268.0 L1415.1,268.6 L1415.6,269.6 L1416.1,270.6 L1416.6,271.4 L1417.1,272.1 L1417.6,272.6 L1418.0,272.7 L1418.1,272.7 L1418.6,272.7 L1419.1,272.6 L1419.6,272.4 L1420.1,272.2 L1420.6,272.0 L1421.1,271.7 L1421.6,271.4 L1422.1,271.0 L1422.6,270.7 L1423.1,270.3 L1423.4,270.0 L1423.6,269.8 L1424.1,269.0 L1424.6,267.9 L1425.1,266.5 L1425.6,264.8 L1426.1,263.0 L1426.6,261.0 L1427.1,259.0 L1427.6,256.9 L1428.1,254.8 L1428.6,252.9 L1429.1,251.0 L1429.4,250.0 L1429.6,249.3 L1430.1,247.6 L1430.6,245.9 L1431.1,244.1 L1431.6,242.2 L1432.1,240.4 L1432.6,238.6 L1433.1,236.7 L1433.6,235.0 L1434.1,233.2 L1434.6,231.6 L1435.1,230.0 L1435.6,228.5 L1436.1,227.1 L1436.6,225.9 L1437.1,224.8 L1437.2,224.6 L1437.6,223.8 L1438.1,222.7 L1438.6,221.9 L1439.1,221.6 L1439.6,221.8 L1440.1,222.3 L1440.6,223.1 L1441.1,224.2 L1441.6,225.6 L1442.1,227.1 L1442.6,228.8 L1443.1,230.6 L1443.6,232.4 L1444.1,234.3 L1444.6,236.2 L1445.1,238.1 L1445.6,239.9 L1446.1,241.5 L1446.6,243.0 L1447.0,244.1 L1447.1,244.4 L1447.6,245.6 L1448.1,247.0 L1448.6,248.3 L1449.1,249.7 L1449.6,251.1 L1450.1,252.4 L1450.6,253.7 L1451.1,255.0 L1451.6,256.2 L1452.1,257.4 L1452.6,258.5 L1453.1,259.4 L1453.6,260.3 L1454.1,261.0 L1454.6,261.6 L1455.0,262.0 L1455.1,262.1 L1455.6,262.5 L1456.1,262.9 L1456.6,263.2 L1457.1,263.6 L1457.6,263.9 L1458.1,264.3 L1458.6,264.6 L1459.1,264.9 L1459.6,265.2 L1460.1,265.4 L1460.6,265.7 L1461.1,265.9 L1461.6,266.1 L1462.1,266.2 L1462.6,266.3 L1463.1,266.5 L1463.6,266.5 L1464.1,266.6 L1464.6,266.6 L1465.1,266.6 L1465.6,266.4 L1466.1,266.3 L1466.6,266.0 L1467.1,265.7 L1467.6,265.3 L1468.1,264.9 L1468.6,264.5 L1469.1,264.0 L1469.6,263.4 L1470.1,262.9 L1470.6,262.3 L1471.1,261.7 L1471.6,261.1 L1472.1,260.5 L1472.6,259.9 L1473.1,259.3 L1473.6,258.7 L1474.1,258.1 L1474.4,257.8 L1474.6,257.6 L1475.1,257.0 L1475.6,256.3 L1476.1,255.6 L1476.6,254.8 L1477.1,254.0 L1477.6,253.2 L1478.1,252.3 L1478.6,251.4 L1479.1,250.6 L1479.6,249.7 L1480.1,248.9 L1480.6,248.1 L1481.1,247.4 L1481.6,246.6 L1482.1,246.0 L1482.6,245.4 L1483.1,244.9 L1483.6,244.4 L1484.1,244.1 L1484.6,243.8 L1485.1,243.5 L1485.6,243.2 L1486.1,243.0 L1486.6,242.7 L1487.1,242.4 L1487.6,242.2 L1488.1,241.9 L1488.6,241.7 L1489.1,241.5 L1489.6,241.2 L1490.1,241.0 L1490.6,240.8 L1491.1,240.7 L1491.6,240.5 L1492.1,240.4 L1492.6,240.2 L1493.1,240.1 L1493.6,240.0 L1494.1,239.9 L1494.6,239.9 L1495.1,239.8 L1495.6,239.8 L1495.9,239.8 L1496.1,239.8 L1496.6,239.9 L1497.1,240.1 L1497.6,240.4 L1498.1,240.7 L1498.6,241.1 L1499.1,241.6 L1499.6,242.2 L1500.1,242.8 L1500.6,243.5 L1501.1,244.2 L1501.6,244.9 L1502.1,245.6 L1502.6,246.4 L1503.1,247.2 L1503.6,247.9 L1503.7,248.1 L1504.1,248.8 L1504.6,249.9 L1505.1,251.1 L1505.6,252.5 L1506.1,253.9 L1506.6,255.5 L1507.1,257.0 L1507.6,258.6 L1508.1,260.0 L1508.6,261.4 L1509.1,262.6 L1509.6,263.7 L1510.1,264.7 L1510.6,265.7 L1511.1,266.7 L1511.6,267.7 L1512.1,268.7 L1512.6,269.6 L1513.1,270.4 L1513.6,271.1 L1514.1,271.7 L1514.6,272.2 L1515.1,272.4 L1515.5,272.5 L1515.6,272.5 L1516.1,272.3 L1516.6,271.9 L1517.1,271.4 L1517.6,270.7 L1518.1,269.8 L1518.6,268.9 L1519.1,267.9 L1519.6,266.9 L1520.1,265.9 L1520.6,264.9 L1521.1,264.0 L1521.3,263.7 L1521.6,263.2 L1522.1,262.3 L1522.6,261.3 L1523.1,260.3 L1523.6,259.3 L1524.1,258.2 L1524.6,257.2 L1525.1,256.1 L1525.6,255.1 L1526.1,254.1 L1526.6,253.2 L1527.1,252.4 L1527.6,251.6 L1528.1,251.0 L1528.6,250.4 L1529.1,250.1 L1529.2,250.0 L1529.6,249.8 L1530.1,249.5 L1530.6,249.3 L1531.1,249.0 L1531.6,248.8 L1532.1,248.6 L1532.6,248.4 L1533.1,248.3 L1533.6,248.2 L1534.1,248.1 L1534.6,248.0 L1535.0,248.0 L1535.1,248.0 L1535.6,248.1 L1536.1,248.2 L1536.6,248.4 L1537.1,248.6 L1537.6,248.9 L1538.1,249.3 L1538.6,249.7 L1539.1,250.1 L1539.6,250.6 L1540.1,251.1 L1540.6,251.6 L1541.1,252.1 L1541.6,252.6 L1542.1,253.2 L1542.6,253.7 L1543.1,254.2 L1543.6,254.7 L1544.1,255.2 L1544.6,255.7 L1544.8,255.9 L1545.1,256.2 L1545.6,256.6 L1546.1,257.1 L1546.6,257.6 L1547.1,258.2 L1547.6,258.7 L1548.1,259.2 L1548.6,259.8 L1549.1,260.3 L1549.6,260.8 L1550.1,261.4 L1550.6,261.9 L1551.1,262.5 L1551.6,263.0 L1552.1,263.5 L1552.6,264.0 L1553.1,264.4 L1553.6,264.9 L1554.1,265.3 L1554.6,265.7 L1555.1,266.1 L1555.6,266.4 L1556.1,266.8 L1556.6,267.2 L1557.1,267.5 L1557.6,267.8 L1558.1,268.2 L1558.6,268.5 L1559.1,268.8 L1559.6,269.1 L1560.1,269.4 L1560.6,269.7 L1561.1,269.9 L1561.6,270.2 L1562.1,270.5 L1562.4,270.6 L1562.6,270.7 L1563.1,270.9 L1563.6,271.1 L1564.1,271.3 L1564.6,271.5 L1565.1,271.7 L1565.6,271.9 L1565.9,272.0" stroke="#EDB120"/>
<path d="M1054.1,273.1 L1054.6,273.1 L1055.1,273.1 L1055.6,273.1 L1056.1,273.1 L1056.6,273.1 L1057.1,273.1 L1057.6,273.1 L1058.1,273.1 L1058.6,273.1 L1059.1,273.1 L1059.6,273.1 L1060.1,273.1 L1060.6,273.1 L1061.1,273.1 L1061.6,273.1 L1062.1,273.1 L1062.6,273.1 L1063.1,273.1 L1063.6,273.1 L1064.1,273.1 L1064.6,273.1 L1065.1,273.1 L1065.6,273.1 L1066.1,273.1 L1066.6,273.1 L1067.1,273.1 L1067.6,273.1 L1068.1,273.1 L1068.6,273.1 L1069.1,273.1 L1069.6,273.1 L1070.1,273.1 L1070.6,273.1 L1071.1,273.1 L1071.6,273.1 L1072.1,273.1 L1072.6,273.1 L1073.1,273.1 L1073.6,273.1 L1074.1,273.1 L1074.6,273.1 L1075.1,273.1 L1075.6,273.1 L1076.1,273.1 L1076.6,273.1 L1077.1,273.1 L1077.6,273.1 L1078.1,273.1 L1078.6,273.1 L1079.1,273.1 L1079.6,273.1 L1080.1,273.1 L1080.6,273.1 L1081.1,273.1 L1081.6,273.1 L1082.1,273.1 L1082.6,273.1 L1083.1,273.1 L1083.6,273.1 L1084.1,273.1 L1084.6,273.1 L1085.1,273.1 L1085.6,273.1 L1086.1,273.1 L1086.5,273.1 L1086.6,273.1 L1087.1,272.8 L1087.6,272.1 L1088.1,271.1 L1088.6,269.8 L1089.1,268.4 L1089.6,266.8 L1090.1,265.3 L1090.6,263.8 L1091.1,262.4 L1091.3,261.9 L1091.6,261.2 L1092.1,259.8 L1092.6,258.4 L1093.1,256.9 L1093.6,255.5 L1094.1,254.1 L1094.6,252.8 L1095.1,251.6 L1095.6,250.6 L1096.1,249.8 L1096.2,249.7 L1096.6,249.2 L1097.1,248.6 L1097.6,248.1 L1098.1,247.5 L1098.6,247.0 L1099.1,246.6 L1099.6,246.2 L1100.1,245.9 L1100.6,245.6 L1101.1,245.5 L1101.6,245.4 L1101.7,245.4 L1102.1,245.5 L1102.6,245.8 L1103.1,246.3 L1103.6,246.9 L1104.1,247.7 L1104.6,248.5 L1105.1,249.4 L1105.6,250.4 L1106.1,251.4 L1106.6,252.3 L1107.1,253.1 L1107.2,253.3 L1107.6,254.0 L1108.1,254.9 L1108.6,255.8 L1109.1,256.8 L1109.6,257.9 L1110.1,258.9 L1110.6,259.9 L1111.1,260.9 L1111.6,261.8 L1112.1,262.7 L1112.6,263.4 L1113.1,264.1 L1113.3,264.3 L1113.6,264.6 L1114.1,265.2 L1114.6,265.7 L1115.1,266.2 L1115.6,266.7 L1116.1,267.1 L1116.6,267.4 L1117.1,267.7 L1117.6,267.9 L1118.1,268.0 L1118.2,268.0 L1118.6,268.0 L1119.1,267.8 L1119.6,267.6 L1120.1,267.3 L1120.6,266.9 L1121.1,266.5 L1121.6,266.0 L1122.1,265.5 L1122.6,265.0 L1123.1,264.4 L1123.6,263.9 L1124.1,263.4 L1124.6,262.8 L1125.1,262.3 L1125.6,261.9 L1126.1,261.5 L1126.6,261.0 L1127.1,260.6 L1127.6,260.1 L1128.1,259.6 L1128.6,259.1 L1129.1,258.6 L1129.6,258.1 L1130.1,257.6 L1130.6,257.2 L1131.1,256.7 L1131.6,256.2 L1132.1,255.8 L1132.6,255.3 L1133.1,254.9 L1133.6,254.5 L1134.1,254.1 L1134.6,253.8 L1135.1,253.5 L1135.4,253.3 L1135.6,253.2 L1136.1,252.9 L1136.6,252.6 L1137.1,252.3 L1137.6,252.0 L1138.1,251.7 L1138.6,251.4 L1139.1,251.2 L1139.6,250.9 L1140.1,250.7 L1140.6,250.5 L1141.1,250.3 L1141.6,250.1 L1142.1,249.9 L1142.6,249.8 L1143.1,249.8 L1143.6,249.7 L1143.9,249.7 L1144.1,249.7 L1144.6,249.7 L1145.1,249.8 L1145.6,249.8 L1146.1,249.9 L1146.6,250.0 L1147.1,250.2 L1147.6,250.3 L1148.1,250.5 L1148.6,250.9 L1149.1,251.3 L1149.6,251.9 L1150.1,252.6 L1150.6,253.4 L1151.1,254.3 L1151.6,255.2 L1152.1,256.2 L1152.6,257.1 L1153.1,258.2 L1153.6,259.2 L1153.7,259.4 L1154.1,260.4 L1154.6,261.9 L1155.1,263.7 L1155.6,265.5 L1156.1,267.3 L1156.6,268.9 L1157.1,270.0 L1157.4,270.5 L1157.6,270.7 L1158.1,271.3 L1158.6,271.8 L1159.1,272.2 L1159.6,272.6 L1160.1,272.9 L1160.6,273.1 L1161.0,273.1 L1161.1,273.1 L1161.6,273.1 L1162.1,273.1 L1162.6,273.1 L1163.1,273.1 L1163.6,273.1 L1164.1,273.1 L1164.6,273.1 L1165.1,273.1 L1165.6,273.1 L1166.1,273.1 L1166.6,273.1 L1167.1,273.1 L1167.6,272.5 L1168.1,270.8 L1168.6,268.5 L1169.1,265.7 L1169.6,262.7 L1170.1,259.9 L1170.2,259.4 L1170.6,257.3 L1171.1,254.4 L1171.6,251.3 L1172.1,248.2 L1172.6,245.1 L1173.1,242.2 L1173.3,241.1 L1173.6,239.4 L1174.1,236.8 L1174.5,235.0 L1174.6,234.6 L1175.1,232.9 L1175.6,231.2 L1176.1,229.7 L1176.6,228.3 L1177.1,227.0 L1177.6,225.8 L1178.1,224.6 L1178.6,223.5 L1179.1,222.4 L1179.4,221.7 L1179.6,221.2 L1180.1,220.0 L1180.6,218.8 L1181.1,217.5 L1181.6,216.3 L1182.1,215.1 L1182.6,214.1 L1183.1,213.3 L1183.6,212.7 L1184.1,212.4 L1184.3,212.4 L1184.6,212.5 L1185.1,213.0 L1185.6,213.8 L1186.1,215.0 L1186.6,216.4 L1187.1,218.1 L1187.6,219.9 L1188.1,221.9 L1188.6,224.0 L1189.1,226.0 L1189.6,228.1 L1190.1,230.1 L1190.6,231.9 L1191.1,233.6 L1191.6,235.0 L1192.1,236.3 L1192.6,237.7 L1193.1,239.0 L1193.6,240.3 L1194.1,241.5 L1194.6,242.5 L1195.1,243.3 L1195.3,243.6 L1195.6,244.0 L1196.1,244.6 L1196.6,245.3 L1197.1,245.8 L1197.6,246.4 L1198.1,246.9 L1198.6,247.2 L1199.1,247.5 L1199.6,247.7 L1200.1,247.8 L1200.6,247.8 L1201.1,247.6 L1201.6,247.5 L1202.1,247.2 L1202.6,246.9 L1203.1,246.6 L1203.6,246.2 L1204.1,245.7 L1204.6,245.3 L1205.1,244.8 L1205.6,244.3 L1206.1,243.8 L1206.3,243.6 L1206.6,243.3 L1207.1,242.6 L1207.6,241.8 L1208.1,240.9 L1208.6,239.9 L1209.1,238.9 L1209.6,237.9 L1210.1,236.9 L1210.6,235.9 L1211.1,235.0 L1211.6,234.1 L1212.1,233.2 L1212.6,232.2 L1213.1,231.1 L1213.6,230.1 L1214.1,229.0 L1214.6,227.9 L1215.1,226.8 L1215.6,225.7 L1216.1,224.6 L1216.6,223.6 L1217.1,222.6 L1217.6,221.7 L1218.1,220.8 L1218.6,219.9 L1219.1,219.2 L1219.6,218.5 L1220.1,218.0 L1220.6,217.5 L1221.1,217.1 L1221.6,216.9 L1222.1,216.8 L1222.2,216.8 L1222.6,216.9 L1223.1,217.3 L1223.6,218.0 L1224.1,219.0 L1224.6,220.2 L1225.1,221.6 L1225.6,223.1 L1226.1,224.8 L1226.6,226.6 L1227.1,228.5 L1227.6,230.5 L1228.1,232.5 L1228.6,234.4 L1229.0,236.0 L1229.1,236.4 L1229.6,238.7 L1230.1,241.4 L1230.6,244.4 L1231.1,247.5 L1231.6,250.7 L1232.1,253.7 L1232.6,256.5 L1233.1,259.0 L1233.2,259.4 L1233.6,261.1 L1234.1,263.3 L1234.6,265.5 L1235.1,267.5 L1235.6,269.3 L1236.1,270.6 L1236.6,271.5 L1236.8,271.7 L1237.1,271.9 L1237.6,272.2 L1238.1,272.5 L1238.6,272.7 L1239.1,272.9 L1239.6,273.0 L1240.0,273.0 L1240.1,273.0 L1240.6,273.0 L1241.1,273.0 L1241.6,272.9 L1242.1,272.8 L1242.6,272.8 L1243.1,272.7 L1243.6,272.5 L1244.1,272.4 L1244.6,272.3 L1245.1,272.1 L1245.6,271.9 L1246.1,271.7 L1246.6,271.2 L1247.1,270.2 L1247.6,268.7 L1248.1,266.8 L1248.6,264.7 L1249.1,262.4 L1249.6,259.9 L1250.1,257.5 L1250.6,255.1 L1251.0,253.3 L1251.1,252.9 L1251.6,250.3 L1252.1,247.4 L1252.6,244.3 L1253.1,241.3 L1253.6,238.5 L1254.1,236.3 L1254.6,234.7 L1254.7,234.5 L1255.1,233.7 L1255.6,232.8 L1256.1,232.0 L1256.6,231.2 L1257.1,230.4 L1257.6,229.7 L1258.1,229.1 L1258.6,228.5 L1259.1,228.0 L1259.6,227.6 L1260.1,227.2 L1260.6,226.9 L1261.1,226.7 L1261.6,226.6 L1262.0,226.6 L1262.1,226.6 L1262.6,226.6 L1263.1,226.7 L1263.6,226.7 L1264.1,226.8 L1264.6,226.9 L1265.1,227.0 L1265.6,227.2 L1266.1,227.3 L1266.6,227.5 L1267.1,227.7 L1267.6,227.9 L1268.1,228.2 L1268.6,228.4 L1269.1,228.6 L1269.6,228.9 L1270.1,229.2 L1270.6,229.5 L1271.1,229.8 L1271.6,230.1 L1271.8,230.2 L1272.1,230.4 L1272.6,230.9 L1273.1,231.6 L1273.6,232.3 L1274.1,233.2 L1274.6,234.2 L1275.1,235.3 L1275.6,236.4 L1276.1,237.6 L1276.6,238.7 L1277.1,239.9 L1277.6,241.0 L1278.1,242.1 L1278.6,243.2 L1279.1,244.1 L1279.6,245.0 L1280.1,245.7 L1280.3,246.0 L1280.6,246.4 L1281.1,247.0 L1281.6,247.7 L1282.1,248.3 L1282.6,248.9 L1283.1,249.6 L1283.6,250.2 L1284.1,250.8 L1284.6,251.3 L1285.1,251.9 L1285.6,252.3 L1286.1,252.8 L1286.6,253.1 L1287.1,253.5 L1287.6,253.7 L1288.1,253.9 L1288.6,254.0 L1288.9,254.0 L1289.1,254.0 L1289.6,253.9 L1290.1,253.6 L1290.6,253.2 L1291.1,252.7 L1291.6,252.1 L1292.1,251.4 L1292.6,250.6 L1293.1,249.7 L1293.6,248.8 L1294.1,247.9 L1294.6,246.9 L1295.1,245.9 L1295.6,244.9 L1296.1,243.8 L1296.6,242.8 L1297.1,241.9 L1297.5,241.1 L1297.6,240.9 L1298.1,239.9 L1298.6,238.7 L1299.1,237.4 L1299.6,236.0 L1300.1,234.6 L1300.6,233.2 L1301.1,231.8 L1301.6,230.5 L1302.1,229.3 L1302.6,228.2 L1303.1,227.3 L1303.6,226.6 L1304.1,226.0 L1304.6,225.4 L1305.1,224.8 L1305.6,224.3 L1306.1,223.7 L1306.6,223.2 L1307.1,222.7 L1307.6,222.2 L1308.1,221.7 L1308.6,221.3 L1309.1,220.9 L1309.6,220.6 L1310.1,220.2 L1310.6,219.9 L1311.1,219.7 L1311.6,219.5 L1312.1,219.4 L1312.6,219.3 L1313.1,219.2 L1313.3,219.2 L1313.6,219.2 L1314.1,219.3 L1314.6,219.4 L1315.1,219.6 L1315.6,219.8 L1316.1,220.0 L1316.6,220.3 L1317.1,220.6 L1317.6,221.0 L1318.1,221.3 L1318.6,221.7 L1319.1,222.1 L1319.6,222.5 L1320.1,222.9 L1320.6,223.4 L1321.1,223.8 L1321.6,224.2 L1322.1,224.6 L1322.6,224.9 L1323.1,225.3 L1323.6,225.7 L1324.1,226.1 L1324.6,226.5 L1325.1,227.0 L1325.6,227.4 L1326.1,227.9 L1326.6,228.4 L1327.1,228.9 L1327.6,229.4 L1328.1,229.9 L1328.6,230.4 L1329.1,230.8 L1329.6,231.3 L1330.1,231.6 L1330.6,232.0 L1331.1,232.2 L1331.6,232.4 L1332.1,232.6 L1332.6,232.7 L1332.9,232.7 L1333.1,232.7 L1333.6,232.5 L1334.1,232.2 L1334.6,231.8 L1335.1,231.2 L1335.6,230.5 L1336.1,229.7 L1336.6,228.9 L1337.1,227.9 L1337.6,227.0 L1337.8,226.6 L1338.1,225.9 L1338.6,224.3 L1339.1,222.3 L1339.6,219.9 L1340.1,217.3 L1340.6,214.6 L1341.1,211.9 L1341.6,209.3 L1342.1,207.0 L1342.6,205.0 L1342.7,204.6 L1343.1,203.2 L1343.6,201.5 L1344.1,199.8 L1344.6,198.0 L1345.1,196.4 L1345.6,194.7 L1346.1,193.2 L1346.6,191.7 L1347.1,190.3 L1347.6,189.0 L1348.1,187.9 L1348.6,186.9 L1349.1,186.0 L1349.6,185.4 L1350.0,185.0 L1350.1,184.9 L1350.6,184.5 L1351.1,184.2 L1351.6,183.8 L1352.1,183.5 L1352.6,183.2 L1353.1,182.9 L1353.6,182.7 L1354.1,182.4 L1354.6,182.2 L1355.1,182.1 L1355.6,182.0 L1356.1,181.9 L1356.6,181.9 L1357.1,181.9 L1357.6,182.0 L1358.1,182.2 L1358.6,182.4 L1359.1,182.6 L1359.6,182.9 L1360.1,183.3 L1360.6,183.8 L1361.1,184.3 L1361.6,184.9 L1362.1,185.5 L1362.6,186.2 L1363.1,187.0 L1363.6,187.9 L1364.1,188.8 L1364.6,189.8 L1364.7,190.0 L1365.1,191.9 L1365.6,196.3 L1366.1,201.8 L1366.6,207.0 L1367.0,210.0 L1367.1,210.6 L1367.6,213.1 L1368.1,215.4 L1368.6,217.5 L1369.1,219.4 L1369.6,221.1 L1370.1,222.7 L1370.5,224.0 L1370.6,224.3 L1371.1,226.0 L1371.6,227.8 L1372.1,229.6 L1372.6,231.1 L1373.1,232.5 L1373.6,233.4 L1374.1,233.8 L1374.2,233.8 L1374.6,233.1 L1375.1,230.6 L1375.6,227.0 L1376.1,223.0 L1376.5,220.0 L1376.6,219.3 L1377.1,215.6 L1377.6,211.7 L1378.1,207.5 L1378.6,203.3 L1379.1,199.0 L1379.6,194.7 L1380.1,190.5 L1380.6,186.2 L1381.1,181.8 L1381.6,177.3 L1382.1,172.7 L1382.6,168.0 L1383.1,163.1 L1383.4,160.0 L1383.6,157.9 L1384.1,152.7 L1384.6,147.3 L1385.1,141.8 L1385.6,136.2 L1386.1,130.3 L1386.6,124.2 L1387.1,117.8 L1387.6,111.2 L1388.1,104.3 L1388.4,100.0 L1388.6,96.9 L1389.1,88.1 L1389.6,78.4 L1390.1,68.9 L1390.6,60.7 L1390.8,58.0 L1391.1,54.3 L1391.6,48.2 L1392.1,42.5 L1392.6,37.2 L1393.1,32.4 L1393.6,28.3 L1394.1,24.8 L1394.6,22.1 L1395.1,21.6 L1395.6,21.1 L1396.1,20.6 L1396.6,20.1 L1397.1,19.6 L1397.6,19.1 L1398.1,18.6 L1398.6,18.1 L1399.1,17.6 L1399.5,17.2 L1400.0,17.8 L1400.5,18.3 L1401.0,18.9 L1401.2,19.1 L1401.7,23.4 L1402.2,27.8 L1402.7,32.2 L1403.2,36.7 L1403.7,41.2 L1404.2,45.8 L1404.7,50.5 L1405.2,55.2 L1405.5,58.0 L1405.7,59.9 L1406.2,64.7 L1406.7,69.5 L1407.2,74.3 L1407.7,79.2 L1408.2,84.3 L1408.7,89.4 L1409.2,94.6 L1409.7,100.0 L1410.2,105.6 L1410.7,111.3 L1411.2,117.2 L1411.7,123.2 L1412.2,129.3 L1412.7,135.5 L1413.2,141.8 L1413.7,148.2 L1414.2,154.6 L1414.7,161.0 L1415.2,167.4 L1415.7,173.8 L1416.2,180.1 L1416.7,186.4 L1417.2,192.7 L1417.7,198.8 L1417.8,200.0 L1418.2,205.1 L1418.7,211.8 L1419.2,218.7 L1419.7,225.6 L1420.2,231.9 L1420.7,237.5 L1421.2,242.0 L1421.5,244.1 L1421.7,245.3 L1422.2,248.2 L1422.7,251.0 L1423.2,253.7 L1423.7,256.1 L1424.2,258.2 L1424.7,260.1 L1425.2,261.5 L1425.7,262.5 L1426.2,263.0 L1426.4,263.0 L1426.7,262.9 L1427.2,262.6 L1427.7,261.9 L1428.2,261.0 L1428.7,259.8 L1429.2,258.5 L1429.7,257.1 L1430.2,255.5 L1430.7,254.0 L1431.2,252.4 L1431.7,250.9 L1432.2,249.5 L1432.7,248.3 L1433.2,247.2 L1433.3,247.0 L1433.7,246.3 L1434.2,245.4 L1434.7,244.5 L1435.2,243.6 L1435.7,242.8 L1436.2,242.0 L1436.7,241.2 L1437.2,240.4 L1437.7,239.7 L1438.2,238.9 L1438.7,238.2 L1439.2,237.5 L1439.7,236.9 L1440.0,236.5 L1440.2,236.2 L1440.7,235.6 L1441.2,234.8 L1441.7,234.1 L1442.2,233.4 L1442.7,232.7 L1443.2,232.0 L1443.7,231.4 L1444.2,230.9 L1444.7,230.5 L1445.2,230.2 L1445.7,230.0 L1446.0,230.0 L1446.2,230.0 L1446.7,230.3 L1447.2,230.9 L1447.7,231.7 L1448.2,232.6 L1448.7,233.7 L1449.2,234.9 L1449.7,236.1 L1450.2,237.3 L1450.5,238.0 L1450.7,238.5 L1451.2,239.7 L1451.7,241.0 L1452.2,242.5 L1452.7,244.0 L1453.2,245.6 L1453.7,247.3 L1454.2,249.0 L1454.5,250.0 L1454.7,250.7 L1455.2,252.7 L1455.7,254.9 L1456.2,257.2 L1456.7,259.5 L1457.2,261.7 L1457.7,263.6 L1458.2,265.2 L1458.5,266.0 L1458.7,266.5 L1459.2,267.6 L1459.7,268.7 L1460.2,269.8 L1460.7,270.7 L1461.2,271.5 L1461.7,272.0 L1462.2,272.4 L1462.6,272.5 L1462.7,272.5 L1463.2,272.5 L1463.7,272.5 L1464.2,272.5 L1464.7,272.5 L1465.2,272.5 L1465.7,272.5 L1466.2,272.5 L1466.7,272.5 L1467.2,272.5 L1467.7,272.5 L1468.2,272.5 L1468.7,272.5 L1469.2,272.5 L1469.7,272.5 L1470.2,272.5 L1470.7,272.5 L1471.2,272.5 L1471.7,272.5 L1472.2,272.5 L1472.7,272.5 L1473.2,272.5 L1473.7,272.5 L1474.2,272.5 L1474.7,272.5 L1475.2,272.5 L1475.7,272.5 L1476.2,272.5 L1476.3,272.5 L1476.7,272.3 L1477.2,271.8 L1477.7,270.8 L1478.2,269.6 L1478.7,268.1 L1479.2,266.5 L1479.7,264.8 L1480.2,263.1 L1480.7,261.5 L1481.2,260.0 L1481.7,258.8 L1482.2,257.8 L1482.7,257.0 L1483.2,256.2 L1483.7,255.4 L1484.2,254.6 L1484.7,253.9 L1485.2,253.2 L1485.7,252.5 L1486.2,252.0 L1486.7,251.6 L1487.2,251.2 L1487.7,251.0 L1488.1,251.0 L1488.2,251.0 L1488.7,251.1 L1489.2,251.4 L1489.7,251.8 L1490.2,252.3 L1490.7,252.9 L1491.2,253.6 L1491.7,254.4 L1492.2,255.2 L1492.7,256.1 L1493.2,257.0 L1493.7,257.9 L1494.2,258.8 L1494.7,259.8 L1495.2,260.6 L1495.7,261.5 L1495.9,261.8 L1496.2,262.3 L1496.7,263.3 L1497.2,264.4 L1497.7,265.6 L1498.2,266.8 L1498.7,268.0 L1499.2,269.1 L1499.7,270.2 L1500.2,271.1 L1500.7,271.8 L1501.2,272.3 L1501.7,272.5 L1501.8,272.5 L1502.2,272.5 L1502.7,272.5 L1503.2,272.5 L1503.7,272.5 L1504.2,272.5 L1504.7,272.5 L1505.2,272.5 L1505.7,272.5 L1506.2,272.5 L1506.7,272.5 L1507.2,272.5 L1507.7,272.5 L1508.2,272.5 L1508.7,272.5 L1509.2,272.5 L1509.7,272.5 L1510.2,272.5 L1510.7,272.5 L1511.2,272.5 L1511.7,272.5 L1512.0,272.5 L1512.2,272.5 L1512.7,272.3 L1513.2,272.0 L1513.7,271.6 L1514.2,271.0 L1514.7,270.4 L1515.2,269.7 L1515.7,268.9 L1516.2,268.1 L1516.7,267.3 L1517.2,266.5 L1517.7,265.8 L1518.2,265.1 L1518.7,264.4 L1519.2,263.9 L1519.4,263.7 L1519.7,263.4 L1520.2,263.0 L1520.7,262.5 L1521.2,262.0 L1521.7,261.6 L1522.2,261.1 L1522.7,260.6 L1523.2,260.2 L1523.7,259.7 L1524.2,259.3 L1524.7,258.9 L1525.2,258.5 L1525.7,258.2 L1526.2,257.9 L1526.7,257.6 L1527.2,257.3 L1527.7,257.2 L1528.2,257.0 L1528.7,256.9 L1529.2,256.9 L1529.7,256.9 L1530.2,256.9 L1530.7,257.0 L1531.2,257.0 L1531.7,257.1 L1532.2,257.2 L1532.7,257.3 L1533.2,257.4 L1533.7,257.5 L1534.2,257.6 L1534.7,257.7 L1535.2,257.9 L1535.7,258.0 L1536.2,258.2 L1536.7,258.3 L1537.2,258.5 L1537.7,258.7 L1538.2,258.8 L1538.7,259.0 L1539.2,259.2 L1539.7,259.4 L1540.2,259.5 L1540.7,259.7 L1540.9,259.8 L1541.2,259.9 L1541.7,260.1 L1542.2,260.4 L1542.7,260.6 L1543.2,260.9 L1543.7,261.2 L1544.2,261.6 L1544.7,261.9 L1545.2,262.3 L1545.7,262.6 L1546.2,263.0 L1546.7,263.4 L1547.2,263.8 L1547.7,264.2 L1548.2,264.6 L1548.7,265.0 L1549.2,265.3 L1549.7,265.7 L1550.2,266.1 L1550.7,266.4 L1551.2,266.8 L1551.7,267.1 L1552.2,267.4 L1552.6,267.6 L1552.7,267.7 L1553.2,267.9 L1553.7,268.2 L1554.2,268.4 L1554.7,268.7 L1555.2,269.0 L1555.7,269.2 L1556.2,269.5 L1556.7,269.7 L1557.2,269.9 L1557.7,270.2 L1558.2,270.4 L1558.7,270.6 L1559.2,270.9 L1559.7,271.1 L1560.2,271.3 L1560.7,271.5 L1561.2,271.7 L1561.7,272.0 L1562.2,272.2 L1562.7,272.4 L1563.2,272.5 L1563.7,272.7 L1564.2,272.9 L1564.7,273.1 L1565.2,273.3 L1565.7,273.4 L1565.9,273.5" stroke="#7E2F8E"/>
<path d="M1054.1,246.6 L1054.6,247.7 L1055.1,248.7 L1055.6,249.8 L1056.1,250.9 L1056.6,252.0 L1057.1,253.1 L1057.6,254.2 L1058.1,255.3 L1058.3,255.8 L1058.6,256.5 L1059.1,257.8 L1059.6,259.1 L1060.1,260.5 L1060.6,262.0 L1061.1,263.4 L1061.6,264.8 L1062.1,266.1 L1062.6,267.3 L1063.1,268.4 L1063.6,269.4 L1064.1,270.1 L1064.4,270.5 L1064.6,270.7 L1065.1,271.2 L1065.6,271.7 L1066.1,272.2 L1066.6,272.5 L1067.1,272.8 L1067.6,273.0 L1068.1,273.1 L1068.6,273.1 L1069.1,273.1 L1069.6,273.1 L1070.1,273.1 L1070.6,273.1 L1071.1,273.1 L1071.6,273.1 L1072.1,273.1 L1072.6,273.1 L1073.1,273.1 L1073.6,273.1 L1074.1,273.1 L1074.6,273.1 L1075.1,273.1 L1075.6,273.1 L1076.1,273.1 L1076.6,273.1 L1077.1,273.1 L1077.6,273.1 L1078.1,273.1 L1078.6,273.1 L1079.1,273.1 L1079.6,272.6 L1080.1,271.4 L1080.6,269.5 L1081.1,267.3 L1081.6,264.8 L1082.1,262.4 L1082.6,260.2 L1082.8,259.4 L1083.1,258.3 L1083.6,256.4 L1084.1,254.5 L1084.6,252.6 L1085.1,250.7 L1085.6,248.8 L1086.1,246.9 L1086.6,245.1 L1087.1,243.2 L1087.6,241.5 L1087.7,241.1 L1088.1,239.7 L1088.6,237.9 L1089.1,236.3 L1089.5,235.0 L1089.6,234.7 L1090.1,232.9 L1090.6,231.1 L1091.1,229.5 L1091.6,228.3 L1092.1,227.8 L1092.6,227.9 L1093.1,228.3 L1093.6,228.8 L1094.1,229.5 L1094.6,230.3 L1095.1,231.2 L1095.6,232.2 L1096.1,233.3 L1096.6,234.4 L1096.9,235.0 L1097.1,235.5 L1097.6,236.8 L1098.1,238.4 L1098.6,240.2 L1099.1,242.1 L1099.6,244.1 L1100.1,246.0 L1100.6,247.9 L1101.1,249.7 L1101.6,251.4 L1102.1,253.2 L1102.6,254.9 L1103.1,256.7 L1103.6,258.4 L1104.1,260.1 L1104.6,261.7 L1105.1,263.2 L1105.6,264.6 L1106.0,265.6 L1106.1,265.8 L1106.6,267.1 L1107.1,268.5 L1107.6,269.8 L1108.1,270.9 L1108.6,271.9 L1109.1,272.6 L1109.6,272.9 L1109.7,272.9 L1110.1,272.9 L1110.6,272.9 L1111.1,272.9 L1111.6,273.0 L1112.1,273.0 L1112.6,273.0 L1113.1,273.0 L1113.6,273.0 L1114.1,273.0 L1114.6,273.0 L1115.1,273.0 L1115.6,273.0 L1116.1,273.1 L1116.6,273.1 L1117.1,273.1 L1117.6,273.1 L1118.1,273.1 L1118.6,273.1 L1119.1,273.1 L1119.6,273.1 L1120.1,273.1 L1120.6,273.1 L1121.1,273.1 L1121.6,273.1 L1122.1,273.1 L1122.6,273.1 L1123.1,273.1 L1123.6,272.9 L1124.1,272.3 L1124.6,271.3 L1125.1,270.1 L1125.6,268.7 L1126.1,267.2 L1126.6,265.7 L1127.1,264.2 L1127.6,262.9 L1128.0,261.9 L1128.1,261.7 L1128.6,260.5 L1129.1,259.3 L1129.6,258.1 L1130.1,256.9 L1130.6,255.7 L1131.1,254.5 L1131.6,253.4 L1132.1,252.2 L1132.6,251.2 L1133.1,250.2 L1133.6,249.2 L1134.1,248.4 L1134.6,247.6 L1135.1,246.7 L1135.6,245.9 L1136.1,245.1 L1136.6,244.3 L1137.1,243.6 L1137.6,243.1 L1138.1,242.6 L1138.6,242.4 L1139.0,242.3 L1139.1,242.3 L1139.6,242.5 L1140.1,243.0 L1140.6,243.7 L1141.1,244.5 L1141.6,245.6 L1142.1,246.7 L1142.6,247.9 L1143.1,249.0 L1143.6,250.2 L1143.9,250.9 L1144.1,251.4 L1144.6,252.6 L1145.1,254.0 L1145.6,255.6 L1146.1,257.2 L1146.6,258.8 L1147.1,260.5 L1147.6,262.1 L1148.1,263.6 L1148.6,265.1 L1148.8,265.6 L1149.1,266.4 L1149.6,267.9 L1150.1,269.5 L1150.6,270.9 L1151.1,272.0 L1151.6,272.7 L1151.9,272.9 L1152.1,272.9 L1152.6,273.0 L1153.1,273.0 L1153.6,273.0 L1154.1,273.1 L1154.6,273.1 L1155.1,273.1 L1155.5,273.1 L1155.6,273.1 L1156.1,272.2 L1156.6,270.3 L1157.1,267.8 L1157.6,264.9 L1158.1,262.0 L1158.6,259.4 L1159.1,257.0 L1159.6,254.5 L1160.1,251.9 L1160.6,249.3 L1161.1,246.7 L1161.6,244.1 L1162.1,241.6 L1162.2,241.1 L1162.6,239.2 L1163.1,236.8 L1163.5,235.0 L1163.6,234.5 L1164.1,232.2 L1164.6,229.9 L1165.1,227.5 L1165.6,225.1 L1166.1,222.8 L1166.6,220.6 L1167.1,218.6 L1167.6,216.7 L1168.1,215.1 L1168.4,214.3 L1168.6,213.8 L1169.1,212.5 L1169.6,211.2 L1170.1,209.9 L1170.6,208.7 L1171.1,207.6 L1171.6,206.7 L1172.1,205.9 L1172.6,205.2 L1173.1,204.8 L1173.6,204.6 L1173.7,204.6 L1174.1,204.7 L1174.6,205.1 L1175.1,205.7 L1175.6,206.6 L1176.1,207.7 L1176.6,209.0 L1177.1,210.4 L1177.6,211.9 L1178.1,213.6 L1178.6,215.2 L1179.1,216.9 L1179.6,218.5 L1180.1,220.2 L1180.6,221.7 L1181.1,223.3 L1181.6,225.0 L1182.1,226.7 L1182.6,228.6 L1183.1,230.5 L1183.6,232.4 L1184.1,234.3 L1184.3,235.0 L1184.6,236.1 L1185.1,238.0 L1185.6,239.9 L1186.1,241.8 L1186.6,243.8 L1187.1,245.7 L1187.6,247.7 L1188.1,249.6 L1188.6,251.5 L1189.1,253.3 L1189.6,255.2 L1190.1,257.3 L1190.6,259.4 L1191.1,261.6 L1191.6,263.6 L1192.1,265.6 L1192.6,267.3 L1193.1,268.8 L1193.6,269.9 L1194.0,270.5 L1194.1,270.6 L1194.6,271.2 L1195.1,271.7 L1195.6,272.1 L1196.1,272.5 L1196.6,272.8 L1197.1,273.0 L1197.6,273.1 L1197.7,273.1 L1198.1,273.1 L1198.6,272.9 L1199.1,272.7 L1199.6,272.4 L1200.1,271.9 L1200.6,271.4 L1201.1,270.9 L1201.4,270.5 L1201.6,270.1 L1202.1,268.3 L1202.6,265.6 L1203.1,262.2 L1203.6,258.6 L1204.1,255.2 L1204.4,253.3 L1204.6,252.2 L1205.1,249.5 L1205.6,247.0 L1206.1,244.4 L1206.6,241.5 L1207.1,238.2 L1207.5,235.0 L1207.6,234.1 L1208.1,228.3 L1208.6,221.0 L1209.1,212.8 L1209.6,204.6 L1209.9,200.0 L1210.1,197.0 L1210.6,189.6 L1211.1,182.1 L1211.6,174.5 L1212.1,167.0 L1212.6,159.3 L1213.1,151.7 L1213.6,144.1 L1214.1,136.5 L1214.6,128.8 L1215.1,121.2 L1215.6,113.6 L1216.1,106.0 L1216.5,100.0 L1216.6,98.5 L1217.1,90.7 L1217.6,82.8 L1218.1,75.0 L1218.6,67.5 L1219.1,60.6 L1219.3,58.0 L1219.6,54.3 L1220.1,48.2 L1220.6,42.4 L1221.1,36.9 L1221.6,31.6 L1222.1,26.7 L1222.6,22.1 L1223.0,18.7 L1223.5,18.3 L1224.0,17.8 L1224.5,17.4 L1225.0,17.0 L1225.3,16.7 L1225.8,17.4 L1226.3,18.2 L1226.8,18.9 L1227.0,19.2 L1227.5,20.6 L1228.0,22.0 L1228.5,23.4 L1229.0,24.8 L1229.5,26.2 L1230.0,27.6 L1230.2,28.2 L1230.7,33.3 L1231.2,38.6 L1231.7,44.1 L1232.2,49.8 L1232.7,55.6 L1232.9,58.0 L1233.2,61.6 L1233.7,67.9 L1234.2,74.3 L1234.7,80.9 L1235.2,87.7 L1235.7,94.5 L1236.1,100.0 L1236.2,101.4 L1236.7,108.5 L1237.2,115.8 L1237.7,123.2 L1238.2,130.9 L1238.7,138.6 L1239.2,146.3 L1239.7,154.0 L1240.2,161.7 L1240.7,169.2 L1241.2,176.6 L1241.7,183.8 L1242.2,190.8 L1242.7,197.4 L1242.9,200.0 L1243.2,203.9 L1243.7,209.4 L1244.2,213.1 L1244.7,216.5 L1245.2,219.7 L1245.7,222.6 L1246.2,225.3 L1246.7,227.8 L1247.2,230.0 L1247.7,232.1 L1248.2,233.9 L1248.7,235.6 L1249.2,237.2 L1249.7,238.5 L1249.8,238.8 L1250.2,239.8 L1250.7,241.1 L1251.2,242.3 L1251.7,243.5 L1252.2,244.6 L1252.7,245.5 L1253.2,246.2 L1253.7,246.7 L1254.2,247.0 L1254.4,247.0 L1254.7,246.9 L1255.2,246.5 L1255.7,245.8 L1256.2,244.7 L1256.7,243.4 L1257.2,241.8 L1257.7,240.0 L1258.2,238.1 L1258.7,236.1 L1259.2,233.9 L1259.7,231.7 L1260.2,229.4 L1260.7,227.2 L1261.2,225.0 L1261.7,222.9 L1262.0,221.7 L1262.2,220.9 L1262.7,218.7 L1263.2,216.4 L1263.7,213.9 L1264.2,211.3 L1264.7,208.6 L1265.2,205.9 L1265.7,203.3 L1266.2,200.7 L1266.7,198.3 L1267.2,195.9 L1267.7,193.8 L1268.1,192.3 L1268.2,191.9 L1268.7,190.1 L1269.2,188.1 L1269.7,186.2 L1270.2,184.2 L1270.7,182.3 L1271.2,180.5 L1271.7,178.8 L1272.2,177.3 L1272.7,175.9 L1273.2,174.8 L1273.7,174.0 L1274.2,173.5 L1274.7,173.3 L1275.2,173.5 L1275.7,174.0 L1276.2,174.8 L1276.7,175.9 L1277.2,177.2 L1277.7,178.9 L1278.2,180.7 L1278.7,182.8 L1279.2,185.0 L1279.7,187.4 L1280.2,189.9 L1280.7,192.6 L1281.2,195.4 L1281.7,198.3 L1282.0,200.0 L1282.2,201.4 L1282.7,206.3 L1283.2,212.6 L1283.7,219.4 L1284.2,226.0 L1284.7,231.5 L1285.2,235.0 L1285.7,237.1 L1286.2,239.1 L1286.7,240.8 L1287.2,242.4 L1287.7,243.8 L1288.2,245.1 L1288.7,246.3 L1289.2,247.3 L1289.7,248.3 L1290.2,249.2 L1290.7,250.0 L1291.2,250.7 L1291.3,250.9 L1291.7,251.5 L1292.2,252.2 L1292.7,253.0 L1293.2,253.7 L1293.7,254.4 L1294.2,255.1 L1294.7,255.7 L1295.2,256.3 L1295.7,256.8 L1296.2,257.3 L1296.7,257.7 L1297.2,258.1 L1297.7,258.3 L1298.2,258.4 L1298.7,258.5 L1299.2,258.4 L1299.7,258.3 L1300.2,258.0 L1300.7,257.7 L1301.2,257.3 L1301.7,256.8 L1302.2,256.3 L1302.7,255.7 L1303.2,255.0 L1303.7,254.3 L1304.2,253.6 L1304.7,252.9 L1305.2,252.1 L1305.7,251.4 L1306.0,250.9 L1306.2,250.6 L1306.7,249.7 L1307.2,248.6 L1307.7,247.3 L1308.2,246.0 L1308.7,244.7 L1309.2,243.3 L1309.7,241.9 L1310.2,240.5 L1310.7,239.2 L1310.9,238.7 L1311.2,237.9 L1311.7,236.5 L1312.2,234.9 L1312.7,233.4 L1313.2,232.0 L1313.7,230.9 L1314.2,230.2 L1314.6,230.0 L1314.7,230.0 L1315.2,230.3 L1315.7,230.8 L1316.2,231.7 L1316.7,232.7 L1317.2,234.0 L1317.7,235.4 L1318.2,236.9 L1318.7,238.5 L1319.2,240.1 L1319.5,241.1 L1319.7,241.8 L1320.2,243.9 L1320.7,246.5 L1321.2,249.3 L1321.7,252.2 L1322.2,255.0 L1322.7,257.6 L1323.1,259.4 L1323.2,259.8 L1323.7,261.9 L1324.2,264.0 L1324.7,266.1 L1325.2,268.0 L1325.7,269.6 L1326.2,270.9 L1326.7,271.6 L1326.8,271.7 L1327.2,272.0 L1327.7,272.3 L1328.2,272.5 L1328.7,272.7 L1329.2,272.9 L1329.7,273.0 L1330.2,273.1 L1330.5,273.1 L1330.7,273.1 L1331.2,273.1 L1331.7,273.0 L1332.2,273.0 L1332.7,272.9 L1333.2,272.8 L1333.7,272.7 L1334.2,272.6 L1334.7,272.4 L1335.2,272.2 L1335.7,272.1 L1336.2,271.9 L1336.6,271.7 L1336.7,271.6 L1337.2,271.2 L1337.7,270.3 L1338.2,269.2 L1338.7,267.9 L1339.2,266.4 L1339.7,264.8 L1340.2,263.2 L1340.7,261.7 L1341.2,260.2 L1341.5,259.4 L1341.7,258.9 L1342.2,257.6 L1342.7,256.3 L1343.2,255.0 L1343.7,253.7 L1344.2,252.4 L1344.7,251.1 L1345.2,249.7 L1345.7,248.4 L1346.2,247.1 L1346.7,245.9 L1347.2,244.6 L1347.6,243.6 L1347.7,243.4 L1348.2,242.1 L1348.7,240.8 L1349.2,239.6 L1349.7,238.4 L1350.2,237.2 L1350.7,236.1 L1351.2,235.0 L1351.7,233.9 L1352.2,232.7 L1352.7,231.5 L1353.2,230.4 L1353.7,229.6 L1354.2,229.1 L1354.5,229.0 L1354.7,229.0 L1355.2,229.3 L1355.7,229.8 L1356.2,230.4 L1356.7,231.3 L1357.2,232.2 L1357.7,233.2 L1358.2,234.2 L1358.6,235.0 L1358.7,235.2 L1359.2,236.3 L1359.7,237.5 L1360.2,238.9 L1360.7,240.4 L1361.2,242.0 L1361.7,243.6 L1362.2,245.3 L1362.7,246.9 L1363.2,248.6 L1363.7,250.2 L1364.2,251.8 L1364.7,253.3 L1365.2,254.8 L1365.7,256.3 L1366.2,257.8 L1366.7,259.4 L1367.2,260.9 L1367.7,262.3 L1368.2,263.7 L1368.7,264.9 L1369.2,266.0 L1369.6,266.8 L1369.7,267.0 L1370.2,267.9 L1370.7,268.8 L1371.2,269.7 L1371.7,270.4 L1372.2,271.1 L1372.7,271.5 L1373.2,271.7 L1373.3,271.7 L1373.7,271.7 L1374.2,271.5 L1374.7,271.3 L1375.2,271.0 L1375.7,270.6 L1376.2,270.1 L1376.7,269.6 L1377.2,269.1 L1377.7,268.5 L1378.1,268.0 L1378.2,267.9 L1378.7,267.0 L1379.2,265.9 L1379.7,264.6 L1380.2,263.1 L1380.7,261.4 L1381.2,259.7 L1381.7,257.9 L1382.2,256.2 L1382.7,254.5 L1383.2,252.9 L1383.5,252.0 L1383.7,251.4 L1384.2,250.0 L1384.7,248.5 L1385.2,246.9 L1385.7,245.4 L1386.2,244.0 L1386.7,242.6 L1387.2,241.3 L1387.7,240.1 L1388.2,239.0 L1388.5,238.5 L1388.7,238.2 L1389.2,237.3 L1389.7,236.4 L1390.2,235.6 L1390.7,234.8 L1391.2,234.1 L1391.7,233.4 L1392.2,233.0 L1392.7,232.6 L1393.2,232.5 L1393.3,232.5 L1393.7,232.5 L1394.2,232.7 L1394.7,233.0 L1395.2,233.4 L1395.7,233.9 L1396.2,234.5 L1396.7,235.2 L1397.2,235.8 L1397.7,236.6 L1398.2,237.3 L1398.7,238.1 L1399.0,238.5 L1399.2,238.8 L1399.7,239.7 L1400.2,240.8 L1400.7,242.1 L1401.2,243.4 L1401.7,244.9 L1402.2,246.3 L1402.7,247.8 L1403.2,249.3 L1403.7,250.7 L1404.2,252.1 L1404.7,253.3 L1405.2,254.4 L1405.5,255.0 L1405.7,255.4 L1406.2,256.3 L1406.7,257.2 L1407.2,258.2 L1407.7,259.1 L1408.2,260.1 L1408.7,261.0 L1409.2,261.9 L1409.7,262.7 L1410.2,263.4 L1410.7,264.1 L1411.2,264.7 L1411.7,265.3 L1412.2,265.7 L1412.7,266.0 L1413.2,266.2 L1413.6,266.2 L1413.7,266.2 L1414.2,266.1 L1414.7,265.9 L1415.2,265.6 L1415.7,265.2 L1416.2,264.7 L1416.7,264.1 L1417.2,263.5 L1417.7,262.8 L1418.2,262.1 L1418.7,261.3 L1419.2,260.6 L1419.7,259.8 L1420.2,259.0 L1420.7,258.3 L1420.9,258.0 L1421.2,257.6 L1421.7,256.8 L1422.2,255.9 L1422.7,255.0 L1423.2,254.1 L1423.7,253.1 L1424.2,252.1 L1424.7,251.1 L1425.2,250.0 L1425.7,248.9 L1426.2,247.8 L1426.7,246.7 L1427.0,246.0 L1427.2,245.5 L1427.7,244.3 L1428.2,243.0 L1428.7,241.7 L1429.2,240.3 L1429.7,238.9 L1430.2,237.5 L1430.7,236.1 L1431.2,234.6 L1431.7,233.2 L1432.2,231.8 L1432.7,230.5 L1433.2,229.2 L1433.3,229.0 L1433.7,228.0 L1434.2,226.6 L1434.7,225.2 L1435.2,223.7 L1435.7,222.2 L1436.2,220.7 L1436.7,219.3 L1437.2,218.0 L1437.7,216.8 L1438.2,215.8 L1438.7,214.9 L1439.2,214.3 L1439.7,213.9 L1440.1,213.8 L1440.2,213.8 L1440.7,214.0 L1441.2,214.5 L1441.7,215.2 L1442.2,216.2 L1442.7,217.3 L1443.2,218.6 L1443.7,220.0 L1444.2,221.5 L1444.7,223.1 L1445.2,224.7 L1445.7,226.3 L1446.2,227.9 L1446.7,229.5 L1447.0,230.4 L1447.2,231.0 L1447.7,232.7 L1448.2,234.6 L1448.7,236.6 L1449.2,238.7 L1449.7,240.8 L1450.2,243.0 L1450.7,245.0 L1451.2,247.0 L1451.7,248.8 L1452.2,250.4 L1452.7,251.8 L1452.8,252.0 L1453.2,252.9 L1453.7,254.1 L1454.2,255.3 L1454.7,256.3 L1455.2,257.3 L1455.7,258.0 L1456.2,258.6 L1456.7,258.8 L1456.8,258.8 L1457.2,258.7 L1457.7,258.4 L1458.2,257.8 L1458.7,257.0 L1459.2,256.1 L1459.7,255.0 L1460.2,253.9 L1460.7,252.7 L1461.2,251.4 L1461.7,250.2 L1462.2,249.0 L1462.6,248.1 L1462.7,247.9 L1463.2,246.7 L1463.7,245.4 L1464.2,243.9 L1464.7,242.4 L1465.2,240.8 L1465.7,239.2 L1466.2,237.6 L1466.7,235.9 L1467.2,234.3 L1467.7,232.8 L1468.2,231.4 L1468.7,230.0 L1469.2,228.8 L1469.7,227.8 L1470.2,226.9 L1470.5,226.5 L1470.7,226.2 L1471.2,225.6 L1471.7,225.0 L1472.2,224.4 L1472.7,223.8 L1473.2,223.2 L1473.7,222.7 L1474.2,222.2 L1474.7,221.8 L1475.2,221.4 L1475.7,221.1 L1476.2,220.9 L1476.7,220.8 L1477.2,220.7 L1477.3,220.7 L1477.7,220.7 L1478.2,220.9 L1478.7,221.2 L1479.2,221.6 L1479.7,222.1 L1480.2,222.7 L1480.7,223.4 L1481.2,224.2 L1481.7,225.0 L1482.2,225.9 L1482.7,226.9 L1483.2,227.9 L1483.7,229.0 L1484.2,230.1 L1484.7,231.2 L1485.2,232.3 L1485.7,233.5 L1486.1,234.4 L1486.2,234.6 L1486.7,236.0 L1487.2,237.6 L1487.7,239.4 L1488.2,241.4 L1488.7,243.5 L1489.2,245.7 L1489.7,248.0 L1490.2,250.2 L1490.7,252.5 L1491.2,254.6 L1491.7,256.7 L1492.0,257.8 L1492.2,258.6 L1492.7,260.6 L1493.2,262.7 L1493.7,264.9 L1494.2,266.9 L1494.7,268.7 L1495.2,270.2 L1495.7,271.2 L1495.9,271.5 L1496.2,271.8 L1496.7,272.3 L1497.2,272.7 L1497.7,272.9 L1497.8,272.9 L1498.2,272.9 L1498.7,272.9 L1499.2,272.9 L1499.7,272.9 L1500.2,272.9 L1500.7,272.9 L1501.2,272.9 L1501.7,272.9 L1502.2,272.9 L1502.7,272.9 L1503.2,272.9 L1503.7,272.9 L1504.2,272.9 L1504.7,272.9 L1505.2,272.9 L1505.7,272.9 L1506.2,272.9 L1506.7,272.9 L1507.2,272.9 L1507.7,272.9 L1508.2,272.9 L1508.7,272.9 L1509.2,272.9 L1509.7,272.9 L1510.2,272.9 L1510.7,272.9 L1511.2,272.9 L1511.5,272.9 L1511.7,272.8 L1512.2,272.0 L1512.7,270.5 L1513.2,268.4 L1513.7,266.1 L1514.2,263.6 L1514.7,261.1 L1515.2,258.9 L1515.5,257.8 L1515.7,257.1 L1516.2,255.4 L1516.7,253.6 L1517.2,251.9 L1517.7,250.2 L1518.2,248.5 L1518.7,246.8 L1519.2,245.3 L1519.7,243.9 L1520.2,242.5 L1520.7,241.4 L1521.2,240.4 L1521.3,240.2 L1521.7,239.5 L1522.2,238.6 L1522.7,237.8 L1523.2,236.9 L1523.7,236.1 L1524.2,235.4 L1524.7,234.7 L1525.2,234.1 L1525.7,233.7 L1526.2,233.3 L1526.7,233.1 L1527.2,233.0 L1527.7,233.1 L1528.2,233.5 L1528.7,234.1 L1529.2,234.8 L1529.7,235.8 L1530.2,236.8 L1530.7,238.0 L1531.2,239.2 L1531.7,240.5 L1532.2,241.8 L1532.7,243.1 L1533.1,244.1 L1533.2,244.4 L1533.7,245.8 L1534.2,247.6 L1534.7,249.5 L1535.2,251.6 L1535.7,253.7 L1536.2,255.9 L1536.7,258.1 L1537.2,260.2 L1537.7,262.1 L1538.2,263.8 L1538.7,265.2 L1538.9,265.7 L1539.2,266.4 L1539.7,267.6 L1540.2,268.7 L1540.7,269.8 L1541.2,270.8 L1541.7,271.6 L1542.2,272.2 L1542.7,272.5 L1542.9,272.5 L1543.2,272.5 L1543.7,272.3 L1544.2,272.0 L1544.7,271.6 L1545.2,271.1 L1545.7,270.5 L1546.2,269.9 L1546.7,269.2 L1547.2,268.5 L1547.7,267.7 L1548.2,267.0 L1548.7,266.2 L1549.2,265.5 L1549.7,264.8 L1550.2,264.2 L1550.7,263.7 L1551.2,263.2 L1551.7,262.6 L1552.2,262.1 L1552.7,261.5 L1553.2,260.9 L1553.7,260.3 L1554.2,259.8 L1554.7,259.2 L1555.2,258.7 L1555.7,258.3 L1556.2,257.9 L1556.7,257.5 L1557.2,257.2 L1557.7,257.0 L1558.2,256.9 L1558.5,256.9 L1558.7,256.9 L1559.2,257.2 L1559.7,257.8 L1560.2,258.7 L1560.7,259.7 L1561.2,260.9 L1561.7,262.2 L1562.2,263.5 L1562.7,264.8 L1563.2,266.0 L1563.4,266.5 L1563.7,267.2 L1564.2,268.4 L1564.7,269.7 L1565.2,271.1 L1565.7,272.4 L1565.9,273.0" stroke="#77AC30"/>
</g>
<g stroke="#1c1c1c" stroke-width="3.0" fill="none" stroke-linecap="butt">
<rect x="977.5" y="3.5" width="664.9000000000001" height="282.7"/>
<path d="M1017.6,286.2 v-8.2 M1017.6,3.5 v8.2"/>
<path d="M1163.7,286.2 v-8.2 M1163.7,3.5 v8.2"/>
<path d="M1309.8,286.2 v-8.2 M1309.8,3.5 v8.2"/>
<path d="M1455.9,286.2 v-8.2 M1455.9,3.5 v8.2"/>
<path d="M1602.0,286.2 v-8.2 M1602.0,3.5 v8.2"/>
<path d="M977.5,273.4 h8.2 M1642.4,273.4 h-8.2"/>
<path d="M977.5,144.9 h8.2 M1642.4,144.9 h-8.2"/>
<path d="M977.5,16.4 h8.2 M1642.4,16.4 h-8.2"/>
</g>
<g font-family="'Liberation Serif', serif" fill="#000" stroke="#000" stroke-width="0.12">
<text x="1014.7" y="340.3" font-size="43" text-anchor="middle">-0.4</text>
<text x="1160.8" y="340.3" font-size="43" text-anchor="middle">-0.2</text>
<text x="1309.1" y="340.3" font-size="43" text-anchor="middle">0</text>
<text x="1453.0" y="340.3" font-size="43" text-anchor="middle">0.2</text>
<text x="1599.1" y="340.3" font-size="43" text-anchor="middle">0.4</text>
<text x="964.9" y="290.0" font-size="43" text-anchor="end">0</text>
<text x="960.5" y="161.5" font-size="43" text-anchor="end">0.5</text>
<text x="964.0" y="33.0" font-size="43" text-anchor="end">1</text>
 <text x="1306.8" y="398.4" font-size="46.9" text-anchor="middle">x (mm)</text>
<text transform="translate(895.5,189.3) rotate(-90)" font-size="46.4" text-anchor="start">|W|<tspan font-size="36.5" dx="6.5" dy="-25.2">2</tspan></text>
<path d="M1519.6,34.4 H1543.4" stroke="#0072BD" stroke-width="5.3" fill="none"/>
<text x="1544.7" y="49.0" font-size="38.5">m=0</text>
<path d="M1519.6,82.3 H1543.4" stroke="#D95319" stroke-width="5.3" fill="none"/>
<text x="1544.7" y="96.9" font-size="38.5">m=1</text>
<path d="M1519.6,130.3 H1543.4" stroke="#EDB120" stroke-width="5.3" fill="none"/>
<text x="1544.7" y="144.9" font-size="38.5">m=-1</text>
<path d="M1519.6,178.2 H1543.4" stroke="#7E2F8E" stroke-width="5.3" fill="none"/>
<text x="1544.7" y="192.8" font-size="38.5">m=2</text>
<path d="M1519.6,226.1 H1543.4" stroke="#77AC30" stroke-width="5.3" fill="none"/>
<text x="1544.7" y="240.7" font-size="38.5">m=-2</text>
</g>
</svg>
</body></html>
